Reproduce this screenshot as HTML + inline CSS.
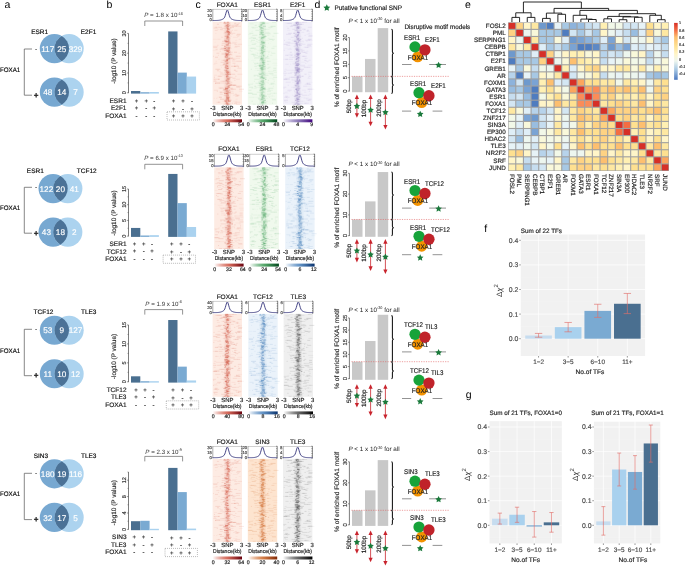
<!DOCTYPE html><html><head><meta charset="utf-8"><style>html,body{margin:0;padding:0;background:#fff;}body{width:685px;height:566px;overflow:hidden;font-family:"Liberation Sans",sans-serif;}svg{display:block;will-change:transform;}</style></head><body><svg width="685" height="566" viewBox="0 0 685 566" font-family="Liberation Sans, sans-serif" font-size="6.5" text-rendering="geometricPrecision"><defs><g id="nz0" fill="currentColor"><rect x="11.2" width="7" height="83.0" opacity="0.05"/><rect x="12.7" width="4" height="83.0" opacity="0.07"/><rect x="11.21" y="0" width="1.5" height="1" opacity="0.33"/><rect x="14.41" y="0" width="2" height="1" opacity="0.24"/><rect x="14.07" y="0" width="1" height="1" opacity="0.11"/><rect x="6.95" y="0" width="2" height="1" opacity="0.07"/><rect x="15.75" y="1" width="1.5" height="1" opacity="0.15"/><rect x="10.82" y="1" width="2" height="1" opacity="0.22"/><rect x="25.43" y="1" width="2" height="1" opacity="0.07"/><rect x="12.17" y="1" width="3" height="1" opacity="0.13"/><rect x="21.6" y="1" width="2" height="1" opacity="0.12"/><rect x="14.61" y="2" width="1.5" height="1" opacity="0.35"/><rect x="4.29" y="2" width="2" height="1" opacity="0.12"/><rect x="24.12" y="2" width="2" height="1" opacity="0.14"/><rect x="21.1" y="2" width="4" height="1" opacity="0.04"/><rect x="14.62" y="2" width="1" height="1" opacity="0.1"/><rect x="14.62" y="3" width="3" height="1" opacity="0.21"/><rect x="13.1" y="3" width="2" height="1" opacity="0.42"/><rect x="20.1" y="3" width="1" height="1" opacity="0.13"/><rect x="17.2" y="3" width="3" height="1" opacity="0.06"/><rect x="21.75" y="3" width="4" height="1" opacity="0.11"/><rect x="11.89" y="4" width="3" height="1" opacity="0.18"/><rect x="15.12" y="4" width="2" height="1" opacity="0.15"/><rect x="14.25" y="4" width="2" height="1" opacity="0.33"/><rect x="18.95" y="4" width="5" height="1" opacity="0.13"/><rect x="23.39" y="4" width="5" height="1" opacity="0.1"/><rect x="14.11" y="5" width="1" height="1" opacity="0.25"/><rect x="13.36" y="5" width="3" height="1" opacity="0.14"/><rect x="5.52" y="5" width="4" height="1" opacity="0.11"/><rect x="2.75" y="5" width="2" height="1" opacity="0.1"/><rect x="17.42" y="5" width="4" height="1" opacity="0.13"/><rect x="1.03" y="5" width="4" height="1" opacity="0.05"/><rect x="14.2" y="6" width="1.5" height="1" opacity="0.4"/><rect x="13.69" y="6" width="1.5" height="1" opacity="0.13"/><rect x="15.25" y="6" width="1" height="1" opacity="0.18"/><rect x="0.97" y="6" width="4" height="1" opacity="0.08"/><rect x="9.07" y="6" width="4" height="1" opacity="0.09"/><rect x="16.01" y="6" width="3" height="1" opacity="0.08"/><rect x="14.72" y="7" width="2.5" height="1" opacity="0.12"/><rect x="14.36" y="7" width="2.5" height="1" opacity="0.37"/><rect x="5.03" y="7" width="1" height="1" opacity="0.07"/><rect x="7.17" y="7" width="3" height="1" opacity="0.12"/><rect x="14.2" y="8" width="1" height="1" opacity="0.42"/><rect x="7.78" y="8" width="4" height="1" opacity="0.03"/><rect x="2.11" y="8" width="3" height="1" opacity="0.1"/><rect x="19.15" y="8" width="1" height="1" opacity="0.12"/><rect x="21.68" y="8" width="3" height="1" opacity="0.07"/><rect x="16.13" y="9" width="1" height="1" opacity="0.11"/><rect x="13.61" y="9" width="3" height="1" opacity="0.37"/><rect x="14.78" y="9" width="1.5" height="1" opacity="0.39"/><rect x="18.01" y="9" width="1" height="1" opacity="0.11"/><rect x="13.39" y="9" width="2" height="1" opacity="0.07"/><rect x="12.75" y="10" width="1.5" height="1" opacity="0.17"/><rect x="14.37" y="10" width="3" height="1" opacity="0.4"/><rect x="16.07" y="10" width="1" height="1" opacity="0.3"/><rect x="11.55" y="10" width="5" height="1" opacity="0.09"/><rect x="17.2" y="10" width="2" height="1" opacity="0.12"/><rect x="15.43" y="11" width="2.5" height="1" opacity="0.33"/><rect x="14.81" y="11" width="1" height="1" opacity="0.12"/><rect x="10.99" y="11" width="5" height="1" opacity="0.05"/><rect x="2.8" y="11" width="1" height="1" opacity="0.06"/><rect x="17.76" y="11" width="5" height="1" opacity="0.09"/><rect x="14.43" y="12" width="3" height="1" opacity="0.15"/><rect x="15.2" y="12" width="2" height="1" opacity="0.34"/><rect x="18.89" y="12" width="1" height="1" opacity="0.1"/><rect x="12.79" y="12" width="3" height="1" opacity="0.04"/><rect x="24.17" y="12" width="4" height="1" opacity="0.13"/><rect x="13.99" y="13" width="2" height="1" opacity="0.17"/><rect x="16.15" y="13" width="1" height="1" opacity="0.17"/><rect x="14.47" y="13" width="2" height="1" opacity="0.08"/><rect x="23.38" y="13" width="4" height="1" opacity="0.07"/><rect x="13.3" y="14" width="3" height="1" opacity="0.29"/><rect x="14.54" y="14" width="1" height="1" opacity="0.29"/><rect x="12.11" y="14" width="1" height="1" opacity="0.32"/><rect x="24.62" y="14" width="2" height="1" opacity="0.08"/><rect x="18.34" y="14" width="1" height="1" opacity="0.05"/><rect x="13.88" y="15" width="1" height="1" opacity="0.3"/><rect x="14.23" y="15" width="2.5" height="1" opacity="0.4"/><rect x="8.59" y="15" width="2" height="1" opacity="0.07"/><rect x="20.23" y="15" width="5" height="1" opacity="0.05"/><rect x="14.05" y="16" width="2.5" height="1" opacity="0.13"/><rect x="13.39" y="16" width="2" height="1" opacity="0.15"/><rect x="11.71" y="16" width="1" height="1" opacity="0.05"/><rect x="13.71" y="16" width="4" height="1" opacity="0.11"/><rect x="13.91" y="17" width="3" height="1" opacity="0.24"/><rect x="0.19" y="17" width="4" height="1" opacity="0.04"/><rect x="26.09" y="17" width="2" height="1" opacity="0.05"/><rect x="4.76" y="17" width="3" height="1" opacity="0.06"/><rect x="11.41" y="18" width="2.5" height="1" opacity="0.18"/><rect x="15.68" y="18" width="1" height="1" opacity="0.33"/><rect x="22.61" y="18" width="2" height="1" opacity="0.04"/><rect x="10.98" y="18" width="3" height="1" opacity="0.04"/><rect x="11.84" y="19" width="3" height="1" opacity="0.18"/><rect x="15.64" y="19" width="1" height="1" opacity="0.25"/><rect x="12.73" y="19" width="3" height="1" opacity="0.42"/><rect x="9.39" y="19" width="3" height="1" opacity="0.12"/><rect x="12.09" y="19" width="5" height="1" opacity="0.11"/><rect x="13.97" y="20" width="3" height="1" opacity="0.23"/><rect x="12.79" y="20" width="1.5" height="1" opacity="0.21"/><rect x="16.31" y="20" width="2" height="1" opacity="0.11"/><rect x="19.66" y="20" width="5" height="1" opacity="0.05"/><rect x="2.03" y="20" width="1" height="1" opacity="0.03"/><rect x="15.75" y="21" width="2.5" height="1" opacity="0.17"/><rect x="15.18" y="21" width="1" height="1" opacity="0.29"/><rect x="9.09" y="21" width="3" height="1" opacity="0.13"/><rect x="18.37" y="21" width="5" height="1" opacity="0.06"/><rect x="16.15" y="21" width="2" height="1" opacity="0.07"/><rect x="13.12" y="22" width="2.5" height="1" opacity="0.24"/><rect x="15.11" y="22" width="1" height="1" opacity="0.27"/><rect x="21.75" y="22" width="3" height="1" opacity="0.1"/><rect x="25.49" y="22" width="4" height="1" opacity="0.09"/><rect x="13.48" y="23" width="2.5" height="1" opacity="0.32"/><rect x="4.81" y="23" width="1" height="1" opacity="0.11"/><rect x="16.2" y="23" width="2" height="1" opacity="0.09"/><rect x="8.95" y="23" width="2" height="1" opacity="0.14"/><rect x="11.55" y="24" width="1.5" height="1" opacity="0.36"/><rect x="22.16" y="24" width="5" height="1" opacity="0.1"/><rect x="11.88" y="24" width="1" height="1" opacity="0.06"/><rect x="0.25" y="24" width="5" height="1" opacity="0.06"/><rect x="15.3" y="25" width="2.5" height="1" opacity="0.26"/><rect x="13.46" y="25" width="1.5" height="1" opacity="0.25"/><rect x="21.71" y="25" width="3" height="1" opacity="0.07"/><rect x="0.66" y="25" width="4" height="1" opacity="0.13"/><rect x="11.78" y="26" width="1.5" height="1" opacity="0.4"/><rect x="15.03" y="26" width="2.5" height="1" opacity="0.37"/><rect x="8.17" y="26" width="5" height="1" opacity="0.12"/><rect x="10.15" y="26" width="5" height="1" opacity="0.11"/><rect x="17.88" y="26" width="1" height="1" opacity="0.09"/><rect x="13.1" y="27" width="1" height="1" opacity="0.26"/><rect x="14.73" y="27" width="2.5" height="1" opacity="0.22"/><rect x="2.99" y="27" width="2" height="1" opacity="0.1"/><rect x="7.05" y="27" width="5" height="1" opacity="0.11"/><rect x="13.69" y="28" width="3" height="1" opacity="0.34"/><rect x="11.76" y="28" width="2" height="1" opacity="0.23"/><rect x="16.35" y="28" width="1" height="1" opacity="0.24"/><rect x="0.01" y="28" width="5" height="1" opacity="0.03"/><rect x="9.84" y="28" width="4" height="1" opacity="0.08"/><rect x="11.57" y="28" width="4" height="1" opacity="0.1"/><rect x="14.08" y="29" width="1" height="1" opacity="0.27"/><rect x="13.89" y="29" width="2.5" height="1" opacity="0.38"/><rect x="7.13" y="29" width="1" height="1" opacity="0.11"/><rect x="13.93" y="29" width="4" height="1" opacity="0.12"/><rect x="15.53" y="30" width="2" height="1" opacity="0.29"/><rect x="21.46" y="30" width="3" height="1" opacity="0.11"/><rect x="15.16" y="30" width="5" height="1" opacity="0.1"/><rect x="12.6" y="31" width="2" height="1" opacity="0.31"/><rect x="14.78" y="31" width="1.5" height="1" opacity="0.31"/><rect x="25.82" y="31" width="2" height="1" opacity="0.06"/><rect x="8.91" y="31" width="4" height="1" opacity="0.08"/><rect x="3.74" y="31" width="3" height="1" opacity="0.1"/><rect x="12.84" y="32" width="3" height="1" opacity="0.38"/><rect x="13.25" y="32" width="2.5" height="1" opacity="0.2"/><rect x="16.78" y="32" width="3" height="1" opacity="0.09"/><rect x="8.94" y="32" width="4" height="1" opacity="0.1"/><rect x="14.8" y="32" width="4" height="1" opacity="0.12"/><rect x="13.61" y="32" width="1" height="1" opacity="0.11"/><rect x="13.03" y="33" width="1.5" height="1" opacity="0.42"/><rect x="13.26" y="33" width="2" height="1" opacity="0.24"/><rect x="14.02" y="33" width="3" height="1" opacity="0.16"/><rect x="18.71" y="33" width="1" height="1" opacity="0.08"/><rect x="5.29" y="33" width="1" height="1" opacity="0.09"/><rect x="12.13" y="34" width="2" height="1" opacity="0.12"/><rect x="14.66" y="34" width="1" height="1" opacity="0.21"/><rect x="12.41" y="34" width="3" height="1" opacity="0.19"/><rect x="23.13" y="34" width="5" height="1" opacity="0.12"/><rect x="23.99" y="34" width="1" height="1" opacity="0.03"/><rect x="11.98" y="34" width="1" height="1" opacity="0.11"/><rect x="0.43" y="34" width="1" height="1" opacity="0.1"/><rect x="12.2" y="35" width="3" height="1" opacity="0.35"/><rect x="2.42" y="35" width="3" height="1" opacity="0.12"/><rect x="19.11" y="35" width="1" height="1" opacity="0.06"/><rect x="15.85" y="36" width="1.5" height="1" opacity="0.33"/><rect x="13.72" y="36" width="2.5" height="1" opacity="0.12"/><rect x="16.67" y="36" width="3" height="1" opacity="0.11"/><rect x="19.62" y="36" width="4" height="1" opacity="0.04"/><rect x="23.45" y="36" width="4" height="1" opacity="0.08"/><rect x="17.62" y="36" width="3" height="1" opacity="0.11"/><rect x="14.32" y="37" width="3" height="1" opacity="0.1"/><rect x="13.98" y="37" width="2" height="1" opacity="0.16"/><rect x="13.43" y="37" width="2.5" height="1" opacity="0.15"/><rect x="5.59" y="37" width="2" height="1" opacity="0.04"/><rect x="16.63" y="37" width="1" height="1" opacity="0.09"/><rect x="20.73" y="37" width="1" height="1" opacity="0.12"/><rect x="18.74" y="37" width="5" height="1" opacity="0.06"/><rect x="14.22" y="38" width="1" height="1" opacity="0.38"/><rect x="13.3" y="38" width="2" height="1" opacity="0.35"/><rect x="10.59" y="38" width="5" height="1" opacity="0.1"/><rect x="19.3" y="38" width="3" height="1" opacity="0.05"/><rect x="8.98" y="38" width="3" height="1" opacity="0.09"/><rect x="12.11" y="39" width="3" height="1" opacity="0.31"/><rect x="3.06" y="39" width="1" height="1" opacity="0.07"/><rect x="19.25" y="39" width="5" height="1" opacity="0.06"/><rect x="24.08" y="39" width="5" height="1" opacity="0.11"/><rect x="14.41" y="40" width="1.5" height="1" opacity="0.13"/><rect x="13.01" y="40" width="1" height="1" opacity="0.22"/><rect x="7.93" y="40" width="4" height="1" opacity="0.11"/><rect x="16.64" y="40" width="1" height="1" opacity="0.07"/><rect x="13.66" y="41" width="1" height="1" opacity="0.26"/><rect x="14.13" y="41" width="1.5" height="1" opacity="0.35"/><rect x="11.72" y="41" width="4" height="1" opacity="0.08"/><rect x="19.9" y="41" width="3" height="1" opacity="0.1"/><rect x="1.74" y="41" width="3" height="1" opacity="0.07"/><rect x="10.58" y="42" width="1.5" height="1" opacity="0.12"/><rect x="0.8" y="42" width="2" height="1" opacity="0.04"/><rect x="10.54" y="42" width="4" height="1" opacity="0.1"/><rect x="21.63" y="42" width="1" height="1" opacity="0.06"/><rect x="9.31" y="42" width="3" height="1" opacity="0.04"/><rect x="12.83" y="43" width="2" height="1" opacity="0.31"/><rect x="24.01" y="43" width="1" height="1" opacity="0.09"/><rect x="7.34" y="43" width="4" height="1" opacity="0.03"/><rect x="9.98" y="43" width="5" height="1" opacity="0.04"/><rect x="14.56" y="44" width="1" height="1" opacity="0.34"/><rect x="12.65" y="44" width="3" height="1" opacity="0.33"/><rect x="21.46" y="44" width="5" height="1" opacity="0.13"/><rect x="21.36" y="44" width="1" height="1" opacity="0.09"/><rect x="18.46" y="44" width="5" height="1" opacity="0.13"/><rect x="12.08" y="45" width="2" height="1" opacity="0.34"/><rect x="25.39" y="45" width="1" height="1" opacity="0.06"/><rect x="8.31" y="45" width="1" height="1" opacity="0.05"/><rect x="14.37" y="46" width="2" height="1" opacity="0.36"/><rect x="12.64" y="46" width="2.5" height="1" opacity="0.31"/><rect x="13.45" y="46" width="2" height="1" opacity="0.11"/><rect x="24.73" y="46" width="4" height="1" opacity="0.08"/><rect x="13.81" y="47" width="1" height="1" opacity="0.16"/><rect x="14.32" y="47" width="1" height="1" opacity="0.03"/><rect x="2.74" y="47" width="5" height="1" opacity="0.13"/><rect x="11.31" y="48" width="3" height="1" opacity="0.19"/><rect x="13.26" y="48" width="2.5" height="1" opacity="0.14"/><rect x="13.17" y="48" width="1" height="1" opacity="0.17"/><rect x="21.88" y="48" width="1" height="1" opacity="0.07"/><rect x="21.22" y="48" width="2" height="1" opacity="0.11"/><rect x="4.3" y="48" width="2" height="1" opacity="0.12"/><rect x="14.65" y="49" width="2" height="1" opacity="0.15"/><rect x="12.93" y="49" width="2.5" height="1" opacity="0.23"/><rect x="4.38" y="49" width="4" height="1" opacity="0.04"/><rect x="22.84" y="49" width="2" height="1" opacity="0.11"/><rect x="12.81" y="49" width="2" height="1" opacity="0.09"/><rect x="13.48" y="50" width="3" height="1" opacity="0.3"/><rect x="13.92" y="50" width="3" height="1" opacity="0.26"/><rect x="17.52" y="50" width="1" height="1" opacity="0.04"/><rect x="11.74" y="50" width="3" height="1" opacity="0.08"/><rect x="15.66" y="50" width="3" height="1" opacity="0.05"/><rect x="7.09" y="50" width="3" height="1" opacity="0.06"/><rect x="13.98" y="51" width="1.5" height="1" opacity="0.33"/><rect x="15.75" y="51" width="2" height="1" opacity="0.04"/><rect x="14.66" y="51" width="2" height="1" opacity="0.12"/><rect x="7.71" y="51" width="3" height="1" opacity="0.06"/><rect x="15.21" y="52" width="3" height="1" opacity="0.32"/><rect x="12.74" y="52" width="3" height="1" opacity="0.34"/><rect x="17.6" y="52" width="5" height="1" opacity="0.11"/><rect x="13.88" y="52" width="3" height="1" opacity="0.04"/><rect x="7.21" y="52" width="5" height="1" opacity="0.07"/><rect x="24.93" y="52" width="5" height="1" opacity="0.08"/><rect x="14" y="53" width="1.5" height="1" opacity="0.31"/><rect x="9.46" y="53" width="3" height="1" opacity="0.04"/><rect x="1.41" y="53" width="3" height="1" opacity="0.05"/><rect x="13.55" y="54" width="2.5" height="1" opacity="0.29"/><rect x="14.15" y="54" width="1.5" height="1" opacity="0.12"/><rect x="13.24" y="54" width="1.5" height="1" opacity="0.32"/><rect x="4.49" y="54" width="4" height="1" opacity="0.05"/><rect x="22.75" y="54" width="1" height="1" opacity="0.12"/><rect x="5.64" y="54" width="4" height="1" opacity="0.12"/><rect x="13.55" y="55" width="1.5" height="1" opacity="0.29"/><rect x="1.36" y="55" width="1" height="1" opacity="0.13"/><rect x="15.95" y="55" width="4" height="1" opacity="0.12"/><rect x="14.85" y="56" width="2.5" height="1" opacity="0.12"/><rect x="14.1" y="56" width="2" height="1" opacity="0.15"/><rect x="13.86" y="56" width="4" height="1" opacity="0.14"/><rect x="20.01" y="56" width="3" height="1" opacity="0.11"/><rect x="13.84" y="57" width="3" height="1" opacity="0.3"/><rect x="14.89" y="57" width="2.5" height="1" opacity="0.13"/><rect x="23.28" y="57" width="4" height="1" opacity="0.07"/><rect x="1.34" y="57" width="5" height="1" opacity="0.11"/><rect x="5.4" y="57" width="2" height="1" opacity="0.13"/><rect x="0.99" y="57" width="1" height="1" opacity="0.08"/><rect x="13.07" y="58" width="1.5" height="1" opacity="0.4"/><rect x="14.48" y="58" width="2" height="1" opacity="0.19"/><rect x="1.39" y="58" width="2" height="1" opacity="0.04"/><rect x="21.78" y="58" width="1" height="1" opacity="0.1"/><rect x="15.15" y="59" width="2.5" height="1" opacity="0.11"/><rect x="13.91" y="59" width="1" height="1" opacity="0.23"/><rect x="14.28" y="59" width="2.5" height="1" opacity="0.14"/><rect x="7.76" y="59" width="3" height="1" opacity="0.09"/><rect x="0.85" y="59" width="3" height="1" opacity="0.1"/><rect x="10.06" y="59" width="5" height="1" opacity="0.12"/><rect x="14.16" y="60" width="2" height="1" opacity="0.15"/><rect x="3.04" y="60" width="4" height="1" opacity="0.06"/><rect x="6.64" y="60" width="5" height="1" opacity="0.04"/><rect x="14.93" y="60" width="5" height="1" opacity="0.05"/><rect x="18.49" y="60" width="1" height="1" opacity="0.08"/><rect x="14.43" y="61" width="2.5" height="1" opacity="0.18"/><rect x="15.05" y="61" width="1" height="1" opacity="0.13"/><rect x="12.66" y="61" width="5" height="1" opacity="0.13"/><rect x="2.39" y="61" width="5" height="1" opacity="0.14"/><rect x="6.98" y="61" width="5" height="1" opacity="0.06"/><rect x="2.47" y="61" width="1" height="1" opacity="0.12"/><rect x="13.95" y="62" width="1" height="1" opacity="0.4"/><rect x="17.59" y="62" width="2" height="1" opacity="0.07"/><rect x="17.96" y="62" width="2" height="1" opacity="0.1"/><rect x="15.93" y="63" width="3" height="1" opacity="0.37"/><rect x="18.41" y="63" width="5" height="1" opacity="0.14"/><rect x="19.75" y="63" width="3" height="1" opacity="0.12"/><rect x="20.25" y="63" width="4" height="1" opacity="0.08"/><rect x="14.77" y="64" width="2" height="1" opacity="0.36"/><rect x="13.24" y="64" width="1.5" height="1" opacity="0.13"/><rect x="23.52" y="64" width="3" height="1" opacity="0.13"/><rect x="26.21" y="64" width="3" height="1" opacity="0.1"/><rect x="15.77" y="65" width="1.5" height="1" opacity="0.28"/><rect x="12.07" y="65" width="1" height="1" opacity="0.12"/><rect x="14.77" y="65" width="2" height="1" opacity="0.22"/><rect x="5.85" y="65" width="5" height="1" opacity="0.04"/><rect x="23.76" y="65" width="4" height="1" opacity="0.1"/><rect x="12.43" y="66" width="3" height="1" opacity="0.33"/><rect x="12.8" y="66" width="3" height="1" opacity="0.4"/><rect x="19.2" y="66" width="1" height="1" opacity="0.06"/><rect x="7.05" y="66" width="4" height="1" opacity="0.12"/><rect x="5.94" y="66" width="3" height="1" opacity="0.06"/><rect x="17.77" y="66" width="2" height="1" opacity="0.13"/><rect x="10.91" y="67" width="2.5" height="1" opacity="0.3"/><rect x="12.6" y="67" width="2.5" height="1" opacity="0.35"/><rect x="26.38" y="67" width="5" height="1" opacity="0.11"/><rect x="18.28" y="67" width="5" height="1" opacity="0.11"/><rect x="18" y="67" width="3" height="1" opacity="0.08"/><rect x="13.86" y="68" width="1.5" height="1" opacity="0.2"/><rect x="15.99" y="68" width="1.5" height="1" opacity="0.21"/><rect x="1.2" y="68" width="4" height="1" opacity="0.07"/><rect x="10.02" y="68" width="5" height="1" opacity="0.14"/><rect x="11.6" y="69" width="3" height="1" opacity="0.11"/><rect x="13.13" y="69" width="3" height="1" opacity="0.33"/><rect x="26.23" y="69" width="4" height="1" opacity="0.05"/><rect x="4.18" y="69" width="1" height="1" opacity="0.12"/><rect x="17.88" y="69" width="3" height="1" opacity="0.06"/><rect x="16.06" y="70" width="2" height="1" opacity="0.29"/><rect x="14.89" y="70" width="1" height="1" opacity="0.39"/><rect x="7.68" y="70" width="4" height="1" opacity="0.11"/><rect x="7.03" y="70" width="2" height="1" opacity="0.12"/><rect x="13.82" y="71" width="2" height="1" opacity="0.38"/><rect x="13.9" y="71" width="1" height="1" opacity="0.15"/><rect x="11.44" y="71" width="3" height="1" opacity="0.4"/><rect x="20.14" y="71" width="1" height="1" opacity="0.04"/><rect x="11.53" y="71" width="3" height="1" opacity="0.05"/><rect x="14.45" y="71" width="5" height="1" opacity="0.09"/><rect x="19.78" y="71" width="1" height="1" opacity="0.13"/><rect x="13.53" y="72" width="1.5" height="1" opacity="0.12"/><rect x="14" y="72" width="2" height="1" opacity="0.24"/><rect x="22.14" y="72" width="2" height="1" opacity="0.1"/><rect x="7.21" y="72" width="3" height="1" opacity="0.1"/><rect x="13.81" y="73" width="2.5" height="1" opacity="0.32"/><rect x="23.84" y="73" width="3" height="1" opacity="0.13"/><rect x="20.35" y="73" width="5" height="1" opacity="0.06"/><rect x="11.15" y="73" width="3" height="1" opacity="0.13"/><rect x="13.34" y="74" width="3" height="1" opacity="0.13"/><rect x="22.79" y="74" width="3" height="1" opacity="0.11"/><rect x="13.16" y="74" width="2" height="1" opacity="0.13"/><rect x="13.41" y="75" width="2.5" height="1" opacity="0.4"/><rect x="15.13" y="75" width="2" height="1" opacity="0.3"/><rect x="4.71" y="75" width="4" height="1" opacity="0.03"/><rect x="6.4" y="75" width="3" height="1" opacity="0.14"/><rect x="14.05" y="76" width="2.5" height="1" opacity="0.24"/><rect x="13.6" y="76" width="2.5" height="1" opacity="0.36"/><rect x="15.86" y="76" width="1" height="1" opacity="0.1"/><rect x="1.07" y="76" width="1" height="1" opacity="0.06"/><rect x="7.94" y="76" width="1" height="1" opacity="0.04"/><rect x="3.71" y="76" width="1" height="1" opacity="0.08"/><rect x="14.8" y="77" width="2" height="1" opacity="0.17"/><rect x="13.2" y="77" width="3" height="1" opacity="0.32"/><rect x="22.96" y="77" width="2" height="1" opacity="0.05"/><rect x="7.33" y="77" width="4" height="1" opacity="0.14"/><rect x="11.72" y="78" width="3" height="1" opacity="0.21"/><rect x="15.55" y="78" width="1" height="1" opacity="0.41"/><rect x="13.31" y="78" width="3" height="1" opacity="0.21"/><rect x="16.21" y="78" width="3" height="1" opacity="0.11"/><rect x="17.28" y="78" width="1" height="1" opacity="0.05"/><rect x="14.99" y="79" width="3" height="1" opacity="0.42"/><rect x="12.03" y="79" width="2.5" height="1" opacity="0.4"/><rect x="12.06" y="79" width="1" height="1" opacity="0.11"/><rect x="20.69" y="79" width="4" height="1" opacity="0.05"/><rect x="9.8" y="79" width="3" height="1" opacity="0.06"/><rect x="15.23" y="79" width="1" height="1" opacity="0.09"/><rect x="13.08" y="80" width="2.5" height="1" opacity="0.16"/><rect x="13.28" y="80" width="1" height="1" opacity="0.27"/><rect x="5.13" y="80" width="2" height="1" opacity="0.14"/><rect x="22.65" y="80" width="5" height="1" opacity="0.09"/><rect x="3.37" y="80" width="5" height="1" opacity="0.04"/><rect x="13.09" y="81" width="2.5" height="1" opacity="0.34"/><rect x="14.6" y="81" width="1" height="1" opacity="0.1"/><rect x="21.38" y="81" width="3" height="1" opacity="0.11"/><rect x="19.18" y="81" width="1" height="1" opacity="0.12"/><rect x="13.62" y="81" width="1" height="1" opacity="0.12"/><rect x="13.59" y="82" width="2.5" height="1" opacity="0.32"/><rect x="14.68" y="82" width="3" height="1" opacity="0.21"/><rect x="23.38" y="82" width="4" height="1" opacity="0.1"/><rect x="10.51" y="82" width="4" height="1" opacity="0.07"/></g><g id="nz1" fill="currentColor"><rect x="11.2" width="7" height="83.0" opacity="0.05"/><rect x="12.7" width="4" height="83.0" opacity="0.07"/><rect x="14.9" y="0" width="2" height="1" opacity="0.25"/><rect x="12.42" y="0" width="3" height="1" opacity="0.17"/><rect x="24.22" y="0" width="4" height="1" opacity="0.11"/><rect x="5.61" y="0" width="4" height="1" opacity="0.04"/><rect x="13.86" y="1" width="3" height="1" opacity="0.22"/><rect x="14.51" y="1" width="2.5" height="1" opacity="0.35"/><rect x="16.83" y="1" width="4" height="1" opacity="0.08"/><rect x="1.66" y="1" width="4" height="1" opacity="0.06"/><rect x="12.77" y="2" width="2" height="1" opacity="0.31"/><rect x="10.42" y="2" width="4" height="1" opacity="0.06"/><rect x="2.03" y="2" width="4" height="1" opacity="0.03"/><rect x="12.25" y="2" width="5" height="1" opacity="0.04"/><rect x="12.38" y="3" width="2" height="1" opacity="0.33"/><rect x="6.92" y="3" width="2" height="1" opacity="0.14"/><rect x="11.4" y="3" width="3" height="1" opacity="0.04"/><rect x="10.79" y="4" width="2" height="1" opacity="0.39"/><rect x="15.19" y="4" width="3" height="1" opacity="0.25"/><rect x="22.28" y="4" width="5" height="1" opacity="0.06"/><rect x="22.97" y="4" width="5" height="1" opacity="0.11"/><rect x="0.16" y="4" width="1" height="1" opacity="0.04"/><rect x="11.7" y="5" width="2.5" height="1" opacity="0.37"/><rect x="13.82" y="5" width="1" height="1" opacity="0.32"/><rect x="20.45" y="5" width="4" height="1" opacity="0.12"/><rect x="3.7" y="5" width="2" height="1" opacity="0.13"/><rect x="5.3" y="5" width="5" height="1" opacity="0.08"/><rect x="23.48" y="5" width="2" height="1" opacity="0.04"/><rect x="14.98" y="6" width="1" height="1" opacity="0.12"/><rect x="12.51" y="6" width="3" height="1" opacity="0.32"/><rect x="12.22" y="6" width="2" height="1" opacity="0.06"/><rect x="21.77" y="6" width="1" height="1" opacity="0.06"/><rect x="4.07" y="6" width="4" height="1" opacity="0.05"/><rect x="11.66" y="7" width="2" height="1" opacity="0.18"/><rect x="17.25" y="7" width="2" height="1" opacity="0.03"/><rect x="16.71" y="7" width="5" height="1" opacity="0.08"/><rect x="15.03" y="7" width="3" height="1" opacity="0.06"/><rect x="13.13" y="8" width="2.5" height="1" opacity="0.31"/><rect x="12.35" y="8" width="2" height="1" opacity="0.11"/><rect x="7.61" y="8" width="3" height="1" opacity="0.13"/><rect x="10.58" y="8" width="1" height="1" opacity="0.11"/><rect x="13.49" y="9" width="1.5" height="1" opacity="0.15"/><rect x="3.85" y="9" width="1" height="1" opacity="0.07"/><rect x="11.81" y="9" width="2" height="1" opacity="0.1"/><rect x="12.34" y="10" width="1.5" height="1" opacity="0.14"/><rect x="13.07" y="10" width="3" height="1" opacity="0.28"/><rect x="17.84" y="10" width="3" height="1" opacity="0.06"/><rect x="11.49" y="10" width="4" height="1" opacity="0.14"/><rect x="19.84" y="10" width="2" height="1" opacity="0.04"/><rect x="14.12" y="11" width="1" height="1" opacity="0.19"/><rect x="12.72" y="11" width="1.5" height="1" opacity="0.4"/><rect x="25.73" y="11" width="5" height="1" opacity="0.13"/><rect x="1.54" y="11" width="4" height="1" opacity="0.13"/><rect x="17.62" y="11" width="5" height="1" opacity="0.13"/><rect x="14.16" y="12" width="1" height="1" opacity="0.11"/><rect x="11.43" y="12" width="2" height="1" opacity="0.29"/><rect x="13.55" y="12" width="3" height="1" opacity="0.36"/><rect x="13.74" y="12" width="1" height="1" opacity="0.05"/><rect x="18.84" y="12" width="4" height="1" opacity="0.04"/><rect x="0.17" y="12" width="3" height="1" opacity="0.05"/><rect x="14.29" y="13" width="1.5" height="1" opacity="0.33"/><rect x="4.54" y="13" width="5" height="1" opacity="0.12"/><rect x="19.52" y="13" width="2" height="1" opacity="0.08"/><rect x="15.64" y="14" width="3" height="1" opacity="0.38"/><rect x="15.65" y="14" width="1" height="1" opacity="0.07"/><rect x="24.58" y="14" width="2" height="1" opacity="0.09"/><rect x="13.73" y="15" width="1.5" height="1" opacity="0.14"/><rect x="14.45" y="15" width="3" height="1" opacity="0.33"/><rect x="13.11" y="15" width="3" height="1" opacity="0.29"/><rect x="10.64" y="15" width="2" height="1" opacity="0.11"/><rect x="3.07" y="15" width="5" height="1" opacity="0.04"/><rect x="2.54" y="15" width="3" height="1" opacity="0.06"/><rect x="13.07" y="16" width="2" height="1" opacity="0.32"/><rect x="13.02" y="16" width="1.5" height="1" opacity="0.2"/><rect x="14.99" y="16" width="1.5" height="1" opacity="0.23"/><rect x="4.34" y="16" width="4" height="1" opacity="0.08"/><rect x="5.11" y="16" width="3" height="1" opacity="0.11"/><rect x="19.96" y="16" width="2" height="1" opacity="0.07"/><rect x="1.02" y="16" width="3" height="1" opacity="0.09"/><rect x="12.67" y="17" width="2.5" height="1" opacity="0.14"/><rect x="21.71" y="17" width="5" height="1" opacity="0.07"/><rect x="20.92" y="17" width="4" height="1" opacity="0.1"/><rect x="25.86" y="17" width="1" height="1" opacity="0.08"/><rect x="7.97" y="17" width="2" height="1" opacity="0.1"/><rect x="10.42" y="18" width="2.5" height="1" opacity="0.11"/><rect x="14.54" y="18" width="1" height="1" opacity="0.17"/><rect x="3.31" y="18" width="4" height="1" opacity="0.12"/><rect x="24.2" y="18" width="2" height="1" opacity="0.08"/><rect x="17.45" y="18" width="4" height="1" opacity="0.06"/><rect x="13.07" y="19" width="2.5" height="1" opacity="0.14"/><rect x="13.09" y="19" width="1.5" height="1" opacity="0.27"/><rect x="7.85" y="19" width="2" height="1" opacity="0.08"/><rect x="22.68" y="19" width="1" height="1" opacity="0.04"/><rect x="2.83" y="19" width="1" height="1" opacity="0.11"/><rect x="12.84" y="20" width="3" height="1" opacity="0.19"/><rect x="15.27" y="20" width="2" height="1" opacity="0.4"/><rect x="13.48" y="20" width="2.5" height="1" opacity="0.34"/><rect x="2.67" y="20" width="4" height="1" opacity="0.04"/><rect x="14.29" y="20" width="4" height="1" opacity="0.06"/><rect x="9.13" y="20" width="4" height="1" opacity="0.05"/><rect x="13.82" y="21" width="3" height="1" opacity="0.35"/><rect x="13.46" y="21" width="4" height="1" opacity="0.11"/><rect x="20.14" y="21" width="1" height="1" opacity="0.07"/><rect x="22.04" y="21" width="1" height="1" opacity="0.03"/><rect x="6.74" y="21" width="2" height="1" opacity="0.09"/><rect x="12.46" y="22" width="1.5" height="1" opacity="0.28"/><rect x="13.92" y="22" width="1" height="1" opacity="0.16"/><rect x="14.77" y="22" width="4" height="1" opacity="0.04"/><rect x="3.89" y="22" width="4" height="1" opacity="0.14"/><rect x="13.88" y="23" width="2.5" height="1" opacity="0.25"/><rect x="14.72" y="23" width="1" height="1" opacity="0.15"/><rect x="15.03" y="23" width="2" height="1" opacity="0.1"/><rect x="0.19" y="23" width="3" height="1" opacity="0.03"/><rect x="14.25" y="24" width="1.5" height="1" opacity="0.42"/><rect x="15.83" y="24" width="2.5" height="1" opacity="0.18"/><rect x="8.46" y="24" width="5" height="1" opacity="0.07"/><rect x="24.81" y="24" width="4" height="1" opacity="0.07"/><rect x="13.19" y="25" width="2.5" height="1" opacity="0.41"/><rect x="14.86" y="25" width="1.5" height="1" opacity="0.31"/><rect x="18.85" y="25" width="1" height="1" opacity="0.07"/><rect x="13.93" y="25" width="2" height="1" opacity="0.06"/><rect x="12.44" y="26" width="1.5" height="1" opacity="0.13"/><rect x="13.51" y="26" width="2.5" height="1" opacity="0.39"/><rect x="14.58" y="26" width="1" height="1" opacity="0.2"/><rect x="3.39" y="26" width="5" height="1" opacity="0.11"/><rect x="1.61" y="26" width="5" height="1" opacity="0.07"/><rect x="2.16" y="26" width="2" height="1" opacity="0.05"/><rect x="23.63" y="26" width="3" height="1" opacity="0.12"/><rect x="13.11" y="27" width="1" height="1" opacity="0.22"/><rect x="14.56" y="27" width="3" height="1" opacity="0.25"/><rect x="6.11" y="27" width="3" height="1" opacity="0.05"/><rect x="13.09" y="27" width="2" height="1" opacity="0.06"/><rect x="13.69" y="28" width="2" height="1" opacity="0.12"/><rect x="13.67" y="28" width="1" height="1" opacity="0.32"/><rect x="12.76" y="28" width="2" height="1" opacity="0.26"/><rect x="9.66" y="28" width="5" height="1" opacity="0.07"/><rect x="1.83" y="28" width="1" height="1" opacity="0.12"/><rect x="13.36" y="29" width="1.5" height="1" opacity="0.16"/><rect x="13.77" y="29" width="3" height="1" opacity="0.16"/><rect x="15.05" y="29" width="2" height="1" opacity="0.19"/><rect x="2.71" y="29" width="2" height="1" opacity="0.07"/><rect x="16.27" y="29" width="2" height="1" opacity="0.1"/><rect x="17.67" y="29" width="5" height="1" opacity="0.06"/><rect x="15.03" y="29" width="2" height="1" opacity="0.08"/><rect x="13.12" y="30" width="2.5" height="1" opacity="0.42"/><rect x="15.05" y="30" width="1.5" height="1" opacity="0.18"/><rect x="20.65" y="30" width="1" height="1" opacity="0.14"/><rect x="23.13" y="30" width="1" height="1" opacity="0.06"/><rect x="7.22" y="30" width="3" height="1" opacity="0.03"/><rect x="14.11" y="31" width="1.5" height="1" opacity="0.32"/><rect x="12.27" y="31" width="3" height="1" opacity="0.23"/><rect x="9.04" y="31" width="1" height="1" opacity="0.07"/><rect x="23.64" y="31" width="4" height="1" opacity="0.11"/><rect x="8.86" y="31" width="4" height="1" opacity="0.04"/><rect x="13.53" y="32" width="2" height="1" opacity="0.2"/><rect x="20.39" y="32" width="1" height="1" opacity="0.08"/><rect x="4.07" y="32" width="2" height="1" opacity="0.08"/><rect x="2.91" y="32" width="5" height="1" opacity="0.12"/><rect x="13.87" y="33" width="2.5" height="1" opacity="0.12"/><rect x="14.99" y="33" width="1.5" height="1" opacity="0.38"/><rect x="22.95" y="33" width="2" height="1" opacity="0.04"/><rect x="5.27" y="33" width="5" height="1" opacity="0.11"/><rect x="22.59" y="33" width="1" height="1" opacity="0.12"/><rect x="13.28" y="34" width="1" height="1" opacity="0.23"/><rect x="15.22" y="34" width="1.5" height="1" opacity="0.23"/><rect x="19.07" y="34" width="1" height="1" opacity="0.13"/><rect x="5.4" y="34" width="2" height="1" opacity="0.08"/><rect x="19.26" y="34" width="2" height="1" opacity="0.08"/><rect x="10.04" y="34" width="5" height="1" opacity="0.1"/><rect x="13.58" y="35" width="2.5" height="1" opacity="0.15"/><rect x="17.55" y="35" width="2" height="1" opacity="0.1"/><rect x="6.72" y="35" width="5" height="1" opacity="0.09"/><rect x="18.71" y="35" width="2" height="1" opacity="0.04"/><rect x="12.58" y="36" width="1.5" height="1" opacity="0.4"/><rect x="13.09" y="36" width="3" height="1" opacity="0.33"/><rect x="13.58" y="36" width="1.5" height="1" opacity="0.2"/><rect x="6.27" y="36" width="1" height="1" opacity="0.04"/><rect x="16.63" y="36" width="5" height="1" opacity="0.11"/><rect x="6.56" y="36" width="5" height="1" opacity="0.08"/><rect x="13.79" y="37" width="2" height="1" opacity="0.16"/><rect x="12.35" y="37" width="3" height="1" opacity="0.35"/><rect x="24.73" y="37" width="5" height="1" opacity="0.04"/><rect x="0.28" y="37" width="1" height="1" opacity="0.04"/><rect x="13.77" y="38" width="3" height="1" opacity="0.35"/><rect x="16.75" y="38" width="1" height="1" opacity="0.13"/><rect x="3.4" y="38" width="5" height="1" opacity="0.04"/><rect x="11.53" y="38" width="3" height="1" opacity="0.11"/><rect x="13.73" y="39" width="2.5" height="1" opacity="0.21"/><rect x="18.95" y="39" width="4" height="1" opacity="0.09"/><rect x="19.11" y="39" width="2" height="1" opacity="0.07"/><rect x="14.21" y="40" width="2" height="1" opacity="0.31"/><rect x="14.34" y="40" width="3" height="1" opacity="0.3"/><rect x="5.17" y="40" width="1" height="1" opacity="0.05"/><rect x="12.66" y="40" width="5" height="1" opacity="0.13"/><rect x="14.67" y="41" width="2" height="1" opacity="0.21"/><rect x="14.53" y="41" width="2" height="1" opacity="0.23"/><rect x="9.02" y="41" width="5" height="1" opacity="0.11"/><rect x="24.58" y="41" width="5" height="1" opacity="0.05"/><rect x="6.12" y="41" width="4" height="1" opacity="0.11"/><rect x="14.43" y="42" width="2" height="1" opacity="0.18"/><rect x="14.69" y="42" width="3" height="1" opacity="0.11"/><rect x="15.64" y="42" width="1.5" height="1" opacity="0.24"/><rect x="6.61" y="42" width="2" height="1" opacity="0.08"/><rect x="19.32" y="42" width="2" height="1" opacity="0.1"/><rect x="12.62" y="43" width="3" height="1" opacity="0.32"/><rect x="14.72" y="43" width="1" height="1" opacity="0.28"/><rect x="11" y="43" width="2" height="1" opacity="0.33"/><rect x="14.57" y="43" width="1" height="1" opacity="0.05"/><rect x="13.1" y="43" width="2" height="1" opacity="0.14"/><rect x="9.56" y="43" width="3" height="1" opacity="0.12"/><rect x="25.75" y="43" width="4" height="1" opacity="0.04"/><rect x="14" y="44" width="2.5" height="1" opacity="0.15"/><rect x="11.1" y="44" width="2" height="1" opacity="0.27"/><rect x="14.83" y="44" width="3" height="1" opacity="0.3"/><rect x="10.84" y="44" width="4" height="1" opacity="0.1"/><rect x="6.46" y="44" width="3" height="1" opacity="0.13"/><rect x="14.04" y="45" width="1" height="1" opacity="0.11"/><rect x="12.78" y="45" width="2" height="1" opacity="0.32"/><rect x="13.61" y="45" width="3" height="1" opacity="0.29"/><rect x="20.64" y="45" width="2" height="1" opacity="0.11"/><rect x="17.69" y="45" width="1" height="1" opacity="0.06"/><rect x="13.67" y="46" width="2" height="1" opacity="0.2"/><rect x="11.89" y="46" width="3" height="1" opacity="0.37"/><rect x="12.7" y="46" width="1.5" height="1" opacity="0.22"/><rect x="19.34" y="46" width="2" height="1" opacity="0.11"/><rect x="25.45" y="46" width="3" height="1" opacity="0.13"/><rect x="7.07" y="46" width="4" height="1" opacity="0.07"/><rect x="14.35" y="46" width="4" height="1" opacity="0.12"/><rect x="12.85" y="47" width="3" height="1" opacity="0.28"/><rect x="13.43" y="47" width="2" height="1" opacity="0.22"/><rect x="13.54" y="47" width="4" height="1" opacity="0.08"/><rect x="12.78" y="47" width="5" height="1" opacity="0.11"/><rect x="14.02" y="47" width="1" height="1" opacity="0.13"/><rect x="3.08" y="47" width="1" height="1" opacity="0.13"/><rect x="12.84" y="48" width="2.5" height="1" opacity="0.17"/><rect x="14.03" y="48" width="1.5" height="1" opacity="0.12"/><rect x="25.5" y="48" width="3" height="1" opacity="0.13"/><rect x="6.7" y="48" width="4" height="1" opacity="0.04"/><rect x="9.5" y="48" width="2" height="1" opacity="0.09"/><rect x="13.06" y="49" width="2.5" height="1" opacity="0.15"/><rect x="22.12" y="49" width="4" height="1" opacity="0.07"/><rect x="20.11" y="49" width="2" height="1" opacity="0.1"/><rect x="13.93" y="50" width="1.5" height="1" opacity="0.14"/><rect x="14.24" y="50" width="3" height="1" opacity="0.09"/><rect x="26.1" y="50" width="3" height="1" opacity="0.08"/><rect x="10.23" y="51" width="1.5" height="1" opacity="0.12"/><rect x="13.44" y="51" width="3" height="1" opacity="0.3"/><rect x="12.06" y="51" width="3" height="1" opacity="0.07"/><rect x="20.59" y="51" width="5" height="1" opacity="0.12"/><rect x="17.01" y="51" width="3" height="1" opacity="0.07"/><rect x="14.53" y="52" width="3" height="1" opacity="0.18"/><rect x="10.92" y="52" width="3" height="1" opacity="0.25"/><rect x="11.75" y="52" width="2.5" height="1" opacity="0.12"/><rect x="11.79" y="52" width="1" height="1" opacity="0.13"/><rect x="21.68" y="52" width="4" height="1" opacity="0.07"/><rect x="14.22" y="53" width="1.5" height="1" opacity="0.11"/><rect x="13.67" y="53" width="2" height="1" opacity="0.16"/><rect x="15.72" y="53" width="5" height="1" opacity="0.14"/><rect x="5.87" y="53" width="5" height="1" opacity="0.12"/><rect x="23.8" y="53" width="5" height="1" opacity="0.07"/><rect x="13.58" y="54" width="1.5" height="1" opacity="0.12"/><rect x="13.63" y="54" width="1" height="1" opacity="0.26"/><rect x="9.55" y="54" width="1" height="1" opacity="0.04"/><rect x="9.55" y="54" width="5" height="1" opacity="0.13"/><rect x="5.8" y="54" width="2" height="1" opacity="0.08"/><rect x="12.82" y="55" width="2.5" height="1" opacity="0.41"/><rect x="25.37" y="55" width="4" height="1" opacity="0.12"/><rect x="14" y="55" width="5" height="1" opacity="0.1"/><rect x="11.9" y="55" width="4" height="1" opacity="0.13"/><rect x="12.68" y="56" width="1" height="1" opacity="0.13"/><rect x="14.53" y="56" width="2" height="1" opacity="0.4"/><rect x="15.52" y="56" width="1.5" height="1" opacity="0.3"/><rect x="11.78" y="56" width="3" height="1" opacity="0.12"/><rect x="21.14" y="56" width="5" height="1" opacity="0.04"/><rect x="17.18" y="57" width="1.5" height="1" opacity="0.37"/><rect x="24.57" y="57" width="1" height="1" opacity="0.06"/><rect x="25.74" y="57" width="1" height="1" opacity="0.07"/><rect x="6.49" y="57" width="5" height="1" opacity="0.11"/><rect x="14.32" y="58" width="2" height="1" opacity="0.28"/><rect x="19.49" y="58" width="2" height="1" opacity="0.04"/><rect x="20.24" y="58" width="1" height="1" opacity="0.12"/><rect x="13.44" y="58" width="1" height="1" opacity="0.09"/><rect x="13.25" y="59" width="3" height="1" opacity="0.3"/><rect x="12.29" y="59" width="1.5" height="1" opacity="0.19"/><rect x="25.87" y="59" width="1" height="1" opacity="0.12"/><rect x="6.08" y="59" width="1" height="1" opacity="0.1"/><rect x="10.25" y="59" width="3" height="1" opacity="0.06"/><rect x="13.77" y="60" width="2.5" height="1" opacity="0.1"/><rect x="13.83" y="60" width="2.5" height="1" opacity="0.31"/><rect x="17.91" y="60" width="3" height="1" opacity="0.05"/><rect x="10.27" y="60" width="1" height="1" opacity="0.08"/><rect x="11.01" y="61" width="2.5" height="1" opacity="0.32"/><rect x="13.98" y="61" width="3" height="1" opacity="0.19"/><rect x="19.81" y="61" width="1" height="1" opacity="0.08"/><rect x="22.72" y="61" width="4" height="1" opacity="0.12"/><rect x="3.79" y="61" width="2" height="1" opacity="0.03"/><rect x="7.76" y="61" width="5" height="1" opacity="0.1"/><rect x="13.49" y="62" width="3" height="1" opacity="0.35"/><rect x="13.01" y="62" width="2" height="1" opacity="0.2"/><rect x="0.16" y="62" width="5" height="1" opacity="0.08"/><rect x="21.58" y="62" width="3" height="1" opacity="0.07"/><rect x="23.11" y="62" width="3" height="1" opacity="0.08"/><rect x="26.34" y="62" width="2" height="1" opacity="0.04"/><rect x="12.27" y="63" width="3" height="1" opacity="0.2"/><rect x="13.2" y="63" width="2.5" height="1" opacity="0.1"/><rect x="10.89" y="63" width="3" height="1" opacity="0.12"/><rect x="9.6" y="63" width="2" height="1" opacity="0.07"/><rect x="0.47" y="63" width="2" height="1" opacity="0.09"/><rect x="13.73" y="64" width="2.5" height="1" opacity="0.29"/><rect x="24.97" y="64" width="1" height="1" opacity="0.11"/><rect x="6.76" y="64" width="2" height="1" opacity="0.04"/><rect x="6.3" y="64" width="2" height="1" opacity="0.12"/><rect x="12.81" y="65" width="2.5" height="1" opacity="0.39"/><rect x="13.61" y="65" width="1" height="1" opacity="0.36"/><rect x="7.45" y="65" width="5" height="1" opacity="0.07"/><rect x="1.31" y="65" width="4" height="1" opacity="0.12"/><rect x="12.33" y="66" width="3" height="1" opacity="0.19"/><rect x="14.6" y="66" width="3" height="1" opacity="0.41"/><rect x="15.44" y="66" width="1" height="1" opacity="0.4"/><rect x="3.83" y="66" width="1" height="1" opacity="0.12"/><rect x="5.78" y="66" width="3" height="1" opacity="0.08"/><rect x="20.59" y="66" width="5" height="1" opacity="0.13"/><rect x="12.6" y="67" width="3" height="1" opacity="0.21"/><rect x="15.37" y="67" width="2.5" height="1" opacity="0.35"/><rect x="13.89" y="67" width="1.5" height="1" opacity="0.28"/><rect x="18.28" y="67" width="4" height="1" opacity="0.08"/><rect x="12.97" y="67" width="2" height="1" opacity="0.13"/><rect x="11.77" y="68" width="2" height="1" opacity="0.4"/><rect x="13.83" y="68" width="1" height="1" opacity="0.4"/><rect x="0.68" y="68" width="3" height="1" opacity="0.11"/><rect x="20.34" y="68" width="5" height="1" opacity="0.07"/><rect x="14.11" y="69" width="2" height="1" opacity="0.15"/><rect x="12.46" y="69" width="1" height="1" opacity="0.05"/><rect x="19.16" y="69" width="4" height="1" opacity="0.11"/><rect x="13.42" y="70" width="2" height="1" opacity="0.11"/><rect x="13.31" y="70" width="4" height="1" opacity="0.11"/><rect x="8.86" y="70" width="4" height="1" opacity="0.09"/><rect x="12.9" y="70" width="3" height="1" opacity="0.11"/><rect x="14.01" y="71" width="1" height="1" opacity="0.29"/><rect x="12.81" y="71" width="1.5" height="1" opacity="0.16"/><rect x="0.15" y="71" width="4" height="1" opacity="0.1"/><rect x="25.91" y="71" width="3" height="1" opacity="0.1"/><rect x="21.94" y="71" width="5" height="1" opacity="0.08"/><rect x="0.4" y="71" width="5" height="1" opacity="0.11"/><rect x="12.98" y="72" width="2" height="1" opacity="0.41"/><rect x="4.19" y="72" width="5" height="1" opacity="0.14"/><rect x="19.12" y="72" width="4" height="1" opacity="0.09"/><rect x="14.63" y="73" width="2" height="1" opacity="0.4"/><rect x="13.49" y="73" width="1" height="1" opacity="0.32"/><rect x="11.35" y="73" width="5" height="1" opacity="0.11"/><rect x="23.7" y="73" width="2" height="1" opacity="0.05"/><rect x="11.95" y="74" width="3" height="1" opacity="0.13"/><rect x="16.37" y="74" width="2.5" height="1" opacity="0.22"/><rect x="14.15" y="74" width="2.5" height="1" opacity="0.38"/><rect x="26.32" y="74" width="1" height="1" opacity="0.04"/><rect x="24.74" y="74" width="1" height="1" opacity="0.07"/><rect x="20.03" y="74" width="5" height="1" opacity="0.05"/><rect x="13.98" y="75" width="2.5" height="1" opacity="0.11"/><rect x="13.56" y="75" width="2" height="1" opacity="0.25"/><rect x="14.02" y="75" width="1.5" height="1" opacity="0.26"/><rect x="1.01" y="75" width="5" height="1" opacity="0.06"/><rect x="5" y="75" width="4" height="1" opacity="0.04"/><rect x="21.22" y="75" width="1" height="1" opacity="0.09"/><rect x="8.75" y="75" width="3" height="1" opacity="0.04"/><rect x="15.02" y="76" width="2" height="1" opacity="0.39"/><rect x="13.65" y="76" width="1.5" height="1" opacity="0.32"/><rect x="16.39" y="76" width="4" height="1" opacity="0.06"/><rect x="9.93" y="76" width="2" height="1" opacity="0.14"/><rect x="22.48" y="76" width="2" height="1" opacity="0.04"/><rect x="13.19" y="77" width="2.5" height="1" opacity="0.21"/><rect x="13.01" y="77" width="2.5" height="1" opacity="0.24"/><rect x="10.33" y="77" width="3" height="1" opacity="0.13"/><rect x="12.81" y="77" width="2" height="1" opacity="0.13"/><rect x="24.08" y="77" width="4" height="1" opacity="0.12"/><rect x="15.65" y="78" width="2.5" height="1" opacity="0.41"/><rect x="12.01" y="78" width="3" height="1" opacity="0.14"/><rect x="24.25" y="78" width="4" height="1" opacity="0.06"/><rect x="14.65" y="79" width="2" height="1" opacity="0.14"/><rect x="14.31" y="79" width="2" height="1" opacity="0.23"/><rect x="18.07" y="79" width="2" height="1" opacity="0.06"/><rect x="3.83" y="79" width="1" height="1" opacity="0.14"/><rect x="13.35" y="80" width="2.5" height="1" opacity="0.27"/><rect x="14.41" y="80" width="2" height="1" opacity="0.17"/><rect x="13.47" y="80" width="3" height="1" opacity="0.4"/><rect x="16.78" y="80" width="2" height="1" opacity="0.11"/><rect x="15.22" y="80" width="3" height="1" opacity="0.09"/><rect x="13.26" y="81" width="1" height="1" opacity="0.23"/><rect x="14.31" y="81" width="1.5" height="1" opacity="0.3"/><rect x="24.23" y="81" width="1" height="1" opacity="0.13"/><rect x="13.78" y="81" width="5" height="1" opacity="0.09"/><rect x="14.47" y="82" width="1" height="1" opacity="0.13"/><rect x="14.67" y="82" width="1" height="1" opacity="0.18"/><rect x="4.97" y="82" width="3" height="1" opacity="0.12"/><rect x="9.11" y="82" width="5" height="1" opacity="0.11"/><rect x="15.76" y="82" width="4" height="1" opacity="0.04"/></g><g id="nz2" fill="currentColor"><rect x="11.2" width="7" height="83.0" opacity="0.05"/><rect x="12.7" width="4" height="83.0" opacity="0.07"/><rect x="12.72" y="0" width="3" height="1" opacity="0.33"/><rect x="12.23" y="0" width="3" height="1" opacity="0.16"/><rect x="16.3" y="0" width="5" height="1" opacity="0.09"/><rect x="19.12" y="0" width="5" height="1" opacity="0.1"/><rect x="13.72" y="0" width="2" height="1" opacity="0.11"/><rect x="12.92" y="1" width="1" height="1" opacity="0.36"/><rect x="14.44" y="1" width="1.5" height="1" opacity="0.29"/><rect x="12.68" y="1" width="1.5" height="1" opacity="0.33"/><rect x="3.84" y="1" width="5" height="1" opacity="0.08"/><rect x="12.64" y="1" width="1" height="1" opacity="0.06"/><rect x="2.43" y="1" width="3" height="1" opacity="0.07"/><rect x="5.13" y="1" width="4" height="1" opacity="0.11"/><rect x="13.94" y="2" width="2.5" height="1" opacity="0.14"/><rect x="14.57" y="2" width="1" height="1" opacity="0.29"/><rect x="12.67" y="2" width="2" height="1" opacity="0.24"/><rect x="16.24" y="2" width="3" height="1" opacity="0.12"/><rect x="16.88" y="2" width="4" height="1" opacity="0.1"/><rect x="14.16" y="2" width="5" height="1" opacity="0.11"/><rect x="10.32" y="2" width="2" height="1" opacity="0.1"/><rect x="10.16" y="3" width="3" height="1" opacity="0.12"/><rect x="13.55" y="3" width="1" height="1" opacity="0.4"/><rect x="8.11" y="3" width="5" height="1" opacity="0.13"/><rect x="10.15" y="3" width="3" height="1" opacity="0.08"/><rect x="14.24" y="4" width="1.5" height="1" opacity="0.17"/><rect x="14.67" y="4" width="2.5" height="1" opacity="0.14"/><rect x="12.66" y="4" width="2" height="1" opacity="0.03"/><rect x="6.38" y="4" width="3" height="1" opacity="0.05"/><rect x="3.14" y="4" width="2" height="1" opacity="0.03"/><rect x="7.22" y="4" width="3" height="1" opacity="0.11"/><rect x="13.64" y="5" width="2" height="1" opacity="0.37"/><rect x="12.73" y="5" width="1.5" height="1" opacity="0.11"/><rect x="14.22" y="5" width="2.5" height="1" opacity="0.28"/><rect x="16.96" y="5" width="2" height="1" opacity="0.06"/><rect x="24.85" y="5" width="4" height="1" opacity="0.1"/><rect x="15.8" y="6" width="1.5" height="1" opacity="0.1"/><rect x="13.32" y="6" width="2.5" height="1" opacity="0.32"/><rect x="14.75" y="6" width="1.5" height="1" opacity="0.33"/><rect x="16.85" y="6" width="4" height="1" opacity="0.04"/><rect x="4.15" y="6" width="2" height="1" opacity="0.11"/><rect x="13.37" y="7" width="1.5" height="1" opacity="0.14"/><rect x="10.64" y="7" width="1" height="1" opacity="0.14"/><rect x="9.01" y="7" width="2" height="1" opacity="0.08"/><rect x="20.81" y="7" width="2" height="1" opacity="0.12"/><rect x="18.86" y="7" width="3" height="1" opacity="0.09"/><rect x="11.59" y="8" width="3" height="1" opacity="0.15"/><rect x="17.31" y="8" width="1.5" height="1" opacity="0.12"/><rect x="19.92" y="8" width="4" height="1" opacity="0.03"/><rect x="13.38" y="8" width="5" height="1" opacity="0.09"/><rect x="4.28" y="8" width="3" height="1" opacity="0.06"/><rect x="23.83" y="8" width="2" height="1" opacity="0.14"/><rect x="14.19" y="9" width="1" height="1" opacity="0.14"/><rect x="24.27" y="9" width="1" height="1" opacity="0.11"/><rect x="22.9" y="9" width="4" height="1" opacity="0.06"/><rect x="14.14" y="10" width="2.5" height="1" opacity="0.19"/><rect x="14.48" y="10" width="2" height="1" opacity="0.41"/><rect x="14.03" y="10" width="1.5" height="1" opacity="0.23"/><rect x="18.23" y="10" width="3" height="1" opacity="0.07"/><rect x="14.17" y="10" width="1" height="1" opacity="0.1"/><rect x="15.27" y="11" width="1.5" height="1" opacity="0.11"/><rect x="10.15" y="11" width="2" height="1" opacity="0.27"/><rect x="15.3" y="11" width="1" height="1" opacity="0.12"/><rect x="25.5" y="11" width="4" height="1" opacity="0.04"/><rect x="5.2" y="11" width="4" height="1" opacity="0.14"/><rect x="25.08" y="11" width="2" height="1" opacity="0.06"/><rect x="14.58" y="12" width="1.5" height="1" opacity="0.37"/><rect x="12.16" y="12" width="1.5" height="1" opacity="0.19"/><rect x="3.01" y="12" width="5" height="1" opacity="0.12"/><rect x="23.54" y="12" width="3" height="1" opacity="0.06"/><rect x="14.02" y="13" width="1.5" height="1" opacity="0.27"/><rect x="14.19" y="13" width="1.5" height="1" opacity="0.32"/><rect x="21.62" y="13" width="1" height="1" opacity="0.14"/><rect x="25.67" y="13" width="4" height="1" opacity="0.1"/><rect x="10.61" y="13" width="5" height="1" opacity="0.06"/><rect x="13.01" y="14" width="3" height="1" opacity="0.1"/><rect x="11.88" y="14" width="3" height="1" opacity="0.11"/><rect x="13.3" y="14" width="5" height="1" opacity="0.06"/><rect x="11.08" y="14" width="4" height="1" opacity="0.13"/><rect x="25.37" y="14" width="4" height="1" opacity="0.12"/><rect x="13.36" y="15" width="1" height="1" opacity="0.39"/><rect x="7.77" y="15" width="3" height="1" opacity="0.12"/><rect x="13.03" y="15" width="1" height="1" opacity="0.11"/><rect x="13.95" y="16" width="1.5" height="1" opacity="0.22"/><rect x="14.94" y="16" width="1.5" height="1" opacity="0.26"/><rect x="13.26" y="16" width="3" height="1" opacity="0.12"/><rect x="18.71" y="16" width="1" height="1" opacity="0.13"/><rect x="13.41" y="17" width="2" height="1" opacity="0.24"/><rect x="17.13" y="17" width="1" height="1" opacity="0.34"/><rect x="14.32" y="17" width="2" height="1" opacity="0.34"/><rect x="24.45" y="17" width="3" height="1" opacity="0.06"/><rect x="17.13" y="17" width="2" height="1" opacity="0.06"/><rect x="4.98" y="17" width="3" height="1" opacity="0.05"/><rect x="24.79" y="17" width="4" height="1" opacity="0.1"/><rect x="14.46" y="18" width="2.5" height="1" opacity="0.33"/><rect x="16.14" y="18" width="1.5" height="1" opacity="0.19"/><rect x="25.65" y="18" width="4" height="1" opacity="0.08"/><rect x="22.32" y="18" width="5" height="1" opacity="0.12"/><rect x="8.6" y="18" width="5" height="1" opacity="0.07"/><rect x="0.94" y="18" width="1" height="1" opacity="0.13"/><rect x="15.07" y="19" width="1" height="1" opacity="0.23"/><rect x="11" y="19" width="2.5" height="1" opacity="0.37"/><rect x="23.43" y="19" width="1" height="1" opacity="0.1"/><rect x="15.88" y="19" width="5" height="1" opacity="0.08"/><rect x="9.8" y="19" width="1" height="1" opacity="0.13"/><rect x="15.71" y="19" width="2" height="1" opacity="0.05"/><rect x="14.45" y="20" width="1.5" height="1" opacity="0.33"/><rect x="12.87" y="20" width="1.5" height="1" opacity="0.25"/><rect x="2.35" y="20" width="5" height="1" opacity="0.07"/><rect x="3.45" y="20" width="5" height="1" opacity="0.04"/><rect x="19.72" y="20" width="1" height="1" opacity="0.04"/><rect x="13.07" y="21" width="2" height="1" opacity="0.13"/><rect x="12.36" y="21" width="2" height="1" opacity="0.36"/><rect x="4.64" y="21" width="3" height="1" opacity="0.1"/><rect x="7.91" y="21" width="4" height="1" opacity="0.08"/><rect x="17.41" y="21" width="2" height="1" opacity="0.1"/><rect x="16.31" y="21" width="1" height="1" opacity="0.07"/><rect x="12.8" y="22" width="2" height="1" opacity="0.38"/><rect x="14.58" y="22" width="3" height="1" opacity="0.19"/><rect x="24.47" y="22" width="5" height="1" opacity="0.11"/><rect x="18.37" y="22" width="4" height="1" opacity="0.11"/><rect x="0.7" y="22" width="4" height="1" opacity="0.14"/><rect x="12.36" y="23" width="1" height="1" opacity="0.14"/><rect x="13.36" y="23" width="1.5" height="1" opacity="0.4"/><rect x="15.92" y="23" width="3" height="1" opacity="0.16"/><rect x="15.6" y="23" width="2" height="1" opacity="0.07"/><rect x="3.26" y="23" width="4" height="1" opacity="0.13"/><rect x="23.88" y="23" width="4" height="1" opacity="0.12"/><rect x="13.83" y="24" width="1" height="1" opacity="0.37"/><rect x="11.01" y="24" width="2" height="1" opacity="0.04"/><rect x="24.57" y="24" width="4" height="1" opacity="0.08"/><rect x="10.14" y="24" width="3" height="1" opacity="0.08"/><rect x="13.55" y="25" width="2.5" height="1" opacity="0.15"/><rect x="24.12" y="25" width="1" height="1" opacity="0.12"/><rect x="22.34" y="25" width="4" height="1" opacity="0.1"/><rect x="20.73" y="25" width="3" height="1" opacity="0.09"/><rect x="12.46" y="26" width="3" height="1" opacity="0.28"/><rect x="6.24" y="26" width="2" height="1" opacity="0.05"/><rect x="0.89" y="26" width="4" height="1" opacity="0.04"/><rect x="13.48" y="27" width="3" height="1" opacity="0.16"/><rect x="12.41" y="27" width="3" height="1" opacity="0.33"/><rect x="4.65" y="27" width="4" height="1" opacity="0.07"/><rect x="16.59" y="27" width="3" height="1" opacity="0.1"/><rect x="12.88" y="27" width="3" height="1" opacity="0.12"/><rect x="13.27" y="28" width="3" height="1" opacity="0.38"/><rect x="13.12" y="28" width="1.5" height="1" opacity="0.27"/><rect x="0.74" y="28" width="1" height="1" opacity="0.13"/><rect x="17.34" y="28" width="2" height="1" opacity="0.04"/><rect x="17.73" y="28" width="2" height="1" opacity="0.07"/><rect x="19.55" y="28" width="2" height="1" opacity="0.1"/><rect x="14.58" y="29" width="2" height="1" opacity="0.31"/><rect x="23.44" y="29" width="2" height="1" opacity="0.07"/><rect x="17.77" y="29" width="2" height="1" opacity="0.12"/><rect x="14.19" y="30" width="1" height="1" opacity="0.18"/><rect x="6.81" y="30" width="2" height="1" opacity="0.13"/><rect x="18.45" y="30" width="4" height="1" opacity="0.12"/><rect x="21.42" y="30" width="3" height="1" opacity="0.07"/><rect x="20.44" y="30" width="2" height="1" opacity="0.07"/><rect x="15.32" y="31" width="2.5" height="1" opacity="0.21"/><rect x="13.37" y="31" width="2.5" height="1" opacity="0.35"/><rect x="13.79" y="31" width="4" height="1" opacity="0.09"/><rect x="22.45" y="31" width="2" height="1" opacity="0.12"/><rect x="13.25" y="32" width="2.5" height="1" opacity="0.33"/><rect x="13.72" y="32" width="3" height="1" opacity="0.32"/><rect x="5.32" y="32" width="5" height="1" opacity="0.06"/><rect x="11.98" y="32" width="5" height="1" opacity="0.08"/><rect x="13.99" y="33" width="2" height="1" opacity="0.36"/><rect x="15.41" y="33" width="1" height="1" opacity="0.21"/><rect x="10.91" y="33" width="2" height="1" opacity="0.11"/><rect x="4.28" y="33" width="5" height="1" opacity="0.06"/><rect x="2.22" y="33" width="3" height="1" opacity="0.14"/><rect x="7.6" y="33" width="2" height="1" opacity="0.13"/><rect x="12.96" y="34" width="2" height="1" opacity="0.28"/><rect x="11.86" y="34" width="2.5" height="1" opacity="0.11"/><rect x="18.69" y="34" width="5" height="1" opacity="0.13"/><rect x="19.61" y="34" width="2" height="1" opacity="0.1"/><rect x="14.11" y="35" width="2" height="1" opacity="0.15"/><rect x="15.02" y="35" width="1" height="1" opacity="0.26"/><rect x="14.26" y="35" width="2.5" height="1" opacity="0.22"/><rect x="9.35" y="35" width="4" height="1" opacity="0.09"/><rect x="6.21" y="35" width="4" height="1" opacity="0.08"/><rect x="14.17" y="36" width="3" height="1" opacity="0.16"/><rect x="13.04" y="36" width="2.5" height="1" opacity="0.34"/><rect x="21.45" y="36" width="2" height="1" opacity="0.07"/><rect x="21.66" y="36" width="3" height="1" opacity="0.07"/><rect x="12.92" y="37" width="3" height="1" opacity="0.24"/><rect x="12.53" y="37" width="1.5" height="1" opacity="0.36"/><rect x="5.87" y="37" width="4" height="1" opacity="0.12"/><rect x="0.3" y="37" width="5" height="1" opacity="0.06"/><rect x="2.27" y="37" width="3" height="1" opacity="0.12"/><rect x="19.49" y="37" width="1" height="1" opacity="0.07"/><rect x="15.31" y="38" width="1" height="1" opacity="0.34"/><rect x="20.82" y="38" width="3" height="1" opacity="0.05"/><rect x="25.6" y="38" width="2" height="1" opacity="0.09"/><rect x="21.29" y="38" width="2" height="1" opacity="0.13"/><rect x="13.51" y="39" width="2.5" height="1" opacity="0.29"/><rect x="12.78" y="39" width="2.5" height="1" opacity="0.14"/><rect x="22.64" y="39" width="3" height="1" opacity="0.11"/><rect x="6.49" y="39" width="5" height="1" opacity="0.03"/><rect x="12.05" y="40" width="1.5" height="1" opacity="0.34"/><rect x="18.24" y="40" width="4" height="1" opacity="0.05"/><rect x="23.98" y="40" width="1" height="1" opacity="0.04"/><rect x="14.5" y="41" width="1.5" height="1" opacity="0.32"/><rect x="11.96" y="41" width="3" height="1" opacity="0.23"/><rect x="9.47" y="41" width="5" height="1" opacity="0.08"/><rect x="22.25" y="41" width="1" height="1" opacity="0.12"/><rect x="12.78" y="42" width="3" height="1" opacity="0.34"/><rect x="15.37" y="42" width="1.5" height="1" opacity="0.34"/><rect x="4.13" y="42" width="2" height="1" opacity="0.05"/><rect x="7.18" y="42" width="1" height="1" opacity="0.07"/><rect x="9.73" y="42" width="2" height="1" opacity="0.06"/><rect x="2.51" y="42" width="2" height="1" opacity="0.09"/><rect x="12.25" y="43" width="3" height="1" opacity="0.38"/><rect x="14.61" y="43" width="1" height="1" opacity="0.27"/><rect x="12.92" y="43" width="3" height="1" opacity="0.32"/><rect x="24.68" y="43" width="5" height="1" opacity="0.06"/><rect x="17.14" y="43" width="5" height="1" opacity="0.1"/><rect x="13.93" y="44" width="1" height="1" opacity="0.12"/><rect x="18.2" y="44" width="4" height="1" opacity="0.08"/><rect x="6.19" y="44" width="1" height="1" opacity="0.04"/><rect x="13.86" y="45" width="1.5" height="1" opacity="0.34"/><rect x="11.74" y="45" width="2.5" height="1" opacity="0.38"/><rect x="24.56" y="45" width="3" height="1" opacity="0.13"/><rect x="20.87" y="45" width="4" height="1" opacity="0.13"/><rect x="11.65" y="46" width="3" height="1" opacity="0.13"/><rect x="14.3" y="46" width="2.5" height="1" opacity="0.39"/><rect x="12.15" y="46" width="1" height="1" opacity="0.16"/><rect x="11.8" y="46" width="5" height="1" opacity="0.09"/><rect x="13.08" y="46" width="1" height="1" opacity="0.08"/><rect x="11.93" y="47" width="3" height="1" opacity="0.24"/><rect x="14.79" y="47" width="2.5" height="1" opacity="0.4"/><rect x="13.4" y="47" width="3" height="1" opacity="0.35"/><rect x="17" y="47" width="4" height="1" opacity="0.13"/><rect x="1.59" y="47" width="2" height="1" opacity="0.07"/><rect x="12.34" y="48" width="3" height="1" opacity="0.35"/><rect x="13.52" y="48" width="1.5" height="1" opacity="0.4"/><rect x="14.06" y="48" width="2.5" height="1" opacity="0.3"/><rect x="3.29" y="48" width="5" height="1" opacity="0.06"/><rect x="17.84" y="48" width="2" height="1" opacity="0.12"/><rect x="8.32" y="48" width="4" height="1" opacity="0.09"/><rect x="14.86" y="48" width="2" height="1" opacity="0.07"/><rect x="13.77" y="49" width="2.5" height="1" opacity="0.2"/><rect x="13.64" y="49" width="2.5" height="1" opacity="0.27"/><rect x="14.51" y="49" width="5" height="1" opacity="0.13"/><rect x="0.9" y="49" width="2" height="1" opacity="0.09"/><rect x="12.74" y="49" width="4" height="1" opacity="0.12"/><rect x="11.65" y="50" width="2.5" height="1" opacity="0.2"/><rect x="13.16" y="50" width="1.5" height="1" opacity="0.37"/><rect x="15.31" y="50" width="1.5" height="1" opacity="0.35"/><rect x="25.44" y="50" width="3" height="1" opacity="0.06"/><rect x="24.93" y="50" width="4" height="1" opacity="0.04"/><rect x="7.25" y="50" width="5" height="1" opacity="0.06"/><rect x="13.65" y="50" width="3" height="1" opacity="0.12"/><rect x="11.45" y="51" width="2.5" height="1" opacity="0.24"/><rect x="13.56" y="51" width="2.5" height="1" opacity="0.14"/><rect x="4.88" y="51" width="4" height="1" opacity="0.1"/><rect x="0.52" y="51" width="3" height="1" opacity="0.1"/><rect x="2.33" y="51" width="3" height="1" opacity="0.03"/><rect x="12.38" y="52" width="1" height="1" opacity="0.33"/><rect x="25.34" y="52" width="1" height="1" opacity="0.08"/><rect x="21.5" y="52" width="2" height="1" opacity="0.13"/><rect x="11.46" y="53" width="2" height="1" opacity="0.25"/><rect x="15.64" y="53" width="1" height="1" opacity="0.13"/><rect x="15.7" y="53" width="2" height="1" opacity="0.11"/><rect x="1.02" y="53" width="2" height="1" opacity="0.08"/><rect x="13.82" y="54" width="2" height="1" opacity="0.22"/><rect x="14.15" y="54" width="1.5" height="1" opacity="0.15"/><rect x="19.07" y="54" width="1" height="1" opacity="0.12"/><rect x="25.67" y="54" width="2" height="1" opacity="0.14"/><rect x="15.89" y="54" width="5" height="1" opacity="0.12"/><rect x="13.58" y="55" width="1.5" height="1" opacity="0.13"/><rect x="13.5" y="55" width="2.5" height="1" opacity="0.37"/><rect x="15.6" y="55" width="2.5" height="1" opacity="0.22"/><rect x="7.83" y="55" width="5" height="1" opacity="0.11"/><rect x="25" y="55" width="1" height="1" opacity="0.05"/><rect x="6.22" y="55" width="5" height="1" opacity="0.1"/><rect x="13.76" y="56" width="1" height="1" opacity="0.33"/><rect x="14.48" y="56" width="1" height="1" opacity="0.42"/><rect x="1.85" y="56" width="5" height="1" opacity="0.08"/><rect x="24.56" y="56" width="3" height="1" opacity="0.09"/><rect x="13.58" y="57" width="1.5" height="1" opacity="0.39"/><rect x="15.86" y="57" width="1" height="1" opacity="0.36"/><rect x="8.47" y="57" width="2" height="1" opacity="0.07"/><rect x="0.28" y="57" width="4" height="1" opacity="0.13"/><rect x="1.07" y="57" width="3" height="1" opacity="0.14"/><rect x="3.84" y="57" width="3" height="1" opacity="0.12"/><rect x="13.51" y="58" width="1.5" height="1" opacity="0.36"/><rect x="15.97" y="58" width="1.5" height="1" opacity="0.29"/><rect x="15.65" y="58" width="1" height="1" opacity="0.29"/><rect x="14.54" y="58" width="2" height="1" opacity="0.1"/><rect x="8.69" y="58" width="4" height="1" opacity="0.07"/><rect x="14.88" y="59" width="2.5" height="1" opacity="0.38"/><rect x="11.96" y="59" width="2.5" height="1" opacity="0.24"/><rect x="14.25" y="59" width="2" height="1" opacity="0.1"/><rect x="13.32" y="59" width="2" height="1" opacity="0.06"/><rect x="11.41" y="59" width="4" height="1" opacity="0.08"/><rect x="13.85" y="60" width="2" height="1" opacity="0.41"/><rect x="9.51" y="60" width="1" height="1" opacity="0.08"/><rect x="2.67" y="60" width="5" height="1" opacity="0.09"/><rect x="13.29" y="60" width="5" height="1" opacity="0.11"/><rect x="25.6" y="60" width="4" height="1" opacity="0.04"/><rect x="14.01" y="61" width="1" height="1" opacity="0.13"/><rect x="12.87" y="61" width="2.5" height="1" opacity="0.39"/><rect x="14.17" y="61" width="2" height="1" opacity="0.36"/><rect x="13.46" y="61" width="5" height="1" opacity="0.06"/><rect x="23.71" y="61" width="1" height="1" opacity="0.14"/><rect x="23.69" y="61" width="3" height="1" opacity="0.1"/><rect x="14.47" y="62" width="1" height="1" opacity="0.31"/><rect x="13.45" y="62" width="2.5" height="1" opacity="0.13"/><rect x="13.41" y="62" width="1" height="1" opacity="0.13"/><rect x="25.53" y="62" width="2" height="1" opacity="0.08"/><rect x="23.84" y="62" width="4" height="1" opacity="0.12"/><rect x="21.69" y="62" width="3" height="1" opacity="0.09"/><rect x="14.36" y="63" width="1" height="1" opacity="0.38"/><rect x="11.79" y="63" width="2" height="1" opacity="0.37"/><rect x="10.56" y="63" width="3" height="1" opacity="0.05"/><rect x="4.72" y="63" width="1" height="1" opacity="0.13"/><rect x="12.2" y="64" width="3" height="1" opacity="0.19"/><rect x="15.35" y="64" width="1" height="1" opacity="0.4"/><rect x="24.12" y="64" width="4" height="1" opacity="0.04"/><rect x="20.18" y="64" width="4" height="1" opacity="0.1"/><rect x="13.65" y="65" width="2.5" height="1" opacity="0.17"/><rect x="9.56" y="65" width="3" height="1" opacity="0.12"/><rect x="0.3" y="65" width="3" height="1" opacity="0.1"/><rect x="8.26" y="65" width="1" height="1" opacity="0.08"/><rect x="15.55" y="66" width="2" height="1" opacity="0.21"/><rect x="13.42" y="66" width="2" height="1" opacity="0.26"/><rect x="0.61" y="66" width="1" height="1" opacity="0.11"/><rect x="10.08" y="66" width="1" height="1" opacity="0.04"/><rect x="14.81" y="66" width="2" height="1" opacity="0.13"/><rect x="25.4" y="66" width="4" height="1" opacity="0.03"/><rect x="12.67" y="67" width="1.5" height="1" opacity="0.26"/><rect x="12.31" y="67" width="2" height="1" opacity="0.41"/><rect x="15.28" y="67" width="1" height="1" opacity="0.23"/><rect x="11.95" y="67" width="5" height="1" opacity="0.12"/><rect x="25.47" y="67" width="4" height="1" opacity="0.12"/><rect x="26.37" y="67" width="5" height="1" opacity="0.05"/><rect x="24.43" y="67" width="2" height="1" opacity="0.13"/><rect x="13.15" y="68" width="3" height="1" opacity="0.4"/><rect x="18.84" y="68" width="4" height="1" opacity="0.06"/><rect x="4.6" y="68" width="4" height="1" opacity="0.12"/><rect x="10.27" y="68" width="1" height="1" opacity="0.05"/><rect x="13.53" y="69" width="1.5" height="1" opacity="0.34"/><rect x="10.94" y="69" width="1" height="1" opacity="0.09"/><rect x="3.33" y="69" width="3" height="1" opacity="0.04"/><rect x="25.84" y="69" width="1" height="1" opacity="0.12"/><rect x="6.24" y="69" width="1" height="1" opacity="0.11"/><rect x="13.73" y="70" width="1" height="1" opacity="0.26"/><rect x="13.78" y="70" width="1" height="1" opacity="0.36"/><rect x="21.23" y="70" width="2" height="1" opacity="0.09"/><rect x="12.49" y="70" width="5" height="1" opacity="0.1"/><rect x="1.48" y="70" width="3" height="1" opacity="0.05"/><rect x="14.79" y="71" width="1.5" height="1" opacity="0.14"/><rect x="13.46" y="71" width="2" height="1" opacity="0.4"/><rect x="0.67" y="71" width="5" height="1" opacity="0.03"/><rect x="0.48" y="71" width="1" height="1" opacity="0.11"/><rect x="15.65" y="72" width="2" height="1" opacity="0.21"/><rect x="14.45" y="72" width="2.5" height="1" opacity="0.34"/><rect x="15.43" y="72" width="4" height="1" opacity="0.14"/><rect x="26.19" y="72" width="2" height="1" opacity="0.07"/><rect x="13.01" y="73" width="2" height="1" opacity="0.18"/><rect x="12.13" y="73" width="3" height="1" opacity="0.35"/><rect x="24.47" y="73" width="2" height="1" opacity="0.08"/><rect x="9.19" y="73" width="1" height="1" opacity="0.06"/><rect x="19.1" y="73" width="5" height="1" opacity="0.11"/><rect x="15.63" y="74" width="2" height="1" opacity="0.33"/><rect x="10.79" y="74" width="2.5" height="1" opacity="0.32"/><rect x="12.22" y="74" width="3" height="1" opacity="0.11"/><rect x="2.07" y="74" width="3" height="1" opacity="0.11"/><rect x="15.33" y="75" width="1.5" height="1" opacity="0.31"/><rect x="13.72" y="75" width="1.5" height="1" opacity="0.22"/><rect x="17.68" y="75" width="5" height="1" opacity="0.04"/><rect x="2.62" y="75" width="4" height="1" opacity="0.12"/><rect x="1.06" y="75" width="3" height="1" opacity="0.11"/><rect x="14.69" y="76" width="1" height="1" opacity="0.19"/><rect x="13.14" y="76" width="1.5" height="1" opacity="0.34"/><rect x="20.56" y="76" width="4" height="1" opacity="0.06"/><rect x="4.18" y="76" width="1" height="1" opacity="0.05"/><rect x="11.56" y="76" width="3" height="1" opacity="0.1"/><rect x="23.01" y="76" width="3" height="1" opacity="0.06"/><rect x="13.58" y="77" width="2" height="1" opacity="0.4"/><rect x="14.53" y="77" width="1.5" height="1" opacity="0.28"/><rect x="13.74" y="77" width="3" height="1" opacity="0.31"/><rect x="16.18" y="77" width="1" height="1" opacity="0.08"/><rect x="25.73" y="77" width="3" height="1" opacity="0.12"/><rect x="22.8" y="77" width="2" height="1" opacity="0.04"/><rect x="13.42" y="78" width="1.5" height="1" opacity="0.34"/><rect x="11.95" y="78" width="1.5" height="1" opacity="0.39"/><rect x="25.35" y="78" width="1" height="1" opacity="0.13"/><rect x="24.97" y="78" width="3" height="1" opacity="0.09"/><rect x="23.75" y="78" width="1" height="1" opacity="0.13"/><rect x="0.98" y="78" width="4" height="1" opacity="0.14"/><rect x="14.41" y="79" width="1.5" height="1" opacity="0.19"/><rect x="13.7" y="79" width="3" height="1" opacity="0.27"/><rect x="1.52" y="79" width="1" height="1" opacity="0.1"/><rect x="17.29" y="79" width="3" height="1" opacity="0.09"/><rect x="19.43" y="79" width="3" height="1" opacity="0.03"/><rect x="13.22" y="80" width="1.5" height="1" opacity="0.28"/><rect x="8.53" y="80" width="4" height="1" opacity="0.11"/><rect x="1.88" y="80" width="3" height="1" opacity="0.06"/><rect x="12.57" y="81" width="3" height="1" opacity="0.28"/><rect x="24.14" y="81" width="2" height="1" opacity="0.07"/><rect x="21.26" y="81" width="2" height="1" opacity="0.04"/><rect x="17.51" y="81" width="3" height="1" opacity="0.08"/><rect x="21.37" y="81" width="3" height="1" opacity="0.14"/><rect x="14.68" y="82" width="2" height="1" opacity="0.4"/><rect x="11.59" y="82" width="1.5" height="1" opacity="0.29"/><rect x="13.9" y="82" width="1.5" height="1" opacity="0.2"/><rect x="8.94" y="82" width="5" height="1" opacity="0.06"/><rect x="10.15" y="82" width="3" height="1" opacity="0.14"/><rect x="15.54" y="82" width="2" height="1" opacity="0.12"/></g><linearGradient id="cg00"><stop offset="0" stop-color="#fff"/><stop offset=".5" stop-color="#c83a26" stop-opacity="0.75"/><stop offset="1" stop-color="#67000d"/></linearGradient><linearGradient id="cg01"><stop offset="0" stop-color="#fff"/><stop offset=".5" stop-color="#1e8b3a" stop-opacity="0.75"/><stop offset="1" stop-color="#00441b"/></linearGradient><linearGradient id="cg02"><stop offset="0" stop-color="#fff"/><stop offset=".5" stop-color="#6a51a3" stop-opacity="0.75"/><stop offset="1" stop-color="#3f007d"/></linearGradient><linearGradient id="cg10"><stop offset="0" stop-color="#fff"/><stop offset=".5" stop-color="#c83a26" stop-opacity="0.75"/><stop offset="1" stop-color="#67000d"/></linearGradient><linearGradient id="cg11"><stop offset="0" stop-color="#fff"/><stop offset=".5" stop-color="#1e8b3a" stop-opacity="0.75"/><stop offset="1" stop-color="#00441b"/></linearGradient><linearGradient id="cg12"><stop offset="0" stop-color="#fff"/><stop offset=".5" stop-color="#2b6cb0" stop-opacity="0.75"/><stop offset="1" stop-color="#08306b"/></linearGradient><linearGradient id="cg20"><stop offset="0" stop-color="#fff"/><stop offset=".5" stop-color="#c83a26" stop-opacity="0.75"/><stop offset="1" stop-color="#67000d"/></linearGradient><linearGradient id="cg21"><stop offset="0" stop-color="#fff"/><stop offset=".5" stop-color="#2b6cb0" stop-opacity="0.75"/><stop offset="1" stop-color="#08306b"/></linearGradient><linearGradient id="cg22"><stop offset="0" stop-color="#fff"/><stop offset=".5" stop-color="#333333" stop-opacity="0.75"/><stop offset="1" stop-color="#000000"/></linearGradient><linearGradient id="cg30"><stop offset="0" stop-color="#fff"/><stop offset=".5" stop-color="#c83a26" stop-opacity="0.75"/><stop offset="1" stop-color="#67000d"/></linearGradient><linearGradient id="cg31"><stop offset="0" stop-color="#fff"/><stop offset=".5" stop-color="#c8560e" stop-opacity="0.75"/><stop offset="1" stop-color="#7f2704"/></linearGradient><linearGradient id="cg32"><stop offset="0" stop-color="#fff"/><stop offset=".5" stop-color="#333333" stop-opacity="0.75"/><stop offset="1" stop-color="#000000"/></linearGradient><linearGradient id="eleg" x1="0" y1="1" x2="0" y2="0"><stop offset="0" stop-color="#4a77c0"/><stop offset=".18" stop-color="#a7c8e4"/><stop offset=".33" stop-color="#edf6ef"/><stop offset=".45" stop-color="#fff5c8"/><stop offset=".6" stop-color="#fee090"/><stop offset=".75" stop-color="#fdbf6f"/><stop offset=".87" stop-color="#f46d43"/><stop offset="1" stop-color="#d62f27"/></linearGradient></defs><text x="4.5" y="8" font-size="10.5">a</text>
<text x="106.6" y="8" font-size="10.5">b</text>
<text x="195.5" y="8" font-size="10.5">c</text>
<text x="314.5" y="8" font-size="10.5">d</text>
<text x="465" y="8" font-size="10.5">e</text>
<text x="484.2" y="231.5" font-size="10.5">f</text>
<text x="465.8" y="398" font-size="10.5">g</text>
<text x="39.7" y="34.3" text-anchor="middle" stroke="#222" stroke-width="0.17">ESR1</text>
<text x="88.5" y="34.3" text-anchor="middle" stroke="#222" stroke-width="0.17">E2F1</text>
<circle cx="54.4" cy="48.6" r="14.6" fill="#77a8d1"/>
<circle cx="69.1" cy="48.6" r="14.6" fill="#acd3ef"/>
<path d="M61.75 35.99A14.6 14.6 0 0 1 61.75 61.21A14.6 14.6 0 0 1 61.75 35.99Z" fill="#4b7297"/>
<text x="47.7" y="51.7" font-size="8.2" text-anchor="middle" fill="#fff" stroke="#fff" stroke-width="0.17">117</text>
<text x="61.7" y="51.7" font-size="8.2" text-anchor="middle" fill="#fff" stroke="#fff" stroke-width="0.17">25</text>
<text x="75.6" y="51.7" font-size="8.2" text-anchor="middle" fill="#fff" stroke="#fff" stroke-width="0.17">329</text>
<circle cx="54.4" cy="92.1" r="14.6" fill="#77a8d1"/>
<circle cx="69.1" cy="92.1" r="14.6" fill="#acd3ef"/>
<path d="M61.75 79.49A14.6 14.6 0 0 1 61.75 104.71A14.6 14.6 0 0 1 61.75 79.49Z" fill="#4b7297"/>
<text x="47.7" y="95.2" font-size="8.2" text-anchor="middle" fill="#fff" stroke="#fff" stroke-width="0.17">48</text>
<text x="61.7" y="95.2" font-size="8.2" text-anchor="middle" fill="#fff" stroke="#fff" stroke-width="0.17">14</text>
<text x="75.6" y="95.2" font-size="8.2" text-anchor="middle" fill="#fff" stroke="#fff" stroke-width="0.17">7</text>
<path d="M32 49H24.3V95.2H32" fill="none" stroke="#555" stroke-width="0.7"/>
<text x="36" y="50.6" text-anchor="middle" stroke="#222" stroke-width="0.17">-</text>
<text x="36.2" y="97.9" font-size="8.2" text-anchor="middle" stroke="#222" stroke-width="0.4">+</text>
<text x="0" y="72.3" font-size="6.6" stroke="#222" stroke-width="0.17" textLength="20.2" lengthAdjust="spacingAndGlyphs">FOXA1</text>
<text x="35.3" y="172.9" text-anchor="middle" stroke="#222" stroke-width="0.17">ESR1</text>
<text x="86.7" y="172.9" text-anchor="middle" stroke="#222" stroke-width="0.17">TCF12</text>
<circle cx="53.1" cy="188.6" r="14.6" fill="#77a8d1"/>
<circle cx="67.8" cy="188.6" r="14.6" fill="#acd3ef"/>
<path d="M60.45 175.99A14.6 14.6 0 0 1 60.45 201.21A14.6 14.6 0 0 1 60.45 175.99Z" fill="#4b7297"/>
<text x="46.4" y="191.7" font-size="8.2" text-anchor="middle" fill="#fff" stroke="#fff" stroke-width="0.17">122</text>
<text x="60.4" y="191.7" font-size="8.2" text-anchor="middle" fill="#fff" stroke="#fff" stroke-width="0.17">20</text>
<text x="74.3" y="191.7" font-size="8.2" text-anchor="middle" fill="#fff" stroke="#fff" stroke-width="0.17">41</text>
<circle cx="53.1" cy="232.1" r="14.6" fill="#77a8d1"/>
<circle cx="67.8" cy="232.1" r="14.6" fill="#acd3ef"/>
<path d="M60.45 219.49A14.6 14.6 0 0 1 60.45 244.71A14.6 14.6 0 0 1 60.45 219.49Z" fill="#4b7297"/>
<text x="46.4" y="235.2" font-size="8.2" text-anchor="middle" fill="#fff" stroke="#fff" stroke-width="0.17">43</text>
<text x="60.4" y="235.2" font-size="8.2" text-anchor="middle" fill="#fff" stroke="#fff" stroke-width="0.17">18</text>
<text x="74.3" y="235.2" font-size="8.2" text-anchor="middle" fill="#fff" stroke="#fff" stroke-width="0.17">2</text>
<path d="M32 187.3H24.3V233.2H32" fill="none" stroke="#555" stroke-width="0.7"/>
<text x="36" y="188.9" text-anchor="middle" stroke="#222" stroke-width="0.17">-</text>
<text x="36.2" y="235.9" font-size="8.2" text-anchor="middle" stroke="#222" stroke-width="0.4">+</text>
<text x="0" y="210.1" font-size="6.6" stroke="#222" stroke-width="0.17" textLength="20.2" lengthAdjust="spacingAndGlyphs">FOXA1</text>
<text x="43.5" y="314.4" text-anchor="middle" stroke="#222" stroke-width="0.17">TCF12</text>
<text x="88.7" y="314.4" text-anchor="middle" stroke="#222" stroke-width="0.17">TLE3</text>
<circle cx="54.4" cy="330.25" r="14.6" fill="#77a8d1"/>
<circle cx="69.1" cy="330.25" r="14.6" fill="#acd3ef"/>
<path d="M61.75 317.64A14.6 14.6 0 0 1 61.75 342.86A14.6 14.6 0 0 1 61.75 317.64Z" fill="#4b7297"/>
<text x="47.7" y="333.35" font-size="8.2" text-anchor="middle" fill="#fff" stroke="#fff" stroke-width="0.17">53</text>
<text x="61.7" y="333.35" font-size="8.2" text-anchor="middle" fill="#fff" stroke="#fff" stroke-width="0.17">9</text>
<text x="75.6" y="333.35" font-size="8.2" text-anchor="middle" fill="#fff" stroke="#fff" stroke-width="0.17">127</text>
<circle cx="54.4" cy="373.75" r="14.6" fill="#77a8d1"/>
<circle cx="69.1" cy="373.75" r="14.6" fill="#acd3ef"/>
<path d="M61.75 361.14A14.6 14.6 0 0 1 61.75 386.36A14.6 14.6 0 0 1 61.75 361.14Z" fill="#4b7297"/>
<text x="47.7" y="376.85" font-size="8.2" text-anchor="middle" fill="#fff" stroke="#fff" stroke-width="0.17">11</text>
<text x="61.7" y="376.85" font-size="8.2" text-anchor="middle" fill="#fff" stroke="#fff" stroke-width="0.17">10</text>
<text x="75.6" y="376.85" font-size="8.2" text-anchor="middle" fill="#fff" stroke="#fff" stroke-width="0.17">12</text>
<path d="M32 329.3H24.3V375.7H32" fill="none" stroke="#555" stroke-width="0.7"/>
<text x="36" y="330.9" text-anchor="middle" stroke="#222" stroke-width="0.17">-</text>
<text x="36.2" y="378.4" font-size="8.2" text-anchor="middle" stroke="#222" stroke-width="0.4">+</text>
<text x="0" y="352.7" font-size="6.6" stroke="#222" stroke-width="0.17" textLength="20.2" lengthAdjust="spacingAndGlyphs">FOXA1</text>
<text x="40.9" y="457.9" text-anchor="middle" stroke="#222" stroke-width="0.17">SIN3</text>
<text x="88.7" y="457.9" text-anchor="middle" stroke="#222" stroke-width="0.17">TLE3</text>
<circle cx="54.4" cy="473.8" r="14.6" fill="#77a8d1"/>
<circle cx="69.1" cy="473.8" r="14.6" fill="#acd3ef"/>
<path d="M61.75 461.19A14.6 14.6 0 0 1 61.75 486.41A14.6 14.6 0 0 1 61.75 461.19Z" fill="#4b7297"/>
<text x="47.7" y="476.9" font-size="8.2" text-anchor="middle" fill="#fff" stroke="#fff" stroke-width="0.17">180</text>
<text x="61.7" y="476.9" font-size="8.2" text-anchor="middle" fill="#fff" stroke="#fff" stroke-width="0.17">19</text>
<text x="75.6" y="476.9" font-size="8.2" text-anchor="middle" fill="#fff" stroke="#fff" stroke-width="0.17">116</text>
<circle cx="54.4" cy="517.4" r="14.6" fill="#77a8d1"/>
<circle cx="69.1" cy="517.4" r="14.6" fill="#acd3ef"/>
<path d="M61.75 504.79A14.6 14.6 0 0 1 61.75 530.01A14.6 14.6 0 0 1 61.75 504.79Z" fill="#4b7297"/>
<text x="47.7" y="520.5" font-size="8.2" text-anchor="middle" fill="#fff" stroke="#fff" stroke-width="0.17">32</text>
<text x="61.7" y="520.5" font-size="8.2" text-anchor="middle" fill="#fff" stroke="#fff" stroke-width="0.17">17</text>
<text x="75.6" y="520.5" font-size="8.2" text-anchor="middle" fill="#fff" stroke="#fff" stroke-width="0.17">5</text>
<path d="M32 473.3H24.3V519.6H32" fill="none" stroke="#555" stroke-width="0.7"/>
<text x="36" y="474.9" text-anchor="middle" stroke="#222" stroke-width="0.17">-</text>
<text x="36.2" y="522.3" font-size="8.2" text-anchor="middle" stroke="#222" stroke-width="0.4">+</text>
<text x="0" y="496.2" font-size="6.6" stroke="#222" stroke-width="0.17" textLength="20.2" lengthAdjust="spacingAndGlyphs">FOXA1</text>
<line x1="128.5" y1="93.1" x2="128.5" y2="33.4" stroke="#444" stroke-width="0.7"/>
<line x1="127.1" y1="92.8" x2="128.5" y2="92.8" stroke="#444" stroke-width="0.6"/>
<text x="126.4" y="92.8" font-size="5.6" text-anchor="middle" fill="#333" stroke="#333" stroke-width="0.17" transform="rotate(-90 126.4 92.8)">0</text>
<line x1="127.1" y1="73" x2="128.5" y2="73" stroke="#444" stroke-width="0.6"/>
<text x="126.4" y="73" font-size="5.6" text-anchor="middle" fill="#333" stroke="#333" stroke-width="0.17" transform="rotate(-90 126.4 73)">10</text>
<line x1="127.1" y1="53.2" x2="128.5" y2="53.2" stroke="#444" stroke-width="0.6"/>
<text x="126.4" y="53.2" font-size="5.6" text-anchor="middle" fill="#333" stroke="#333" stroke-width="0.17" transform="rotate(-90 126.4 53.2)">20</text>
<line x1="127.1" y1="33.4" x2="128.5" y2="33.4" stroke="#444" stroke-width="0.6"/>
<text x="126.4" y="33.4" font-size="5.6" text-anchor="middle" fill="#333" stroke="#333" stroke-width="0.17" transform="rotate(-90 126.4 33.4)">30</text>
<line x1="127.5" y1="82.9" x2="128.5" y2="82.9" stroke="#444" stroke-width="0.5"/>
<line x1="127.5" y1="63.1" x2="128.5" y2="63.1" stroke="#444" stroke-width="0.5"/>
<line x1="127.5" y1="43.3" x2="128.5" y2="43.3" stroke="#444" stroke-width="0.5"/>
<text x="116" y="61" font-size="6.45" text-anchor="middle" fill="#333" stroke="#333" stroke-width="0.17" transform="rotate(-90 116 61)">-log10 (P value)</text>
<rect x="131" y="91.02" width="9.3" height="2.58" fill="#4a6f90"/>
<rect x="140.3" y="92.2" width="9.3" height="1.4" fill="#7aaad2"/>
<rect x="149.6" y="92.01" width="9.3" height="1.59" fill="#aad2ef"/>
<rect x="168.2" y="31.42" width="9.3" height="62.18" fill="#4a6f90"/>
<rect x="177.5" y="72.6" width="9.3" height="21" fill="#7aaad2"/>
<rect x="186.8" y="76.56" width="9.3" height="17.04" fill="#aad2ef"/>
<path d="M144.8 26V21H182.6V26" fill="none" stroke="#666" stroke-width="0.7"/>
<text x="163.6" y="17.1" font-size="6.2" text-anchor="middle" fill="#333"><tspan font-style="italic">P</tspan> = 1.8 x 10<tspan font-size="3.8" dy="-2.6">-16</tspan></text>
<text x="126.5" y="102.8" text-anchor="end" fill="#222" stroke="#222" stroke-width="0.17">ESR1</text>
<text x="136.4" y="102.6" font-size="6" text-anchor="middle" fill="#333" stroke="#333" stroke-width="0.17">+</text>
<text x="173.6" y="103.1" font-size="6" text-anchor="middle" fill="#333" stroke="#333" stroke-width="0.17">+</text>
<text x="146.2" y="102.6" font-size="6" text-anchor="middle" fill="#333" stroke="#333" stroke-width="0.17">+</text>
<text x="183.1" y="103.1" font-size="6" text-anchor="middle" fill="#333" stroke="#333" stroke-width="0.17">+</text>
<text x="154.2" y="102.6" font-size="6" text-anchor="middle" fill="#333" stroke="#333" stroke-width="0.17">-</text>
<text x="191.9" y="103.1" font-size="6" text-anchor="middle" fill="#333" stroke="#333" stroke-width="0.17">-</text>
<text x="126.5" y="110.2" text-anchor="end" fill="#222" stroke="#222" stroke-width="0.17">E2F1</text>
<text x="136.4" y="110" font-size="6" text-anchor="middle" fill="#333" stroke="#333" stroke-width="0.17">+</text>
<text x="173.6" y="110.5" font-size="6" text-anchor="middle" fill="#333" stroke="#333" stroke-width="0.17">+</text>
<text x="146.2" y="110" font-size="6" text-anchor="middle" fill="#333" stroke="#333" stroke-width="0.17">-</text>
<text x="183.1" y="110.5" font-size="6" text-anchor="middle" fill="#333" stroke="#333" stroke-width="0.17">-</text>
<text x="154.2" y="110" font-size="6" text-anchor="middle" fill="#333" stroke="#333" stroke-width="0.17">+</text>
<text x="191.9" y="110.5" font-size="6" text-anchor="middle" fill="#333" stroke="#333" stroke-width="0.17">+</text>
<text x="126.5" y="117.7" text-anchor="end" fill="#222" stroke="#222" stroke-width="0.17">FOXA1</text>
<text x="136.4" y="117.5" font-size="6" text-anchor="middle" fill="#333" stroke="#333" stroke-width="0.17">-</text>
<text x="173.6" y="118" font-size="6" text-anchor="middle" fill="#333" stroke="#333" stroke-width="0.17">+</text>
<text x="146.2" y="117.5" font-size="6" text-anchor="middle" fill="#333" stroke="#333" stroke-width="0.17">-</text>
<text x="183.1" y="118" font-size="6" text-anchor="middle" fill="#333" stroke="#333" stroke-width="0.17">+</text>
<text x="154.2" y="117.5" font-size="6" text-anchor="middle" fill="#333" stroke="#333" stroke-width="0.17">-</text>
<text x="191.9" y="118" font-size="6" text-anchor="middle" fill="#333" stroke="#333" stroke-width="0.17">+</text>
<rect x="167" y="111.8" width="32.4" height="8.2" fill="none" stroke="#777" stroke-width="0.5" stroke-dasharray="1,1"/>
<line x1="128.5" y1="236.4" x2="128.5" y2="189" stroke="#444" stroke-width="0.7"/>
<line x1="127.1" y1="236.1" x2="128.5" y2="236.1" stroke="#444" stroke-width="0.6"/>
<text x="126.4" y="236.1" font-size="5.6" text-anchor="middle" fill="#333" stroke="#333" stroke-width="0.17" transform="rotate(-90 126.4 236.1)">0</text>
<line x1="127.1" y1="220.4" x2="128.5" y2="220.4" stroke="#444" stroke-width="0.6"/>
<text x="126.4" y="220.4" font-size="5.6" text-anchor="middle" fill="#333" stroke="#333" stroke-width="0.17" transform="rotate(-90 126.4 220.4)">5</text>
<line x1="127.1" y1="204.7" x2="128.5" y2="204.7" stroke="#444" stroke-width="0.6"/>
<text x="126.4" y="204.7" font-size="5.6" text-anchor="middle" fill="#333" stroke="#333" stroke-width="0.17" transform="rotate(-90 126.4 204.7)">10</text>
<line x1="127.1" y1="189" x2="128.5" y2="189" stroke="#444" stroke-width="0.6"/>
<text x="126.4" y="189" font-size="5.6" text-anchor="middle" fill="#333" stroke="#333" stroke-width="0.17" transform="rotate(-90 126.4 189)">15</text>
<line x1="127.5" y1="228.25" x2="128.5" y2="228.25" stroke="#444" stroke-width="0.5"/>
<line x1="127.5" y1="212.55" x2="128.5" y2="212.55" stroke="#444" stroke-width="0.5"/>
<line x1="127.5" y1="196.85" x2="128.5" y2="196.85" stroke="#444" stroke-width="0.5"/>
<text x="116" y="213" font-size="6.45" text-anchor="middle" fill="#333" stroke="#333" stroke-width="0.17" transform="rotate(-90 116 213)">-log10 (P value)</text>
<rect x="131" y="227.94" width="9.3" height="8.96" fill="#4a6f90"/>
<rect x="140.3" y="235.5" width="9.3" height="1.4" fill="#7aaad2"/>
<rect x="149.6" y="235.16" width="9.3" height="1.74" fill="#aad2ef"/>
<rect x="168.2" y="173.93" width="9.3" height="62.97" fill="#4a6f90"/>
<rect x="177.5" y="203.13" width="9.3" height="33.77" fill="#7aaad2"/>
<rect x="186.8" y="226.99" width="9.3" height="9.91" fill="#aad2ef"/>
<path d="M144.8 169.3V164.3H182.6V169.3" fill="none" stroke="#666" stroke-width="0.7"/>
<text x="163.6" y="159.8" font-size="6.2" text-anchor="middle" fill="#333"><tspan font-style="italic">P</tspan> = 6.9 x 10<tspan font-size="3.8" dy="-2.6">-13</tspan></text>
<text x="126.5" y="246.1" text-anchor="end" fill="#222" stroke="#222" stroke-width="0.17">SER1</text>
<text x="134.6" y="245.9" font-size="6" text-anchor="middle" fill="#333" stroke="#333" stroke-width="0.17">+</text>
<text x="171.7" y="246.4" font-size="6" text-anchor="middle" fill="#333" stroke="#333" stroke-width="0.17">+</text>
<text x="143.7" y="245.9" font-size="6" text-anchor="middle" fill="#333" stroke="#333" stroke-width="0.17">+</text>
<text x="180.9" y="246.4" font-size="6" text-anchor="middle" fill="#333" stroke="#333" stroke-width="0.17">+</text>
<text x="152" y="245.9" font-size="6" text-anchor="middle" fill="#333" stroke="#333" stroke-width="0.17">-</text>
<text x="189.2" y="246.4" font-size="6" text-anchor="middle" fill="#333" stroke="#333" stroke-width="0.17">-</text>
<text x="126.5" y="253.5" text-anchor="end" fill="#222" stroke="#222" stroke-width="0.17">TCF12</text>
<text x="134.6" y="253.3" font-size="6" text-anchor="middle" fill="#333" stroke="#333" stroke-width="0.17">+</text>
<text x="171.7" y="253.8" font-size="6" text-anchor="middle" fill="#333" stroke="#333" stroke-width="0.17">+</text>
<text x="143.7" y="253.3" font-size="6" text-anchor="middle" fill="#333" stroke="#333" stroke-width="0.17">-</text>
<text x="180.9" y="253.8" font-size="6" text-anchor="middle" fill="#333" stroke="#333" stroke-width="0.17">-</text>
<text x="152" y="253.3" font-size="6" text-anchor="middle" fill="#333" stroke="#333" stroke-width="0.17">+</text>
<text x="189.2" y="253.8" font-size="6" text-anchor="middle" fill="#333" stroke="#333" stroke-width="0.17">+</text>
<text x="126.5" y="261" text-anchor="end" fill="#222" stroke="#222" stroke-width="0.17">FOXA1</text>
<text x="134.6" y="260.8" font-size="6" text-anchor="middle" fill="#333" stroke="#333" stroke-width="0.17">-</text>
<text x="171.7" y="261.3" font-size="6" text-anchor="middle" fill="#333" stroke="#333" stroke-width="0.17">+</text>
<text x="143.7" y="260.8" font-size="6" text-anchor="middle" fill="#333" stroke="#333" stroke-width="0.17">-</text>
<text x="180.9" y="261.3" font-size="6" text-anchor="middle" fill="#333" stroke="#333" stroke-width="0.17">+</text>
<text x="152" y="260.8" font-size="6" text-anchor="middle" fill="#333" stroke="#333" stroke-width="0.17">-</text>
<text x="189.2" y="261.3" font-size="6" text-anchor="middle" fill="#333" stroke="#333" stroke-width="0.17">+</text>
<rect x="163.1" y="255.1" width="32.4" height="8.2" fill="none" stroke="#777" stroke-width="0.5" stroke-dasharray="1,1"/>
<line x1="128.5" y1="382.1" x2="128.5" y2="324.95" stroke="#444" stroke-width="0.7"/>
<line x1="127.1" y1="381.8" x2="128.5" y2="381.8" stroke="#444" stroke-width="0.6"/>
<text x="126.4" y="381.8" font-size="5.6" text-anchor="middle" fill="#333" stroke="#333" stroke-width="0.17" transform="rotate(-90 126.4 381.8)">0</text>
<line x1="127.1" y1="362.85" x2="128.5" y2="362.85" stroke="#444" stroke-width="0.6"/>
<text x="126.4" y="362.85" font-size="5.6" text-anchor="middle" fill="#333" stroke="#333" stroke-width="0.17" transform="rotate(-90 126.4 362.85)">5</text>
<line x1="127.1" y1="343.9" x2="128.5" y2="343.9" stroke="#444" stroke-width="0.6"/>
<text x="126.4" y="343.9" font-size="5.6" text-anchor="middle" fill="#333" stroke="#333" stroke-width="0.17" transform="rotate(-90 126.4 343.9)">10</text>
<line x1="127.1" y1="324.95" x2="128.5" y2="324.95" stroke="#444" stroke-width="0.6"/>
<text x="126.4" y="324.95" font-size="5.6" text-anchor="middle" fill="#333" stroke="#333" stroke-width="0.17" transform="rotate(-90 126.4 324.95)">15</text>
<line x1="127.5" y1="372.32" x2="128.5" y2="372.32" stroke="#444" stroke-width="0.5"/>
<line x1="127.5" y1="353.38" x2="128.5" y2="353.38" stroke="#444" stroke-width="0.5"/>
<line x1="127.5" y1="334.43" x2="128.5" y2="334.43" stroke="#444" stroke-width="0.5"/>
<text x="116" y="356.5" font-size="6.45" text-anchor="middle" fill="#333" stroke="#333" stroke-width="0.17" transform="rotate(-90 116 356.5)">-log10 (P value)</text>
<rect x="131" y="376.3" width="9.3" height="6.3" fill="#4a6f90"/>
<rect x="140.3" y="381.2" width="9.3" height="1.4" fill="#7aaad2"/>
<rect x="149.6" y="381.2" width="9.3" height="1.4" fill="#aad2ef"/>
<rect x="168.2" y="320.02" width="9.3" height="62.58" fill="#4a6f90"/>
<rect x="177.5" y="366.64" width="9.3" height="15.96" fill="#7aaad2"/>
<rect x="186.8" y="380.47" width="9.3" height="2.13" fill="#aad2ef"/>
<path d="M144.8 314.6V309.6H182.6V314.6" fill="none" stroke="#666" stroke-width="0.7"/>
<text x="163.6" y="305.5" font-size="6.2" text-anchor="middle" fill="#333"><tspan font-style="italic">P</tspan> = 1.9 x 10<tspan font-size="3.8" dy="-2.6">-6</tspan></text>
<text x="126.5" y="391.8" text-anchor="end" fill="#222" stroke="#222" stroke-width="0.17">TCF12</text>
<text x="136.1" y="391.6" font-size="6" text-anchor="middle" fill="#333" stroke="#333" stroke-width="0.17">+</text>
<text x="172.9" y="392.1" font-size="6" text-anchor="middle" fill="#333" stroke="#333" stroke-width="0.17">+</text>
<text x="145.1" y="391.6" font-size="6" text-anchor="middle" fill="#333" stroke="#333" stroke-width="0.17">+</text>
<text x="182.4" y="392.1" font-size="6" text-anchor="middle" fill="#333" stroke="#333" stroke-width="0.17">+</text>
<text x="153.5" y="391.6" font-size="6" text-anchor="middle" fill="#333" stroke="#333" stroke-width="0.17">-</text>
<text x="191.1" y="392.1" font-size="6" text-anchor="middle" fill="#333" stroke="#333" stroke-width="0.17">-</text>
<text x="126.5" y="399.2" text-anchor="end" fill="#222" stroke="#222" stroke-width="0.17">TLE3</text>
<text x="136.1" y="399" font-size="6" text-anchor="middle" fill="#333" stroke="#333" stroke-width="0.17">+</text>
<text x="172.9" y="399.5" font-size="6" text-anchor="middle" fill="#333" stroke="#333" stroke-width="0.17">+</text>
<text x="145.1" y="399" font-size="6" text-anchor="middle" fill="#333" stroke="#333" stroke-width="0.17">-</text>
<text x="182.4" y="399.5" font-size="6" text-anchor="middle" fill="#333" stroke="#333" stroke-width="0.17">-</text>
<text x="153.5" y="399" font-size="6" text-anchor="middle" fill="#333" stroke="#333" stroke-width="0.17">+</text>
<text x="191.1" y="399.5" font-size="6" text-anchor="middle" fill="#333" stroke="#333" stroke-width="0.17">+</text>
<text x="126.5" y="406.7" text-anchor="end" fill="#222" stroke="#222" stroke-width="0.17">FOXA1</text>
<text x="136.1" y="406.5" font-size="6" text-anchor="middle" fill="#333" stroke="#333" stroke-width="0.17">-</text>
<text x="172.9" y="407" font-size="6" text-anchor="middle" fill="#333" stroke="#333" stroke-width="0.17">+</text>
<text x="145.1" y="406.5" font-size="6" text-anchor="middle" fill="#333" stroke="#333" stroke-width="0.17">-</text>
<text x="182.4" y="407" font-size="6" text-anchor="middle" fill="#333" stroke="#333" stroke-width="0.17">+</text>
<text x="153.5" y="406.5" font-size="6" text-anchor="middle" fill="#333" stroke="#333" stroke-width="0.17">-</text>
<text x="191.1" y="407" font-size="6" text-anchor="middle" fill="#333" stroke="#333" stroke-width="0.17">+</text>
<rect x="166.3" y="400.8" width="32.4" height="8.2" fill="none" stroke="#777" stroke-width="0.5" stroke-dasharray="1,1"/>
<line x1="128.5" y1="529.7" x2="128.5" y2="472" stroke="#444" stroke-width="0.7"/>
<line x1="127.1" y1="529.4" x2="128.5" y2="529.4" stroke="#444" stroke-width="0.6"/>
<text x="126.4" y="529.4" font-size="5.6" text-anchor="middle" fill="#333" stroke="#333" stroke-width="0.17" transform="rotate(-90 126.4 529.4)">0</text>
<line x1="127.1" y1="513" x2="128.5" y2="513" stroke="#444" stroke-width="0.6"/>
<text x="126.4" y="513" font-size="5.6" text-anchor="middle" fill="#333" stroke="#333" stroke-width="0.17" transform="rotate(-90 126.4 513)">4</text>
<line x1="127.1" y1="496.6" x2="128.5" y2="496.6" stroke="#444" stroke-width="0.6"/>
<text x="126.4" y="496.6" font-size="5.6" text-anchor="middle" fill="#333" stroke="#333" stroke-width="0.17" transform="rotate(-90 126.4 496.6)">8</text>
<line x1="127.1" y1="480.2" x2="128.5" y2="480.2" stroke="#444" stroke-width="0.6"/>
<text x="126.4" y="480.2" font-size="5.6" text-anchor="middle" fill="#333" stroke="#333" stroke-width="0.17" transform="rotate(-90 126.4 480.2)">12</text>
<line x1="127.5" y1="521.2" x2="128.5" y2="521.2" stroke="#444" stroke-width="0.5"/>
<line x1="127.5" y1="504.8" x2="128.5" y2="504.8" stroke="#444" stroke-width="0.5"/>
<line x1="127.5" y1="488.4" x2="128.5" y2="488.4" stroke="#444" stroke-width="0.5"/>
<line x1="127.5" y1="472" x2="128.5" y2="472" stroke="#444" stroke-width="0.5"/>
<text x="116" y="502.8" font-size="6.45" text-anchor="middle" fill="#333" stroke="#333" stroke-width="0.17" transform="rotate(-90 116 502.8)">-log10 (P value)</text>
<rect x="131" y="521.2" width="9.3" height="9" fill="#4a6f90"/>
<rect x="140.3" y="520.79" width="9.3" height="9.41" fill="#7aaad2"/>
<rect x="149.6" y="528.8" width="9.3" height="1.4" fill="#aad2ef"/>
<rect x="168.2" y="467.9" width="9.3" height="62.3" fill="#4a6f90"/>
<rect x="177.5" y="492.09" width="9.3" height="38.11" fill="#7aaad2"/>
<rect x="186.8" y="528.58" width="9.3" height="1.62" fill="#aad2ef"/>
<path d="M144.8 461.4V456.4H182.6V461.4" fill="none" stroke="#666" stroke-width="0.7"/>
<text x="163.6" y="453.7" font-size="6.2" text-anchor="middle" fill="#333"><tspan font-style="italic">P</tspan> = 2.3 x 10<tspan font-size="3.8" dy="-2.6">-9</tspan></text>
<text x="126.5" y="539.4" text-anchor="end" fill="#222" stroke="#222" stroke-width="0.17">SIN3</text>
<text x="134.2" y="539.2" font-size="6" text-anchor="middle" fill="#333" stroke="#333" stroke-width="0.17">+</text>
<text x="171.8" y="539.7" font-size="6" text-anchor="middle" fill="#333" stroke="#333" stroke-width="0.17">+</text>
<text x="143.4" y="539.2" font-size="6" text-anchor="middle" fill="#333" stroke="#333" stroke-width="0.17">+</text>
<text x="181.1" y="539.7" font-size="6" text-anchor="middle" fill="#333" stroke="#333" stroke-width="0.17">+</text>
<text x="151.9" y="539.2" font-size="6" text-anchor="middle" fill="#333" stroke="#333" stroke-width="0.17">-</text>
<text x="189.4" y="539.7" font-size="6" text-anchor="middle" fill="#333" stroke="#333" stroke-width="0.17">-</text>
<text x="126.5" y="546.8" text-anchor="end" fill="#222" stroke="#222" stroke-width="0.17">TLE3</text>
<text x="134.2" y="546.6" font-size="6" text-anchor="middle" fill="#333" stroke="#333" stroke-width="0.17">+</text>
<text x="171.8" y="547.1" font-size="6" text-anchor="middle" fill="#333" stroke="#333" stroke-width="0.17">+</text>
<text x="143.4" y="546.6" font-size="6" text-anchor="middle" fill="#333" stroke="#333" stroke-width="0.17">-</text>
<text x="181.1" y="547.1" font-size="6" text-anchor="middle" fill="#333" stroke="#333" stroke-width="0.17">-</text>
<text x="151.9" y="546.6" font-size="6" text-anchor="middle" fill="#333" stroke="#333" stroke-width="0.17">+</text>
<text x="189.4" y="547.1" font-size="6" text-anchor="middle" fill="#333" stroke="#333" stroke-width="0.17">+</text>
<text x="126.5" y="554.3" text-anchor="end" fill="#222" stroke="#222" stroke-width="0.17">FOXA1</text>
<text x="134.2" y="554.1" font-size="6" text-anchor="middle" fill="#333" stroke="#333" stroke-width="0.17">-</text>
<text x="171.8" y="554.6" font-size="6" text-anchor="middle" fill="#333" stroke="#333" stroke-width="0.17">+</text>
<text x="143.4" y="554.1" font-size="6" text-anchor="middle" fill="#333" stroke="#333" stroke-width="0.17">-</text>
<text x="181.1" y="554.6" font-size="6" text-anchor="middle" fill="#333" stroke="#333" stroke-width="0.17">+</text>
<text x="151.9" y="554.1" font-size="6" text-anchor="middle" fill="#333" stroke="#333" stroke-width="0.17">-</text>
<text x="189.4" y="554.6" font-size="6" text-anchor="middle" fill="#333" stroke="#333" stroke-width="0.17">+</text>
<rect x="165" y="548.4" width="32.4" height="8.2" fill="none" stroke="#777" stroke-width="0.5" stroke-dasharray="1,1"/>
<text x="227.3" y="6.6" text-anchor="middle" fill="#222" stroke="#222" stroke-width="0.17">FOXA1</text>
<line x1="212.6" y1="9.4" x2="242" y2="9.4" stroke="#c4c4c4" stroke-width="0.8"/>
<line x1="242" y1="9.1" x2="242" y2="21.2" stroke="#333" stroke-width="0.6"/>
<line x1="212.8" y1="9.1" x2="212.8" y2="21.2" stroke="#555" stroke-width="0.5"/>
<line x1="241" y1="9.1" x2="242" y2="9.1" stroke="#333" stroke-width="0.5"/>
<line x1="241" y1="11.52" x2="242" y2="11.52" stroke="#333" stroke-width="0.5"/>
<line x1="241" y1="13.94" x2="242" y2="13.94" stroke="#333" stroke-width="0.5"/>
<line x1="241" y1="16.36" x2="242" y2="16.36" stroke="#333" stroke-width="0.5"/>
<line x1="241" y1="18.78" x2="242" y2="18.78" stroke="#333" stroke-width="0.5"/>
<line x1="241" y1="21.2" x2="242" y2="21.2" stroke="#333" stroke-width="0.5"/>
<polyline points="212.6,20.5 213.11,20.5 213.61,20.5 214.12,20.5 214.63,20.49 215.13,20.49 215.64,20.48 216.15,20.48 216.66,20.46 217.16,20.44 217.67,20.42 218.18,20.38 218.68,20.33 219.19,20.27 219.7,20.18 220.2,20.08 220.71,19.95 221.22,19.79 221.72,19.61 222.23,19.4 222.74,19.16 223.24,18.86 223.75,18.45 224.26,17.84 224.77,16.91 225.27,15.54 225.78,13.8 226.29,11.97 226.79,10.54 227.3,10 227.81,10.54 228.31,11.97 228.82,13.8 229.33,15.54 229.83,16.91 230.34,17.84 230.85,18.45 231.36,18.86 231.86,19.16 232.37,19.4 232.88,19.61 233.38,19.79 233.89,19.95 234.4,20.08 234.9,20.18 235.41,20.27 235.92,20.33 236.42,20.38 236.93,20.42 237.44,20.44 237.94,20.46 238.45,20.48 238.96,20.48 239.47,20.49 239.97,20.49 240.48,20.5 240.99,20.5 241.49,20.5 242,20.5" fill="none" stroke="#33337a" stroke-width="0.9"/>
<text x="211.9" y="11.7" font-size="4.2" text-anchor="end" fill="#444" stroke="#444" stroke-width="0.17">20</text>
<text x="211.9" y="16.55" font-size="4.2" text-anchor="end" fill="#444" stroke="#444" stroke-width="0.17">10</text>
<text x="211.9" y="21.4" font-size="4.2" text-anchor="end" fill="#444" stroke="#444" stroke-width="0.17">0</text>
<rect x="212.6" y="21.8" width="29.4" height="82.9" fill="#fdebe3"/>
<use href="#nz0" transform="translate(212.6 21.8) scale(1 0.999)" style="color:#c83a26" opacity="1"/>
<text x="212.9" y="110.1" font-size="5.9" text-anchor="middle" fill="#222" stroke="#222" stroke-width="0.17">-3</text>
<text x="227.3" y="110.1" font-size="5.9" text-anchor="middle" fill="#222" stroke="#222" stroke-width="0.17">SNP</text>
<text x="241.7" y="110.1" font-size="5.9" text-anchor="middle" fill="#222" stroke="#222" stroke-width="0.17">3</text>
<line x1="227.3" y1="104.7" x2="227.3" y2="105.9" stroke="#444" stroke-width="0.4"/>
<text x="227.3" y="115.9" font-size="5.6" text-anchor="middle" fill="#222" stroke="#222" stroke-width="0.17" textLength="28.5" lengthAdjust="spacingAndGlyphs">Distance(kb)</text>
<rect x="212.6" y="119.3" width="29.4" height="3" fill="url(#cg00)"/>
<text x="213.1" y="126.3" font-size="5.2" text-anchor="middle" fill="#222" stroke="#222" stroke-width="0.17">0</text>
<text x="227.3" y="126.3" font-size="5.2" text-anchor="middle" fill="#222" stroke="#222" stroke-width="0.17">24</text>
<text x="241.2" y="126.3" font-size="5.2" text-anchor="middle" fill="#222" stroke="#222" stroke-width="0.17">54</text>
<text x="262.5" y="6.6" text-anchor="middle" fill="#222" stroke="#222" stroke-width="0.17">ESR1</text>
<line x1="247.8" y1="9.4" x2="277.2" y2="9.4" stroke="#c4c4c4" stroke-width="0.8"/>
<line x1="277.2" y1="9.1" x2="277.2" y2="21.2" stroke="#333" stroke-width="0.6"/>
<line x1="248" y1="9.1" x2="248" y2="21.2" stroke="#555" stroke-width="0.5"/>
<line x1="276.2" y1="9.1" x2="277.2" y2="9.1" stroke="#333" stroke-width="0.5"/>
<line x1="276.2" y1="11.52" x2="277.2" y2="11.52" stroke="#333" stroke-width="0.5"/>
<line x1="276.2" y1="13.94" x2="277.2" y2="13.94" stroke="#333" stroke-width="0.5"/>
<line x1="276.2" y1="16.36" x2="277.2" y2="16.36" stroke="#333" stroke-width="0.5"/>
<line x1="276.2" y1="18.78" x2="277.2" y2="18.78" stroke="#333" stroke-width="0.5"/>
<line x1="276.2" y1="21.2" x2="277.2" y2="21.2" stroke="#333" stroke-width="0.5"/>
<polyline points="247.8,20.5 248.31,20.5 248.81,20.5 249.32,20.5 249.83,20.49 250.33,20.49 250.84,20.48 251.35,20.48 251.86,20.46 252.36,20.44 252.87,20.42 253.38,20.38 253.88,20.33 254.39,20.27 254.9,20.18 255.4,20.08 255.91,19.95 256.42,19.79 256.92,19.61 257.43,19.4 257.94,19.16 258.44,18.86 258.95,18.45 259.46,17.84 259.97,16.91 260.47,15.54 260.98,13.8 261.49,11.97 261.99,10.54 262.5,10 263.01,10.54 263.51,11.97 264.02,13.8 264.53,15.54 265.03,16.91 265.54,17.84 266.05,18.45 266.56,18.86 267.06,19.16 267.57,19.4 268.08,19.61 268.58,19.79 269.09,19.95 269.6,20.08 270.1,20.18 270.61,20.27 271.12,20.33 271.62,20.38 272.13,20.42 272.64,20.44 273.14,20.46 273.65,20.48 274.16,20.48 274.67,20.49 275.17,20.49 275.68,20.5 276.19,20.5 276.69,20.5 277.2,20.5" fill="none" stroke="#33337a" stroke-width="0.9"/>
<text x="247.1" y="11.7" font-size="4.2" text-anchor="end" fill="#444" stroke="#444" stroke-width="0.17">20</text>
<text x="247.1" y="16.55" font-size="4.2" text-anchor="end" fill="#444" stroke="#444" stroke-width="0.17">10</text>
<text x="247.1" y="21.4" font-size="4.2" text-anchor="end" fill="#444" stroke="#444" stroke-width="0.17">0</text>
<rect x="247.8" y="21.8" width="29.4" height="82.9" fill="#f0f9ed"/>
<use href="#nz1" transform="translate(247.8 21.8) scale(1 0.999)" style="color:#1e8b3a" opacity="0.7"/>
<text x="248.1" y="110.1" font-size="5.9" text-anchor="middle" fill="#222" stroke="#222" stroke-width="0.17">-3</text>
<text x="262.5" y="110.1" font-size="5.9" text-anchor="middle" fill="#222" stroke="#222" stroke-width="0.17">SNP</text>
<text x="276.9" y="110.1" font-size="5.9" text-anchor="middle" fill="#222" stroke="#222" stroke-width="0.17">3</text>
<line x1="262.5" y1="104.7" x2="262.5" y2="105.9" stroke="#444" stroke-width="0.4"/>
<text x="262.5" y="115.9" font-size="5.6" text-anchor="middle" fill="#222" stroke="#222" stroke-width="0.17" textLength="28.5" lengthAdjust="spacingAndGlyphs">Distance(kb)</text>
<rect x="247.8" y="119.3" width="29.4" height="3" fill="url(#cg01)"/>
<text x="248.3" y="126.3" font-size="5.2" text-anchor="middle" fill="#222" stroke="#222" stroke-width="0.17">0</text>
<text x="262.5" y="126.3" font-size="5.2" text-anchor="middle" fill="#222" stroke="#222" stroke-width="0.17">24</text>
<text x="276.4" y="126.3" font-size="5.2" text-anchor="middle" fill="#222" stroke="#222" stroke-width="0.17">48</text>
<text x="297.7" y="6.6" text-anchor="middle" fill="#222" stroke="#222" stroke-width="0.17">E2F1</text>
<line x1="283" y1="9.4" x2="312.4" y2="9.4" stroke="#c4c4c4" stroke-width="0.8"/>
<line x1="312.4" y1="9.1" x2="312.4" y2="21.2" stroke="#333" stroke-width="0.6"/>
<line x1="283.2" y1="9.1" x2="283.2" y2="21.2" stroke="#555" stroke-width="0.5"/>
<line x1="311.4" y1="9.1" x2="312.4" y2="9.1" stroke="#333" stroke-width="0.5"/>
<line x1="311.4" y1="11.52" x2="312.4" y2="11.52" stroke="#333" stroke-width="0.5"/>
<line x1="311.4" y1="13.94" x2="312.4" y2="13.94" stroke="#333" stroke-width="0.5"/>
<line x1="311.4" y1="16.36" x2="312.4" y2="16.36" stroke="#333" stroke-width="0.5"/>
<line x1="311.4" y1="18.78" x2="312.4" y2="18.78" stroke="#333" stroke-width="0.5"/>
<line x1="311.4" y1="21.2" x2="312.4" y2="21.2" stroke="#333" stroke-width="0.5"/>
<polyline points="283,20.5 283.51,20.5 284.01,20.5 284.52,20.5 285.03,20.49 285.53,20.49 286.04,20.48 286.55,20.48 287.06,20.46 287.56,20.44 288.07,20.42 288.58,20.38 289.08,20.33 289.59,20.27 290.1,20.18 290.6,20.08 291.11,19.95 291.62,19.79 292.12,19.61 292.63,19.4 293.14,19.16 293.64,18.86 294.15,18.45 294.66,17.84 295.17,16.91 295.67,15.54 296.18,13.8 296.69,11.97 297.19,10.54 297.7,10 298.21,10.54 298.71,11.97 299.22,13.8 299.73,15.54 300.23,16.91 300.74,17.84 301.25,18.45 301.76,18.86 302.26,19.16 302.77,19.4 303.28,19.61 303.78,19.79 304.29,19.95 304.8,20.08 305.3,20.18 305.81,20.27 306.32,20.33 306.82,20.38 307.33,20.42 307.84,20.44 308.34,20.46 308.85,20.48 309.36,20.48 309.87,20.49 310.37,20.49 310.88,20.5 311.39,20.5 311.89,20.5 312.4,20.5" fill="none" stroke="#33337a" stroke-width="0.9"/>
<text x="282.3" y="11.7" font-size="4.2" text-anchor="end" fill="#444" stroke="#444" stroke-width="0.17">8</text>
<text x="282.3" y="16.55" font-size="4.2" text-anchor="end" fill="#444" stroke="#444" stroke-width="0.17">4</text>
<text x="282.3" y="21.4" font-size="4.2" text-anchor="end" fill="#444" stroke="#444" stroke-width="0.17">0</text>
<rect x="283" y="21.8" width="29.4" height="82.9" fill="#f2f0f9"/>
<use href="#nz2" transform="translate(283 21.8) scale(1 0.999)" style="color:#6a51a3" opacity="0.8"/>
<text x="283.3" y="110.1" font-size="5.9" text-anchor="middle" fill="#222" stroke="#222" stroke-width="0.17">-3</text>
<text x="297.7" y="110.1" font-size="5.9" text-anchor="middle" fill="#222" stroke="#222" stroke-width="0.17">SNP</text>
<text x="312.1" y="110.1" font-size="5.9" text-anchor="middle" fill="#222" stroke="#222" stroke-width="0.17">3</text>
<line x1="297.7" y1="104.7" x2="297.7" y2="105.9" stroke="#444" stroke-width="0.4"/>
<text x="297.7" y="115.9" font-size="5.6" text-anchor="middle" fill="#222" stroke="#222" stroke-width="0.17" textLength="28.5" lengthAdjust="spacingAndGlyphs">Distance(kb)</text>
<rect x="283" y="119.3" width="29.4" height="3" fill="url(#cg02)"/>
<text x="283.5" y="126.3" font-size="5.2" text-anchor="middle" fill="#222" stroke="#222" stroke-width="0.17">0</text>
<text x="297.7" y="126.3" font-size="5.2" text-anchor="middle" fill="#222" stroke="#222" stroke-width="0.17">4</text>
<text x="311.6" y="126.3" font-size="5.2" text-anchor="middle" fill="#222" stroke="#222" stroke-width="0.17">9</text>
<text x="228.9" y="151" text-anchor="middle" fill="#222" stroke="#222" stroke-width="0.17">FOXA1</text>
<line x1="214.2" y1="154.3" x2="243.6" y2="154.3" stroke="#c4c4c4" stroke-width="0.8"/>
<line x1="243.6" y1="154" x2="243.6" y2="166.8" stroke="#333" stroke-width="0.6"/>
<line x1="214.4" y1="154" x2="214.4" y2="166.8" stroke="#555" stroke-width="0.5"/>
<line x1="242.6" y1="154" x2="243.6" y2="154" stroke="#333" stroke-width="0.5"/>
<line x1="242.6" y1="156.56" x2="243.6" y2="156.56" stroke="#333" stroke-width="0.5"/>
<line x1="242.6" y1="159.12" x2="243.6" y2="159.12" stroke="#333" stroke-width="0.5"/>
<line x1="242.6" y1="161.68" x2="243.6" y2="161.68" stroke="#333" stroke-width="0.5"/>
<line x1="242.6" y1="164.24" x2="243.6" y2="164.24" stroke="#333" stroke-width="0.5"/>
<line x1="242.6" y1="166.8" x2="243.6" y2="166.8" stroke="#333" stroke-width="0.5"/>
<polyline points="214.2,166.1 214.71,166.1 215.21,166.1 215.72,166.1 216.23,166.09 216.73,166.09 217.24,166.08 217.75,166.07 218.26,166.06 218.76,166.04 219.27,166.01 219.78,165.97 220.28,165.92 220.79,165.85 221.3,165.76 221.8,165.65 222.31,165.51 222.82,165.35 223.32,165.15 223.83,164.93 224.34,164.67 224.84,164.35 225.35,163.92 225.86,163.27 226.37,162.27 226.87,160.81 227.38,158.96 227.89,157 228.39,155.48 228.9,154.9 229.41,155.48 229.91,157 230.42,158.96 230.93,160.81 231.43,162.27 231.94,163.27 232.45,163.92 232.96,164.35 233.46,164.67 233.97,164.93 234.48,165.15 234.98,165.35 235.49,165.51 236,165.65 236.5,165.76 237.01,165.85 237.52,165.92 238.02,165.97 238.53,166.01 239.04,166.04 239.54,166.06 240.05,166.07 240.56,166.08 241.07,166.09 241.57,166.09 242.08,166.1 242.59,166.1 243.09,166.1 243.6,166.1" fill="none" stroke="#33337a" stroke-width="0.9"/>
<text x="213.5" y="156.6" font-size="4.2" text-anchor="end" fill="#444" stroke="#444" stroke-width="0.17">30</text>
<text x="213.5" y="161.8" font-size="4.2" text-anchor="end" fill="#444" stroke="#444" stroke-width="0.17">15</text>
<text x="213.5" y="167" font-size="4.2" text-anchor="end" fill="#444" stroke="#444" stroke-width="0.17">0</text>
<rect x="214.2" y="167.4" width="29.4" height="81.6" fill="#fdebe3"/>
<use href="#nz1" transform="translate(214.2 167.4) scale(1 0.983)" style="color:#c83a26" opacity="1"/>
<text x="214.5" y="254.4" font-size="5.9" text-anchor="middle" fill="#222" stroke="#222" stroke-width="0.17">-3</text>
<text x="228.9" y="254.4" font-size="5.9" text-anchor="middle" fill="#222" stroke="#222" stroke-width="0.17">SNP</text>
<text x="243.3" y="254.4" font-size="5.9" text-anchor="middle" fill="#222" stroke="#222" stroke-width="0.17">3</text>
<line x1="228.9" y1="249" x2="228.9" y2="250.2" stroke="#444" stroke-width="0.4"/>
<text x="228.9" y="260.2" font-size="5.6" text-anchor="middle" fill="#222" stroke="#222" stroke-width="0.17" textLength="28.5" lengthAdjust="spacingAndGlyphs">Distance(kb)</text>
<rect x="214.2" y="263.6" width="29.4" height="3" fill="url(#cg10)"/>
<text x="214.7" y="270.6" font-size="5.2" text-anchor="middle" fill="#222" stroke="#222" stroke-width="0.17">0</text>
<text x="228.9" y="270.6" font-size="5.2" text-anchor="middle" fill="#222" stroke="#222" stroke-width="0.17">32</text>
<text x="242.8" y="270.6" font-size="5.2" text-anchor="middle" fill="#222" stroke="#222" stroke-width="0.17">64</text>
<text x="264.2" y="151" text-anchor="middle" fill="#222" stroke="#222" stroke-width="0.17">ESR1</text>
<line x1="249.5" y1="154.3" x2="278.9" y2="154.3" stroke="#c4c4c4" stroke-width="0.8"/>
<line x1="278.9" y1="154" x2="278.9" y2="166.8" stroke="#333" stroke-width="0.6"/>
<line x1="249.7" y1="154" x2="249.7" y2="166.8" stroke="#555" stroke-width="0.5"/>
<line x1="277.9" y1="154" x2="278.9" y2="154" stroke="#333" stroke-width="0.5"/>
<line x1="277.9" y1="156.56" x2="278.9" y2="156.56" stroke="#333" stroke-width="0.5"/>
<line x1="277.9" y1="159.12" x2="278.9" y2="159.12" stroke="#333" stroke-width="0.5"/>
<line x1="277.9" y1="161.68" x2="278.9" y2="161.68" stroke="#333" stroke-width="0.5"/>
<line x1="277.9" y1="164.24" x2="278.9" y2="164.24" stroke="#333" stroke-width="0.5"/>
<line x1="277.9" y1="166.8" x2="278.9" y2="166.8" stroke="#333" stroke-width="0.5"/>
<polyline points="249.5,166.1 250.01,166.1 250.51,166.1 251.02,166.1 251.53,166.09 252.03,166.09 252.54,166.08 253.05,166.07 253.56,166.06 254.06,166.04 254.57,166.01 255.08,165.97 255.58,165.92 256.09,165.85 256.6,165.76 257.1,165.65 257.61,165.51 258.12,165.35 258.62,165.15 259.13,164.93 259.64,164.67 260.14,164.35 260.65,163.92 261.16,163.27 261.67,162.27 262.17,160.81 262.68,158.96 263.19,157 263.69,155.48 264.2,154.9 264.71,155.48 265.21,157 265.72,158.96 266.23,160.81 266.73,162.27 267.24,163.27 267.75,163.92 268.26,164.35 268.76,164.67 269.27,164.93 269.78,165.15 270.28,165.35 270.79,165.51 271.3,165.65 271.8,165.76 272.31,165.85 272.82,165.92 273.32,165.97 273.83,166.01 274.34,166.04 274.84,166.06 275.35,166.07 275.86,166.08 276.37,166.09 276.87,166.09 277.38,166.1 277.89,166.1 278.39,166.1 278.9,166.1" fill="none" stroke="#33337a" stroke-width="0.9"/>
<text x="248.8" y="156.6" font-size="4.2" text-anchor="end" fill="#444" stroke="#444" stroke-width="0.17">30</text>
<text x="248.8" y="161.8" font-size="4.2" text-anchor="end" fill="#444" stroke="#444" stroke-width="0.17">15</text>
<text x="248.8" y="167" font-size="4.2" text-anchor="end" fill="#444" stroke="#444" stroke-width="0.17">0</text>
<rect x="249.5" y="167.4" width="29.4" height="81.6" fill="#f0f9ed"/>
<use href="#nz2" transform="translate(249.5 167.4) scale(1 0.983)" style="color:#1e8b3a" opacity="0.85"/>
<text x="249.8" y="254.4" font-size="5.9" text-anchor="middle" fill="#222" stroke="#222" stroke-width="0.17">-3</text>
<text x="264.2" y="254.4" font-size="5.9" text-anchor="middle" fill="#222" stroke="#222" stroke-width="0.17">SNP</text>
<text x="278.6" y="254.4" font-size="5.9" text-anchor="middle" fill="#222" stroke="#222" stroke-width="0.17">3</text>
<line x1="264.2" y1="249" x2="264.2" y2="250.2" stroke="#444" stroke-width="0.4"/>
<text x="264.2" y="260.2" font-size="5.6" text-anchor="middle" fill="#222" stroke="#222" stroke-width="0.17" textLength="28.5" lengthAdjust="spacingAndGlyphs">Distance(kb)</text>
<rect x="249.5" y="263.6" width="29.4" height="3" fill="url(#cg11)"/>
<text x="250" y="270.6" font-size="5.2" text-anchor="middle" fill="#222" stroke="#222" stroke-width="0.17">0</text>
<text x="264.2" y="270.6" font-size="5.2" text-anchor="middle" fill="#222" stroke="#222" stroke-width="0.17">24</text>
<text x="278.1" y="270.6" font-size="5.2" text-anchor="middle" fill="#222" stroke="#222" stroke-width="0.17">54</text>
<text x="299.9" y="151" text-anchor="middle" fill="#222" stroke="#222" stroke-width="0.17">TCF12</text>
<line x1="285.2" y1="154.3" x2="314.6" y2="154.3" stroke="#c4c4c4" stroke-width="0.8"/>
<line x1="314.6" y1="154" x2="314.6" y2="166.8" stroke="#333" stroke-width="0.6"/>
<line x1="285.4" y1="154" x2="285.4" y2="166.8" stroke="#555" stroke-width="0.5"/>
<line x1="313.6" y1="154" x2="314.6" y2="154" stroke="#333" stroke-width="0.5"/>
<line x1="313.6" y1="156.56" x2="314.6" y2="156.56" stroke="#333" stroke-width="0.5"/>
<line x1="313.6" y1="159.12" x2="314.6" y2="159.12" stroke="#333" stroke-width="0.5"/>
<line x1="313.6" y1="161.68" x2="314.6" y2="161.68" stroke="#333" stroke-width="0.5"/>
<line x1="313.6" y1="164.24" x2="314.6" y2="164.24" stroke="#333" stroke-width="0.5"/>
<line x1="313.6" y1="166.8" x2="314.6" y2="166.8" stroke="#333" stroke-width="0.5"/>
<polyline points="285.2,166.1 285.71,166.1 286.21,166.1 286.72,166.1 287.23,166.09 287.73,166.09 288.24,166.08 288.75,166.07 289.26,166.06 289.76,166.04 290.27,166.01 290.78,165.97 291.28,165.92 291.79,165.85 292.3,165.76 292.8,165.65 293.31,165.51 293.82,165.35 294.32,165.15 294.83,164.93 295.34,164.67 295.84,164.35 296.35,163.92 296.86,163.27 297.37,162.27 297.87,160.81 298.38,158.96 298.89,157 299.39,155.48 299.9,154.9 300.41,155.48 300.91,157 301.42,158.96 301.93,160.81 302.43,162.27 302.94,163.27 303.45,163.92 303.96,164.35 304.46,164.67 304.97,164.93 305.48,165.15 305.98,165.35 306.49,165.51 307,165.65 307.5,165.76 308.01,165.85 308.52,165.92 309.02,165.97 309.53,166.01 310.04,166.04 310.54,166.06 311.05,166.07 311.56,166.08 312.07,166.09 312.57,166.09 313.08,166.1 313.59,166.1 314.09,166.1 314.6,166.1" fill="none" stroke="#33337a" stroke-width="0.9"/>
<text x="284.5" y="156.6" font-size="4.2" text-anchor="end" fill="#444" stroke="#444" stroke-width="0.17">5</text>
<text x="284.5" y="167" font-size="4.2" text-anchor="end" fill="#444" stroke="#444" stroke-width="0.17">0</text>
<rect x="285.2" y="167.4" width="29.4" height="81.6" fill="#eaf2fa"/>
<use href="#nz0" transform="translate(285.2 167.4) scale(1 0.983)" style="color:#2b6cb0" opacity="1"/>
<text x="285.5" y="254.4" font-size="5.9" text-anchor="middle" fill="#222" stroke="#222" stroke-width="0.17">-3</text>
<text x="299.9" y="254.4" font-size="5.9" text-anchor="middle" fill="#222" stroke="#222" stroke-width="0.17">SNP</text>
<text x="314.3" y="254.4" font-size="5.9" text-anchor="middle" fill="#222" stroke="#222" stroke-width="0.17">3</text>
<line x1="299.9" y1="249" x2="299.9" y2="250.2" stroke="#444" stroke-width="0.4"/>
<text x="299.9" y="260.2" font-size="5.6" text-anchor="middle" fill="#222" stroke="#222" stroke-width="0.17" textLength="28.5" lengthAdjust="spacingAndGlyphs">Distance(kb)</text>
<rect x="285.2" y="263.6" width="29.4" height="3" fill="url(#cg12)"/>
<text x="285.7" y="270.6" font-size="5.2" text-anchor="middle" fill="#222" stroke="#222" stroke-width="0.17">0</text>
<text x="299.9" y="270.6" font-size="5.2" text-anchor="middle" fill="#222" stroke="#222" stroke-width="0.17">6</text>
<text x="313.8" y="270.6" font-size="5.2" text-anchor="middle" fill="#222" stroke="#222" stroke-width="0.17">12</text>
<text x="227.3" y="298.7" text-anchor="middle" fill="#222" stroke="#222" stroke-width="0.17">FOXA1</text>
<line x1="212.6" y1="301.4" x2="242" y2="301.4" stroke="#c4c4c4" stroke-width="0.8"/>
<line x1="242" y1="301.1" x2="242" y2="313.3" stroke="#333" stroke-width="0.6"/>
<line x1="212.8" y1="301.1" x2="212.8" y2="313.3" stroke="#555" stroke-width="0.5"/>
<line x1="241" y1="301.1" x2="242" y2="301.1" stroke="#333" stroke-width="0.5"/>
<line x1="241" y1="303.54" x2="242" y2="303.54" stroke="#333" stroke-width="0.5"/>
<line x1="241" y1="305.98" x2="242" y2="305.98" stroke="#333" stroke-width="0.5"/>
<line x1="241" y1="308.42" x2="242" y2="308.42" stroke="#333" stroke-width="0.5"/>
<line x1="241" y1="310.86" x2="242" y2="310.86" stroke="#333" stroke-width="0.5"/>
<line x1="241" y1="313.3" x2="242" y2="313.3" stroke="#333" stroke-width="0.5"/>
<polyline points="212.6,312.6 213.11,312.6 213.61,312.6 214.12,312.6 214.63,312.59 215.13,312.59 215.64,312.58 216.15,312.58 216.66,312.56 217.16,312.54 217.67,312.52 218.18,312.48 218.68,312.43 219.19,312.37 219.7,312.28 220.2,312.17 220.71,312.04 221.22,311.89 221.72,311.7 222.23,311.49 222.74,311.25 223.24,310.94 223.75,310.53 224.26,309.92 224.77,308.97 225.27,307.6 225.78,305.84 226.29,303.99 226.79,302.55 227.3,302 227.81,302.55 228.31,303.99 228.82,305.84 229.33,307.6 229.83,308.97 230.34,309.92 230.85,310.53 231.36,310.94 231.86,311.25 232.37,311.49 232.88,311.7 233.38,311.89 233.89,312.04 234.4,312.17 234.9,312.28 235.41,312.37 235.92,312.43 236.42,312.48 236.93,312.52 237.44,312.54 237.94,312.56 238.45,312.58 238.96,312.58 239.47,312.59 239.97,312.59 240.48,312.6 240.99,312.6 241.49,312.6 242,312.6" fill="none" stroke="#33337a" stroke-width="0.9"/>
<text x="211.9" y="303.7" font-size="4.2" text-anchor="end" fill="#444" stroke="#444" stroke-width="0.17">40</text>
<text x="211.9" y="308.6" font-size="4.2" text-anchor="end" fill="#444" stroke="#444" stroke-width="0.17">20</text>
<text x="211.9" y="313.5" font-size="4.2" text-anchor="end" fill="#444" stroke="#444" stroke-width="0.17">0</text>
<rect x="212.6" y="313.9" width="29.4" height="82.9" fill="#fdebe3"/>
<use href="#nz2" transform="translate(212.6 313.9) scale(1 0.999)" style="color:#c83a26" opacity="1"/>
<text x="212.9" y="402.2" font-size="5.9" text-anchor="middle" fill="#222" stroke="#222" stroke-width="0.17">-3</text>
<text x="227.3" y="402.2" font-size="5.9" text-anchor="middle" fill="#222" stroke="#222" stroke-width="0.17">SNP</text>
<text x="241.7" y="402.2" font-size="5.9" text-anchor="middle" fill="#222" stroke="#222" stroke-width="0.17">3</text>
<line x1="227.3" y1="396.8" x2="227.3" y2="398" stroke="#444" stroke-width="0.4"/>
<text x="227.3" y="408" font-size="5.6" text-anchor="middle" fill="#222" stroke="#222" stroke-width="0.17" textLength="28.5" lengthAdjust="spacingAndGlyphs">Distance(kb)</text>
<rect x="212.6" y="411.4" width="29.4" height="3" fill="url(#cg20)"/>
<text x="213.1" y="418.4" font-size="5.2" text-anchor="middle" fill="#222" stroke="#222" stroke-width="0.17">0</text>
<text x="227.3" y="418.4" font-size="5.2" text-anchor="middle" fill="#222" stroke="#222" stroke-width="0.17">40</text>
<text x="241.2" y="418.4" font-size="5.2" text-anchor="middle" fill="#222" stroke="#222" stroke-width="0.17">80</text>
<text x="263" y="298.7" text-anchor="middle" fill="#222" stroke="#222" stroke-width="0.17">TCF12</text>
<line x1="248.3" y1="301.4" x2="277.7" y2="301.4" stroke="#c4c4c4" stroke-width="0.8"/>
<line x1="277.7" y1="301.1" x2="277.7" y2="313.3" stroke="#333" stroke-width="0.6"/>
<line x1="248.5" y1="301.1" x2="248.5" y2="313.3" stroke="#555" stroke-width="0.5"/>
<line x1="276.7" y1="301.1" x2="277.7" y2="301.1" stroke="#333" stroke-width="0.5"/>
<line x1="276.7" y1="303.54" x2="277.7" y2="303.54" stroke="#333" stroke-width="0.5"/>
<line x1="276.7" y1="305.98" x2="277.7" y2="305.98" stroke="#333" stroke-width="0.5"/>
<line x1="276.7" y1="308.42" x2="277.7" y2="308.42" stroke="#333" stroke-width="0.5"/>
<line x1="276.7" y1="310.86" x2="277.7" y2="310.86" stroke="#333" stroke-width="0.5"/>
<line x1="276.7" y1="313.3" x2="277.7" y2="313.3" stroke="#333" stroke-width="0.5"/>
<polyline points="248.3,312.6 248.81,312.6 249.31,312.6 249.82,312.6 250.33,312.59 250.83,312.59 251.34,312.58 251.85,312.58 252.36,312.56 252.86,312.54 253.37,312.52 253.88,312.48 254.38,312.43 254.89,312.37 255.4,312.28 255.9,312.17 256.41,312.04 256.92,311.89 257.42,311.7 257.93,311.49 258.44,311.25 258.94,310.94 259.45,310.53 259.96,309.92 260.47,308.97 260.97,307.6 261.48,305.84 261.99,303.99 262.49,302.55 263,302 263.51,302.55 264.01,303.99 264.52,305.84 265.03,307.6 265.53,308.97 266.04,309.92 266.55,310.53 267.06,310.94 267.56,311.25 268.07,311.49 268.58,311.7 269.08,311.89 269.59,312.04 270.1,312.17 270.6,312.28 271.11,312.37 271.62,312.43 272.12,312.48 272.63,312.52 273.14,312.54 273.64,312.56 274.15,312.58 274.66,312.58 275.17,312.59 275.67,312.59 276.18,312.6 276.69,312.6 277.19,312.6 277.7,312.6" fill="none" stroke="#33337a" stroke-width="0.9"/>
<text x="247.6" y="303.7" font-size="4.2" text-anchor="end" fill="#444" stroke="#444" stroke-width="0.17">6</text>
<text x="247.6" y="313.5" font-size="4.2" text-anchor="end" fill="#444" stroke="#444" stroke-width="0.17">0</text>
<rect x="248.3" y="313.9" width="29.4" height="82.9" fill="#eaf2fa"/>
<use href="#nz0" transform="translate(248.3 313.9) scale(1 0.999)" style="color:#2b6cb0" opacity="1"/>
<text x="248.6" y="402.2" font-size="5.9" text-anchor="middle" fill="#222" stroke="#222" stroke-width="0.17">-3</text>
<text x="263" y="402.2" font-size="5.9" text-anchor="middle" fill="#222" stroke="#222" stroke-width="0.17">SNP</text>
<text x="277.4" y="402.2" font-size="5.9" text-anchor="middle" fill="#222" stroke="#222" stroke-width="0.17">3</text>
<line x1="263" y1="396.8" x2="263" y2="398" stroke="#444" stroke-width="0.4"/>
<text x="263" y="408" font-size="5.6" text-anchor="middle" fill="#222" stroke="#222" stroke-width="0.17" textLength="28.5" lengthAdjust="spacingAndGlyphs">Distance(kb)</text>
<rect x="248.3" y="411.4" width="29.4" height="3" fill="url(#cg21)"/>
<text x="248.8" y="418.4" font-size="5.2" text-anchor="middle" fill="#222" stroke="#222" stroke-width="0.17">0</text>
<text x="263" y="418.4" font-size="5.2" text-anchor="middle" fill="#222" stroke="#222" stroke-width="0.17">8</text>
<text x="276.9" y="418.4" font-size="5.2" text-anchor="middle" fill="#222" stroke="#222" stroke-width="0.17">16</text>
<text x="298.3" y="298.7" text-anchor="middle" fill="#222" stroke="#222" stroke-width="0.17">TLE3</text>
<line x1="283.6" y1="301.4" x2="313" y2="301.4" stroke="#c4c4c4" stroke-width="0.8"/>
<line x1="313" y1="301.1" x2="313" y2="313.3" stroke="#333" stroke-width="0.6"/>
<line x1="283.8" y1="301.1" x2="283.8" y2="313.3" stroke="#555" stroke-width="0.5"/>
<line x1="312" y1="301.1" x2="313" y2="301.1" stroke="#333" stroke-width="0.5"/>
<line x1="312" y1="303.54" x2="313" y2="303.54" stroke="#333" stroke-width="0.5"/>
<line x1="312" y1="305.98" x2="313" y2="305.98" stroke="#333" stroke-width="0.5"/>
<line x1="312" y1="308.42" x2="313" y2="308.42" stroke="#333" stroke-width="0.5"/>
<line x1="312" y1="310.86" x2="313" y2="310.86" stroke="#333" stroke-width="0.5"/>
<line x1="312" y1="313.3" x2="313" y2="313.3" stroke="#333" stroke-width="0.5"/>
<polyline points="283.6,312.6 284.11,312.6 284.61,312.6 285.12,312.6 285.63,312.59 286.13,312.59 286.64,312.58 287.15,312.58 287.66,312.56 288.16,312.54 288.67,312.52 289.18,312.48 289.68,312.43 290.19,312.37 290.7,312.28 291.2,312.17 291.71,312.04 292.22,311.89 292.72,311.7 293.23,311.49 293.74,311.25 294.24,310.94 294.75,310.53 295.26,309.92 295.77,308.97 296.27,307.6 296.78,305.84 297.29,303.99 297.79,302.55 298.3,302 298.81,302.55 299.31,303.99 299.82,305.84 300.33,307.6 300.83,308.97 301.34,309.92 301.85,310.53 302.36,310.94 302.86,311.25 303.37,311.49 303.88,311.7 304.38,311.89 304.89,312.04 305.4,312.17 305.9,312.28 306.41,312.37 306.92,312.43 307.42,312.48 307.93,312.52 308.44,312.54 308.94,312.56 309.45,312.58 309.96,312.58 310.47,312.59 310.97,312.59 311.48,312.6 311.99,312.6 312.49,312.6 313,312.6" fill="none" stroke="#33337a" stroke-width="0.9"/>
<text x="282.9" y="303.7" font-size="4.2" text-anchor="end" fill="#444" stroke="#444" stroke-width="0.17">6</text>
<text x="282.9" y="313.5" font-size="4.2" text-anchor="end" fill="#444" stroke="#444" stroke-width="0.17">0</text>
<rect x="283.6" y="313.9" width="29.4" height="82.9" fill="#efefef"/>
<use href="#nz1" transform="translate(283.6 313.9) scale(1 0.999)" style="color:#333333" opacity="1"/>
<text x="283.9" y="402.2" font-size="5.9" text-anchor="middle" fill="#222" stroke="#222" stroke-width="0.17">-3</text>
<text x="298.3" y="402.2" font-size="5.9" text-anchor="middle" fill="#222" stroke="#222" stroke-width="0.17">SNP</text>
<text x="312.7" y="402.2" font-size="5.9" text-anchor="middle" fill="#222" stroke="#222" stroke-width="0.17">3</text>
<line x1="298.3" y1="396.8" x2="298.3" y2="398" stroke="#444" stroke-width="0.4"/>
<text x="298.3" y="408" font-size="5.6" text-anchor="middle" fill="#222" stroke="#222" stroke-width="0.17" textLength="28.5" lengthAdjust="spacingAndGlyphs">Distance(kb)</text>
<rect x="283.6" y="411.4" width="29.4" height="3" fill="url(#cg22)"/>
<text x="284.1" y="418.4" font-size="5.2" text-anchor="middle" fill="#222" stroke="#222" stroke-width="0.17">0</text>
<text x="298.3" y="418.4" font-size="5.2" text-anchor="middle" fill="#222" stroke="#222" stroke-width="0.17">8</text>
<text x="312.2" y="418.4" font-size="5.2" text-anchor="middle" fill="#222" stroke="#222" stroke-width="0.17">16</text>
<text x="227.3" y="443.8" text-anchor="middle" fill="#222" stroke="#222" stroke-width="0.17">FOXA1</text>
<line x1="212.6" y1="446.5" x2="242" y2="446.5" stroke="#c4c4c4" stroke-width="0.8"/>
<line x1="242" y1="446.2" x2="242" y2="458.4" stroke="#333" stroke-width="0.6"/>
<line x1="212.8" y1="446.2" x2="212.8" y2="458.4" stroke="#555" stroke-width="0.5"/>
<line x1="241" y1="446.2" x2="242" y2="446.2" stroke="#333" stroke-width="0.5"/>
<line x1="241" y1="448.64" x2="242" y2="448.64" stroke="#333" stroke-width="0.5"/>
<line x1="241" y1="451.08" x2="242" y2="451.08" stroke="#333" stroke-width="0.5"/>
<line x1="241" y1="453.52" x2="242" y2="453.52" stroke="#333" stroke-width="0.5"/>
<line x1="241" y1="455.96" x2="242" y2="455.96" stroke="#333" stroke-width="0.5"/>
<line x1="241" y1="458.4" x2="242" y2="458.4" stroke="#333" stroke-width="0.5"/>
<polyline points="212.6,457.7 213.11,457.7 213.61,457.7 214.12,457.7 214.63,457.69 215.13,457.69 215.64,457.68 216.15,457.68 216.66,457.66 217.16,457.64 217.67,457.62 218.18,457.58 218.68,457.53 219.19,457.47 219.7,457.38 220.2,457.27 220.71,457.14 221.22,456.99 221.72,456.8 222.23,456.59 222.74,456.35 223.24,456.04 223.75,455.63 224.26,455.02 224.77,454.07 225.27,452.7 225.78,450.94 226.29,449.09 226.79,447.65 227.3,447.1 227.81,447.65 228.31,449.09 228.82,450.94 229.33,452.7 229.83,454.07 230.34,455.02 230.85,455.63 231.36,456.04 231.86,456.35 232.37,456.59 232.88,456.8 233.38,456.99 233.89,457.14 234.4,457.27 234.9,457.38 235.41,457.47 235.92,457.53 236.42,457.58 236.93,457.62 237.44,457.64 237.94,457.66 238.45,457.68 238.96,457.68 239.47,457.69 239.97,457.69 240.48,457.7 240.99,457.7 241.49,457.7 242,457.7" fill="none" stroke="#33337a" stroke-width="0.9"/>
<text x="211.9" y="448.8" font-size="4.2" text-anchor="end" fill="#444" stroke="#444" stroke-width="0.17">30</text>
<text x="211.9" y="453.7" font-size="4.2" text-anchor="end" fill="#444" stroke="#444" stroke-width="0.17">15</text>
<text x="211.9" y="458.6" font-size="4.2" text-anchor="end" fill="#444" stroke="#444" stroke-width="0.17">0</text>
<rect x="212.6" y="458.9" width="29.4" height="83" fill="#fdebe3"/>
<use href="#nz0" transform="translate(212.6 458.9) scale(1 1.000)" style="color:#c83a26" opacity="0.95"/>
<text x="212.9" y="547.3" font-size="5.9" text-anchor="middle" fill="#222" stroke="#222" stroke-width="0.17">-3</text>
<text x="227.3" y="547.3" font-size="5.9" text-anchor="middle" fill="#222" stroke="#222" stroke-width="0.17">SNP</text>
<text x="241.7" y="547.3" font-size="5.9" text-anchor="middle" fill="#222" stroke="#222" stroke-width="0.17">3</text>
<line x1="227.3" y1="541.9" x2="227.3" y2="543.1" stroke="#444" stroke-width="0.4"/>
<text x="227.3" y="553.1" font-size="5.6" text-anchor="middle" fill="#222" stroke="#222" stroke-width="0.17" textLength="28.5" lengthAdjust="spacingAndGlyphs">Distance(kb)</text>
<rect x="212.6" y="556.5" width="29.4" height="3" fill="url(#cg30)"/>
<text x="213.1" y="563.5" font-size="5.2" text-anchor="middle" fill="#222" stroke="#222" stroke-width="0.17">0</text>
<text x="227.3" y="563.5" font-size="5.2" text-anchor="middle" fill="#222" stroke="#222" stroke-width="0.17">32</text>
<text x="241.2" y="563.5" font-size="5.2" text-anchor="middle" fill="#222" stroke="#222" stroke-width="0.17">64</text>
<text x="262.5" y="443.8" text-anchor="middle" fill="#222" stroke="#222" stroke-width="0.17">SIN3</text>
<line x1="247.8" y1="446.5" x2="277.2" y2="446.5" stroke="#c4c4c4" stroke-width="0.8"/>
<line x1="277.2" y1="446.2" x2="277.2" y2="458.4" stroke="#333" stroke-width="0.6"/>
<line x1="248" y1="446.2" x2="248" y2="458.4" stroke="#555" stroke-width="0.5"/>
<line x1="276.2" y1="446.2" x2="277.2" y2="446.2" stroke="#333" stroke-width="0.5"/>
<line x1="276.2" y1="448.64" x2="277.2" y2="448.64" stroke="#333" stroke-width="0.5"/>
<line x1="276.2" y1="451.08" x2="277.2" y2="451.08" stroke="#333" stroke-width="0.5"/>
<line x1="276.2" y1="453.52" x2="277.2" y2="453.52" stroke="#333" stroke-width="0.5"/>
<line x1="276.2" y1="455.96" x2="277.2" y2="455.96" stroke="#333" stroke-width="0.5"/>
<line x1="276.2" y1="458.4" x2="277.2" y2="458.4" stroke="#333" stroke-width="0.5"/>
<polyline points="247.8,457.7 248.31,457.7 248.81,457.7 249.32,457.7 249.83,457.69 250.33,457.69 250.84,457.68 251.35,457.68 251.86,457.66 252.36,457.64 252.87,457.62 253.38,457.58 253.88,457.53 254.39,457.47 254.9,457.38 255.4,457.27 255.91,457.14 256.42,456.99 256.92,456.8 257.43,456.59 257.94,456.35 258.44,456.04 258.95,455.63 259.46,455.02 259.97,454.07 260.47,452.7 260.98,450.94 261.49,449.09 261.99,447.65 262.5,447.1 263.01,447.65 263.51,449.09 264.02,450.94 264.53,452.7 265.03,454.07 265.54,455.02 266.05,455.63 266.56,456.04 267.06,456.35 267.57,456.59 268.08,456.8 268.58,456.99 269.09,457.14 269.6,457.27 270.1,457.38 270.61,457.47 271.12,457.53 271.62,457.58 272.13,457.62 272.64,457.64 273.14,457.66 273.65,457.68 274.16,457.68 274.67,457.69 275.17,457.69 275.68,457.7 276.19,457.7 276.69,457.7 277.2,457.7" fill="none" stroke="#33337a" stroke-width="0.9"/>
<text x="247.1" y="448.8" font-size="4.2" text-anchor="end" fill="#444" stroke="#444" stroke-width="0.17">20</text>
<text x="247.1" y="453.7" font-size="4.2" text-anchor="end" fill="#444" stroke="#444" stroke-width="0.17">10</text>
<text x="247.1" y="458.6" font-size="4.2" text-anchor="end" fill="#444" stroke="#444" stroke-width="0.17">0</text>
<rect x="247.8" y="458.9" width="29.4" height="83" fill="#fde4cf"/>
<use href="#nz1" transform="translate(247.8 458.9) scale(1 1.000)" style="color:#c8560e" opacity="1"/>
<text x="248.1" y="547.3" font-size="5.9" text-anchor="middle" fill="#222" stroke="#222" stroke-width="0.17">-3</text>
<text x="262.5" y="547.3" font-size="5.9" text-anchor="middle" fill="#222" stroke="#222" stroke-width="0.17">SNP</text>
<text x="276.9" y="547.3" font-size="5.9" text-anchor="middle" fill="#222" stroke="#222" stroke-width="0.17">3</text>
<line x1="262.5" y1="541.9" x2="262.5" y2="543.1" stroke="#444" stroke-width="0.4"/>
<text x="262.5" y="553.1" font-size="5.6" text-anchor="middle" fill="#222" stroke="#222" stroke-width="0.17" textLength="28.5" lengthAdjust="spacingAndGlyphs">Distance(kb)</text>
<rect x="247.8" y="556.5" width="29.4" height="3" fill="url(#cg31)"/>
<text x="248.3" y="563.5" font-size="5.2" text-anchor="middle" fill="#222" stroke="#222" stroke-width="0.17">0</text>
<text x="262.5" y="563.5" font-size="5.2" text-anchor="middle" fill="#222" stroke="#222" stroke-width="0.17">20</text>
<text x="276.4" y="563.5" font-size="5.2" text-anchor="middle" fill="#222" stroke="#222" stroke-width="0.17">40</text>
<text x="297.7" y="443.8" text-anchor="middle" fill="#222" stroke="#222" stroke-width="0.17">TLE3</text>
<line x1="283" y1="446.5" x2="312.4" y2="446.5" stroke="#c4c4c4" stroke-width="0.8"/>
<line x1="312.4" y1="446.2" x2="312.4" y2="458.4" stroke="#333" stroke-width="0.6"/>
<line x1="283.2" y1="446.2" x2="283.2" y2="458.4" stroke="#555" stroke-width="0.5"/>
<line x1="311.4" y1="446.2" x2="312.4" y2="446.2" stroke="#333" stroke-width="0.5"/>
<line x1="311.4" y1="448.64" x2="312.4" y2="448.64" stroke="#333" stroke-width="0.5"/>
<line x1="311.4" y1="451.08" x2="312.4" y2="451.08" stroke="#333" stroke-width="0.5"/>
<line x1="311.4" y1="453.52" x2="312.4" y2="453.52" stroke="#333" stroke-width="0.5"/>
<line x1="311.4" y1="455.96" x2="312.4" y2="455.96" stroke="#333" stroke-width="0.5"/>
<line x1="311.4" y1="458.4" x2="312.4" y2="458.4" stroke="#333" stroke-width="0.5"/>
<polyline points="283,457.7 283.51,457.7 284.01,457.7 284.52,457.7 285.03,457.69 285.53,457.69 286.04,457.68 286.55,457.68 287.06,457.66 287.56,457.64 288.07,457.62 288.58,457.58 289.08,457.53 289.59,457.47 290.1,457.38 290.6,457.27 291.11,457.14 291.62,456.99 292.12,456.8 292.63,456.59 293.14,456.35 293.64,456.04 294.15,455.63 294.66,455.02 295.17,454.07 295.67,452.7 296.18,450.94 296.69,449.09 297.19,447.65 297.7,447.1 298.21,447.65 298.71,449.09 299.22,450.94 299.73,452.7 300.23,454.07 300.74,455.02 301.25,455.63 301.76,456.04 302.26,456.35 302.77,456.59 303.28,456.8 303.78,456.99 304.29,457.14 304.8,457.27 305.3,457.38 305.81,457.47 306.32,457.53 306.82,457.58 307.33,457.62 307.84,457.64 308.34,457.66 308.85,457.68 309.36,457.68 309.87,457.69 310.37,457.69 310.88,457.7 311.39,457.7 311.89,457.7 312.4,457.7" fill="none" stroke="#33337a" stroke-width="0.9"/>
<text x="282.3" y="448.8" font-size="4.2" text-anchor="end" fill="#444" stroke="#444" stroke-width="0.17">8</text>
<text x="282.3" y="453.7" font-size="4.2" text-anchor="end" fill="#444" stroke="#444" stroke-width="0.17">4</text>
<text x="282.3" y="458.6" font-size="4.2" text-anchor="end" fill="#444" stroke="#444" stroke-width="0.17">0</text>
<rect x="283" y="458.9" width="29.4" height="83" fill="#efefef"/>
<use href="#nz2" transform="translate(283 458.9) scale(1 1.000)" style="color:#333333" opacity="1"/>
<text x="283.3" y="547.3" font-size="5.9" text-anchor="middle" fill="#222" stroke="#222" stroke-width="0.17">-3</text>
<text x="297.7" y="547.3" font-size="5.9" text-anchor="middle" fill="#222" stroke="#222" stroke-width="0.17">SNP</text>
<text x="312.1" y="547.3" font-size="5.9" text-anchor="middle" fill="#222" stroke="#222" stroke-width="0.17">3</text>
<line x1="297.7" y1="541.9" x2="297.7" y2="543.1" stroke="#444" stroke-width="0.4"/>
<text x="297.7" y="553.1" font-size="5.6" text-anchor="middle" fill="#222" stroke="#222" stroke-width="0.17" textLength="28.5" lengthAdjust="spacingAndGlyphs">Distance(kb)</text>
<rect x="283" y="556.5" width="29.4" height="3" fill="url(#cg32)"/>
<text x="283.5" y="563.5" font-size="5.2" text-anchor="middle" fill="#222" stroke="#222" stroke-width="0.17">0</text>
<text x="297.7" y="563.5" font-size="5.2" text-anchor="middle" fill="#222" stroke="#222" stroke-width="0.17">6</text>
<text x="311.6" y="563.5" font-size="5.2" text-anchor="middle" fill="#222" stroke="#222" stroke-width="0.17">12</text>
<polygon points="326.8,4.3 327.86,6.44 330.22,6.79 328.51,8.46 328.92,10.81 326.8,9.7 324.68,10.81 325.09,8.46 323.38,6.79 325.74,6.44" fill="#1b7a3c"/>
<text x="334.5" y="9.9" fill="#222" stroke="#222" stroke-width="0.17" textLength="67.5" lengthAdjust="spacingAndGlyphs">Putative functional SNP</text>
<line x1="349.4" y1="91.4" x2="349.4" y2="37.5" stroke="#444" stroke-width="0.7"/>
<line x1="348" y1="91.1" x2="349.4" y2="91.1" stroke="#444" stroke-width="0.6"/>
<text x="347" y="91.1" font-size="5.8" text-anchor="middle" fill="#333" stroke="#333" stroke-width="0.17" transform="rotate(-90 347 91.1)">0</text>
<line x1="348" y1="77.7" x2="349.4" y2="77.7" stroke="#444" stroke-width="0.6"/>
<text x="347" y="77.7" font-size="5.8" text-anchor="middle" fill="#333" stroke="#333" stroke-width="0.17" transform="rotate(-90 347 77.7)">5</text>
<line x1="348" y1="64.3" x2="349.4" y2="64.3" stroke="#444" stroke-width="0.6"/>
<text x="347" y="64.3" font-size="5.8" text-anchor="middle" fill="#333" stroke="#333" stroke-width="0.17" transform="rotate(-90 347 64.3)">10</text>
<line x1="348" y1="50.9" x2="349.4" y2="50.9" stroke="#444" stroke-width="0.6"/>
<text x="347" y="50.9" font-size="5.8" text-anchor="middle" fill="#333" stroke="#333" stroke-width="0.17" transform="rotate(-90 347 50.9)">15</text>
<line x1="348" y1="37.5" x2="349.4" y2="37.5" stroke="#444" stroke-width="0.6"/>
<text x="347" y="37.5" font-size="5.8" text-anchor="middle" fill="#333" stroke="#333" stroke-width="0.17" transform="rotate(-90 347 37.5)">20</text>
<text x="339" y="67.3" text-anchor="middle" fill="#333" stroke="#333" stroke-width="0.17" textLength="80" lengthAdjust="spacingAndGlyphs" transform="rotate(-90 339 67.3)">% of enriched FOXA1 motif</text>
<rect x="352" y="76.36" width="10.5" height="15.84" fill="#c8c8c8"/>
<rect x="365" y="58.94" width="10.5" height="33.26" fill="#c8c8c8"/>
<rect x="377.7" y="28.12" width="10.5" height="64.08" fill="#c8c8c8"/>
<line x1="351.5" y1="76.36" x2="449" y2="76.36" stroke="#e06060" stroke-width="0.6" stroke-dasharray="1.2,1.2"/>
<text x="374" y="22.9" font-size="6.3" text-anchor="middle" fill="#222"><tspan font-style="italic">P</tspan> &lt; 1 x 10<tspan font-size="3.8" dy="-2.6">-30</tspan><tspan dy="2.6"> for all</tspan></text>
<path d="M391.4 29.2Q392.4 29.2 392.4 30.7L392.4 51.7Q392.4 53.2 393.8 53.2Q392.4 53.2 392.4 54.7L392.4 75.1Q392.4 76.6 391.4 76.6" fill="none" stroke="#111" stroke-width="1.05"/>
<path d="M391.4 76.6Q392.4 76.6 392.4 78.1L392.4 83.5Q392.4 85 393.8 85Q392.4 85 392.4 86.5L392.4 92Q392.4 93.5 391.4 93.5" fill="none" stroke="#111" stroke-width="1.05"/>
<line x1="356.9" y1="97.5" x2="356.9" y2="114.8" stroke="#c8232c" stroke-width="0.8"/>
<polygon points="356.9,94.5 354.8,99.1 359,99.1" fill="#c8232c"/>
<polygon points="356.9,117.8 354.8,113.2 359,113.2" fill="#c8232c"/>
<polygon points="356.9,102.8 357.9,104.82 360.13,105.15 358.52,106.73 358.9,108.95 356.9,107.9 354.9,108.95 355.28,106.73 353.67,105.15 355.9,104.82" fill="#1b7a3c"/>
<text x="351.5" y="106.2" font-size="6.3" text-anchor="middle" fill="#222" stroke="#222" stroke-width="0.17" transform="rotate(-90 351.5 106.2)">50bp</text>
<line x1="370.6" y1="97.5" x2="370.6" y2="123.3" stroke="#c8232c" stroke-width="0.8"/>
<polygon points="370.6,94.5 368.5,99.1 372.7,99.1" fill="#c8232c"/>
<polygon points="370.6,126.3 368.5,121.7 372.7,121.7" fill="#c8232c"/>
<polygon points="370.6,106.7 371.6,108.72 373.83,109.05 372.22,110.63 372.6,112.85 370.6,111.8 368.6,112.85 368.98,110.63 367.37,109.05 369.6,108.72" fill="#1b7a3c"/>
<text x="366.3" y="108.5" font-size="6.3" text-anchor="middle" fill="#222" stroke="#222" stroke-width="0.17" transform="rotate(-90 366.3 108.5)">100bp</text>
<line x1="385.4" y1="97.5" x2="385.4" y2="126.5" stroke="#c8232c" stroke-width="0.8"/>
<polygon points="385.4,94.5 383.3,99.1 387.5,99.1" fill="#c8232c"/>
<polygon points="385.4,129.5 383.3,124.9 387.5,124.9" fill="#c8232c"/>
<polygon points="385.4,109 386.4,111.02 388.63,111.35 387.02,112.93 387.4,115.15 385.4,114.1 383.4,115.15 383.78,112.93 382.17,111.35 384.4,111.02" fill="#1b7a3c"/>
<text x="381.2" y="108.1" font-size="6.3" text-anchor="middle" fill="#222" stroke="#222" stroke-width="0.17" transform="rotate(-90 381.2 108.1)">200bp</text>
<text x="404" y="40" font-size="6.9" fill="#222" stroke="#222" stroke-width="0.17" textLength="16.2" lengthAdjust="spacingAndGlyphs">ESR1</text>
<text x="425" y="42" font-size="6.9" fill="#222" stroke="#222" stroke-width="0.17" textLength="14.82" lengthAdjust="spacingAndGlyphs">E2F1</text>
<circle cx="417.7" cy="56.8" r="5.5" fill="#f39200"/>
<circle cx="415" cy="46.9" r="5.6" fill="#17a33a"/>
<circle cx="424.9" cy="49.9" r="5.7" fill="#c0232a"/>
<text x="407.8" y="59.6" font-size="6.9" fill="#222" stroke="#222" stroke-width="0.17" textLength="20.33" lengthAdjust="spacingAndGlyphs">FOXA1</text>
<line x1="402" y1="64.5" x2="411.5" y2="64.5" stroke="#777" stroke-width="0.8"/>
<line x1="429.2" y1="64.5" x2="446" y2="64.5" stroke="#777" stroke-width="0.8"/>
<polygon points="438.6,61.7 439.63,63.78 441.93,64.12 440.26,65.74 440.66,68.03 438.6,66.95 436.54,68.03 436.94,65.74 435.27,64.12 437.57,63.78" fill="#1b7a3c"/>
<text x="410" y="85.9" font-size="6.9" fill="#222" stroke="#222" stroke-width="0.17" textLength="16.2" lengthAdjust="spacingAndGlyphs">ESR1</text>
<text x="431" y="88" font-size="6.9" fill="#222" stroke="#222" stroke-width="0.17" textLength="14.82" lengthAdjust="spacingAndGlyphs">E2F1</text>
<circle cx="421.7" cy="102.6" r="5.5" fill="#f39200"/>
<circle cx="419" cy="92.7" r="5.6" fill="#17a33a"/>
<circle cx="428.9" cy="95.7" r="5.7" fill="#c0232a"/>
<text x="411.8" y="105.4" font-size="6.9" fill="#222" stroke="#222" stroke-width="0.17" textLength="20.33" lengthAdjust="spacingAndGlyphs">FOXA1</text>
<line x1="402" y1="111.1" x2="411.2" y2="111.1" stroke="#777" stroke-width="0.8"/>
<line x1="432.6" y1="111.1" x2="442.3" y2="111.1" stroke="#777" stroke-width="0.8"/>
<polygon points="420.2,110.7 421.23,112.78 423.53,113.12 421.86,114.74 422.26,117.03 420.2,115.95 418.14,117.03 418.54,114.74 416.87,113.12 419.17,112.78" fill="#1b7a3c"/>
<line x1="349.4" y1="236" x2="349.4" y2="173.3" stroke="#444" stroke-width="0.7"/>
<line x1="348" y1="235.7" x2="349.4" y2="235.7" stroke="#444" stroke-width="0.6"/>
<text x="347" y="235.7" font-size="5.8" text-anchor="middle" fill="#333" stroke="#333" stroke-width="0.17" transform="rotate(-90 347 235.7)">0</text>
<line x1="348" y1="214.9" x2="349.4" y2="214.9" stroke="#444" stroke-width="0.6"/>
<text x="347" y="214.9" font-size="5.8" text-anchor="middle" fill="#333" stroke="#333" stroke-width="0.17" transform="rotate(-90 347 214.9)">10</text>
<line x1="348" y1="194.1" x2="349.4" y2="194.1" stroke="#444" stroke-width="0.6"/>
<text x="347" y="194.1" font-size="5.8" text-anchor="middle" fill="#333" stroke="#333" stroke-width="0.17" transform="rotate(-90 347 194.1)">20</text>
<line x1="348" y1="173.3" x2="349.4" y2="173.3" stroke="#444" stroke-width="0.6"/>
<text x="347" y="173.3" font-size="5.8" text-anchor="middle" fill="#333" stroke="#333" stroke-width="0.17" transform="rotate(-90 347 173.3)">30</text>
<text x="339" y="207.7" text-anchor="middle" fill="#333" stroke="#333" stroke-width="0.17" textLength="80" lengthAdjust="spacingAndGlyphs" transform="rotate(-90 339 207.7)">% of enriched FOXA1 motif</text>
<rect x="352" y="219.48" width="10.5" height="17.32" fill="#c8c8c8"/>
<rect x="365" y="201.38" width="10.5" height="35.42" fill="#c8c8c8"/>
<rect x="377.7" y="172.05" width="10.5" height="64.75" fill="#c8c8c8"/>
<line x1="351.5" y1="219.48" x2="449" y2="219.48" stroke="#e06060" stroke-width="0.6" stroke-dasharray="1.2,1.2"/>
<text x="374" y="166.3" font-size="6.3" text-anchor="middle" fill="#222"><tspan font-style="italic">P</tspan> &lt; 1 x 10<tspan font-size="3.8" dy="-2.6">-30</tspan><tspan dy="2.6"> for all</tspan></text>
<path d="M391.4 172Q392.4 172 392.4 173.5L392.4 193.5Q392.4 195 393.8 195Q392.4 195 392.4 196.5L392.4 218.1Q392.4 219.6 391.4 219.6" fill="none" stroke="#111" stroke-width="1.05"/>
<path d="M391.4 219.6Q392.4 219.6 392.4 221.1L392.4 226.2Q392.4 227.7 393.8 227.7Q392.4 227.7 392.4 229.2L392.4 234.2Q392.4 235.7 391.4 235.7" fill="none" stroke="#111" stroke-width="1.05"/>
<line x1="356.9" y1="242.1" x2="356.9" y2="259.4" stroke="#c8232c" stroke-width="0.8"/>
<polygon points="356.9,239.1 354.8,243.7 359,243.7" fill="#c8232c"/>
<polygon points="356.9,262.4 354.8,257.8 359,257.8" fill="#c8232c"/>
<polygon points="356.9,247.4 357.9,249.42 360.13,249.75 358.52,251.33 358.9,253.55 356.9,252.5 354.9,253.55 355.28,251.33 353.67,249.75 355.9,249.42" fill="#1b7a3c"/>
<text x="351.5" y="250.8" font-size="6.3" text-anchor="middle" fill="#222" stroke="#222" stroke-width="0.17" transform="rotate(-90 351.5 250.8)">50bp</text>
<line x1="370.6" y1="242.1" x2="370.6" y2="267.9" stroke="#c8232c" stroke-width="0.8"/>
<polygon points="370.6,239.1 368.5,243.7 372.7,243.7" fill="#c8232c"/>
<polygon points="370.6,270.9 368.5,266.3 372.7,266.3" fill="#c8232c"/>
<polygon points="370.6,251.3 371.6,253.32 373.83,253.65 372.22,255.23 372.6,257.45 370.6,256.4 368.6,257.45 368.98,255.23 367.37,253.65 369.6,253.32" fill="#1b7a3c"/>
<text x="366.3" y="253.1" font-size="6.3" text-anchor="middle" fill="#222" stroke="#222" stroke-width="0.17" transform="rotate(-90 366.3 253.1)">100bp</text>
<line x1="385.4" y1="242.1" x2="385.4" y2="271.1" stroke="#c8232c" stroke-width="0.8"/>
<polygon points="385.4,239.1 383.3,243.7 387.5,243.7" fill="#c8232c"/>
<polygon points="385.4,274.1 383.3,269.5 387.5,269.5" fill="#c8232c"/>
<polygon points="385.4,253.6 386.4,255.62 388.63,255.95 387.02,257.53 387.4,259.75 385.4,258.7 383.4,259.75 383.78,257.53 382.17,255.95 384.4,255.62" fill="#1b7a3c"/>
<text x="381.2" y="252.7" font-size="6.3" text-anchor="middle" fill="#222" stroke="#222" stroke-width="0.17" transform="rotate(-90 381.2 252.7)">200bp</text>
<text x="404" y="183.6" font-size="6.9" fill="#222" stroke="#222" stroke-width="0.17" textLength="16.2" lengthAdjust="spacingAndGlyphs">ESR1</text>
<text x="425" y="185.6" font-size="6.9" fill="#222" stroke="#222" stroke-width="0.17" textLength="18.95" lengthAdjust="spacingAndGlyphs">TCF12</text>
<circle cx="417.7" cy="200.4" r="5.5" fill="#f39200"/>
<circle cx="415" cy="190.5" r="5.6" fill="#17a33a"/>
<circle cx="424.9" cy="193.5" r="5.7" fill="#c0232a"/>
<text x="407.8" y="203.2" font-size="6.9" fill="#222" stroke="#222" stroke-width="0.17" textLength="20.33" lengthAdjust="spacingAndGlyphs">FOXA1</text>
<line x1="402" y1="208.1" x2="411.5" y2="208.1" stroke="#777" stroke-width="0.8"/>
<line x1="429.2" y1="208.1" x2="446" y2="208.1" stroke="#777" stroke-width="0.8"/>
<polygon points="438.6,205.3 439.63,207.38 441.93,207.72 440.26,209.34 440.66,211.63 438.6,210.55 436.54,211.63 436.94,209.34 435.27,207.72 437.57,207.38" fill="#1b7a3c"/>
<text x="410" y="229.5" font-size="6.9" fill="#222" stroke="#222" stroke-width="0.17" textLength="16.2" lengthAdjust="spacingAndGlyphs">ESR1</text>
<text x="431" y="231.6" font-size="6.9" fill="#222" stroke="#222" stroke-width="0.17" textLength="18.95" lengthAdjust="spacingAndGlyphs">TCF12</text>
<circle cx="421.7" cy="246.2" r="5.5" fill="#f39200"/>
<circle cx="419" cy="236.3" r="5.6" fill="#17a33a"/>
<circle cx="428.9" cy="239.3" r="5.7" fill="#c0232a"/>
<text x="411.8" y="249" font-size="6.9" fill="#222" stroke="#222" stroke-width="0.17" textLength="20.33" lengthAdjust="spacingAndGlyphs">FOXA1</text>
<line x1="402" y1="254.7" x2="411.2" y2="254.7" stroke="#777" stroke-width="0.8"/>
<line x1="432.6" y1="254.7" x2="442.3" y2="254.7" stroke="#777" stroke-width="0.8"/>
<polygon points="420.2,254.3 421.23,256.38 423.53,256.72 421.86,258.34 422.26,260.63 420.2,259.55 418.14,260.63 418.54,258.34 416.87,256.72 419.17,256.38" fill="#1b7a3c"/>
<line x1="349.4" y1="379" x2="349.4" y2="317.95" stroke="#444" stroke-width="0.7"/>
<line x1="348" y1="378.7" x2="349.4" y2="378.7" stroke="#444" stroke-width="0.6"/>
<text x="347" y="378.7" font-size="5.8" text-anchor="middle" fill="#333" stroke="#333" stroke-width="0.17" transform="rotate(-90 347 378.7)">0</text>
<line x1="348" y1="366.55" x2="349.4" y2="366.55" stroke="#444" stroke-width="0.6"/>
<text x="347" y="366.55" font-size="5.8" text-anchor="middle" fill="#333" stroke="#333" stroke-width="0.17" transform="rotate(-90 347 366.55)">5</text>
<line x1="348" y1="354.4" x2="349.4" y2="354.4" stroke="#444" stroke-width="0.6"/>
<text x="347" y="354.4" font-size="5.8" text-anchor="middle" fill="#333" stroke="#333" stroke-width="0.17" transform="rotate(-90 347 354.4)">10</text>
<line x1="348" y1="342.25" x2="349.4" y2="342.25" stroke="#444" stroke-width="0.6"/>
<text x="347" y="342.25" font-size="5.8" text-anchor="middle" fill="#333" stroke="#333" stroke-width="0.17" transform="rotate(-90 347 342.25)">15</text>
<line x1="348" y1="330.1" x2="349.4" y2="330.1" stroke="#444" stroke-width="0.6"/>
<text x="347" y="330.1" font-size="5.8" text-anchor="middle" fill="#333" stroke="#333" stroke-width="0.17" transform="rotate(-90 347 330.1)">20</text>
<line x1="348" y1="317.95" x2="349.4" y2="317.95" stroke="#444" stroke-width="0.6"/>
<text x="347" y="317.95" font-size="5.8" text-anchor="middle" fill="#333" stroke="#333" stroke-width="0.17" transform="rotate(-90 347 317.95)">25</text>
<text x="339" y="348.9" text-anchor="middle" fill="#333" stroke="#333" stroke-width="0.17" textLength="80" lengthAdjust="spacingAndGlyphs" transform="rotate(-90 339 348.9)">% of enriched FOXA1 motif</text>
<rect x="352" y="361.69" width="10.5" height="18.11" fill="#c8c8c8"/>
<rect x="365" y="341.03" width="10.5" height="38.77" fill="#c8c8c8"/>
<rect x="377.7" y="314.79" width="10.5" height="65.01" fill="#c8c8c8"/>
<line x1="351.5" y1="361.69" x2="449" y2="361.69" stroke="#e06060" stroke-width="0.6" stroke-dasharray="1.2,1.2"/>
<text x="374" y="311.6" font-size="6.3" text-anchor="middle" fill="#222"><tspan font-style="italic">P</tspan> &lt; 1 x 10<tspan font-size="3.8" dy="-2.6">-30</tspan><tspan dy="2.6"> for all</tspan></text>
<path d="M391.4 315.6Q392.4 315.6 392.4 317.1L392.4 337.7Q392.4 339.2 393.8 339.2Q392.4 339.2 392.4 340.7L392.4 360.4Q392.4 361.9 391.4 361.9" fill="none" stroke="#111" stroke-width="1.05"/>
<path d="M391.4 361.9Q392.4 361.9 392.4 363.4L392.4 369.5Q392.4 371 393.8 371Q392.4 371 392.4 372.5L392.4 377.2Q392.4 378.7 391.4 378.7" fill="none" stroke="#111" stroke-width="1.05"/>
<line x1="356.9" y1="387.2" x2="356.9" y2="404.5" stroke="#c8232c" stroke-width="0.8"/>
<polygon points="356.9,384.2 354.8,388.8 359,388.8" fill="#c8232c"/>
<polygon points="356.9,407.5 354.8,402.9 359,402.9" fill="#c8232c"/>
<polygon points="356.9,392.5 357.9,394.52 360.13,394.85 358.52,396.43 358.9,398.65 356.9,397.6 354.9,398.65 355.28,396.43 353.67,394.85 355.9,394.52" fill="#1b7a3c"/>
<text x="351.5" y="395.9" font-size="6.3" text-anchor="middle" fill="#222" stroke="#222" stroke-width="0.17" transform="rotate(-90 351.5 395.9)">50bp</text>
<line x1="370.6" y1="387.2" x2="370.6" y2="413" stroke="#c8232c" stroke-width="0.8"/>
<polygon points="370.6,384.2 368.5,388.8 372.7,388.8" fill="#c8232c"/>
<polygon points="370.6,416 368.5,411.4 372.7,411.4" fill="#c8232c"/>
<polygon points="370.6,396.4 371.6,398.42 373.83,398.75 372.22,400.33 372.6,402.55 370.6,401.5 368.6,402.55 368.98,400.33 367.37,398.75 369.6,398.42" fill="#1b7a3c"/>
<text x="366.3" y="398.2" font-size="6.3" text-anchor="middle" fill="#222" stroke="#222" stroke-width="0.17" transform="rotate(-90 366.3 398.2)">100bp</text>
<line x1="385.4" y1="387.2" x2="385.4" y2="416.2" stroke="#c8232c" stroke-width="0.8"/>
<polygon points="385.4,384.2 383.3,388.8 387.5,388.8" fill="#c8232c"/>
<polygon points="385.4,419.2 383.3,414.6 387.5,414.6" fill="#c8232c"/>
<polygon points="385.4,398.7 386.4,400.72 388.63,401.05 387.02,402.63 387.4,404.85 385.4,403.8 383.4,404.85 383.78,402.63 382.17,401.05 384.4,400.72" fill="#1b7a3c"/>
<text x="381.2" y="397.8" font-size="6.3" text-anchor="middle" fill="#222" stroke="#222" stroke-width="0.17" transform="rotate(-90 381.2 397.8)">200bp</text>
<text x="404" y="327.4" font-size="6.9" fill="#222" stroke="#222" stroke-width="0.17" textLength="18.95" lengthAdjust="spacingAndGlyphs">TCF12</text>
<text x="425" y="329.4" font-size="6.9" fill="#222" stroke="#222" stroke-width="0.17" textLength="12.4" lengthAdjust="spacingAndGlyphs">TIL3</text>
<circle cx="417.7" cy="344.2" r="5.5" fill="#f39200"/>
<circle cx="415" cy="334.3" r="5.6" fill="#17a33a"/>
<circle cx="424.9" cy="337.3" r="5.7" fill="#c0232a"/>
<text x="407.8" y="347" font-size="6.9" fill="#222" stroke="#222" stroke-width="0.17" textLength="20.33" lengthAdjust="spacingAndGlyphs">FOXA1</text>
<line x1="402" y1="351.9" x2="411.5" y2="351.9" stroke="#777" stroke-width="0.8"/>
<line x1="429.2" y1="351.9" x2="446" y2="351.9" stroke="#777" stroke-width="0.8"/>
<polygon points="438.6,349.1 439.63,351.18 441.93,351.52 440.26,353.14 440.66,355.43 438.6,354.35 436.54,355.43 436.94,353.14 435.27,351.52 437.57,351.18" fill="#1b7a3c"/>
<text x="410" y="373.3" font-size="6.9" fill="#222" stroke="#222" stroke-width="0.17" textLength="18.95" lengthAdjust="spacingAndGlyphs">TCF12</text>
<text x="431" y="375.4" font-size="6.9" fill="#222" stroke="#222" stroke-width="0.17" textLength="12.4" lengthAdjust="spacingAndGlyphs">TIL3</text>
<circle cx="421.7" cy="390" r="5.5" fill="#f39200"/>
<circle cx="419" cy="380.1" r="5.6" fill="#17a33a"/>
<circle cx="428.9" cy="383.1" r="5.7" fill="#c0232a"/>
<text x="411.8" y="392.8" font-size="6.9" fill="#222" stroke="#222" stroke-width="0.17" textLength="20.33" lengthAdjust="spacingAndGlyphs">FOXA1</text>
<line x1="402" y1="398.5" x2="411.2" y2="398.5" stroke="#777" stroke-width="0.8"/>
<line x1="432.6" y1="398.5" x2="442.3" y2="398.5" stroke="#777" stroke-width="0.8"/>
<polygon points="420.2,398.1 421.23,400.18 423.53,400.52 421.86,402.14 422.26,404.43 420.2,403.35 418.14,404.43 418.54,402.14 416.87,400.52 419.17,400.18" fill="#1b7a3c"/>
<line x1="349.4" y1="525.1" x2="349.4" y2="461.8" stroke="#444" stroke-width="0.7"/>
<line x1="348" y1="524.8" x2="349.4" y2="524.8" stroke="#444" stroke-width="0.6"/>
<text x="347" y="524.8" font-size="5.8" text-anchor="middle" fill="#333" stroke="#333" stroke-width="0.17" transform="rotate(-90 347 524.8)">0</text>
<line x1="348" y1="503.8" x2="349.4" y2="503.8" stroke="#444" stroke-width="0.6"/>
<text x="347" y="503.8" font-size="5.8" text-anchor="middle" fill="#333" stroke="#333" stroke-width="0.17" transform="rotate(-90 347 503.8)">10</text>
<line x1="348" y1="482.8" x2="349.4" y2="482.8" stroke="#444" stroke-width="0.6"/>
<text x="347" y="482.8" font-size="5.8" text-anchor="middle" fill="#333" stroke="#333" stroke-width="0.17" transform="rotate(-90 347 482.8)">20</text>
<line x1="348" y1="461.8" x2="349.4" y2="461.8" stroke="#444" stroke-width="0.6"/>
<text x="347" y="461.8" font-size="5.8" text-anchor="middle" fill="#333" stroke="#333" stroke-width="0.17" transform="rotate(-90 347 461.8)">30</text>
<text x="339" y="492" text-anchor="middle" fill="#333" stroke="#333" stroke-width="0.17" textLength="80" lengthAdjust="spacingAndGlyphs" transform="rotate(-90 339 492)">% of enriched FOXA1 motif</text>
<rect x="352" y="510.31" width="10.5" height="15.59" fill="#c8c8c8"/>
<rect x="365" y="490.36" width="10.5" height="35.54" fill="#c8c8c8"/>
<rect x="377.7" y="460.12" width="10.5" height="65.78" fill="#c8c8c8"/>
<line x1="351.5" y1="510.31" x2="449" y2="510.31" stroke="#e06060" stroke-width="0.6" stroke-dasharray="1.2,1.2"/>
<text x="374" y="451.3" font-size="6.3" text-anchor="middle" fill="#222"><tspan font-style="italic">P</tspan> &lt; 1 x 10<tspan font-size="3.8" dy="-2.6">-30</tspan><tspan dy="2.6"> for all</tspan></text>
<path d="M391.4 461.7Q392.4 461.7 392.4 463.2L392.4 485.5Q392.4 487 393.8 487Q392.4 487 392.4 488.5L392.4 508.9Q392.4 510.4 391.4 510.4" fill="none" stroke="#111" stroke-width="1.05"/>
<path d="M391.4 510.4Q392.4 510.4 392.4 511.9L392.4 517.5Q392.4 519 393.8 519Q392.4 519 392.4 520.5L392.4 523.3Q392.4 524.8 391.4 524.8" fill="none" stroke="#111" stroke-width="1.05"/>
<line x1="356.9" y1="533.5" x2="356.9" y2="550.8" stroke="#c8232c" stroke-width="0.8"/>
<polygon points="356.9,530.5 354.8,535.1 359,535.1" fill="#c8232c"/>
<polygon points="356.9,553.8 354.8,549.2 359,549.2" fill="#c8232c"/>
<polygon points="356.9,538.8 357.9,540.82 360.13,541.15 358.52,542.73 358.9,544.95 356.9,543.9 354.9,544.95 355.28,542.73 353.67,541.15 355.9,540.82" fill="#1b7a3c"/>
<text x="351.5" y="542.2" font-size="6.3" text-anchor="middle" fill="#222" stroke="#222" stroke-width="0.17" transform="rotate(-90 351.5 542.2)">50bp</text>
<line x1="370.6" y1="533.5" x2="370.6" y2="559.3" stroke="#c8232c" stroke-width="0.8"/>
<polygon points="370.6,530.5 368.5,535.1 372.7,535.1" fill="#c8232c"/>
<polygon points="370.6,562.3 368.5,557.7 372.7,557.7" fill="#c8232c"/>
<polygon points="370.6,542.7 371.6,544.72 373.83,545.05 372.22,546.63 372.6,548.85 370.6,547.8 368.6,548.85 368.98,546.63 367.37,545.05 369.6,544.72" fill="#1b7a3c"/>
<text x="366.3" y="544.5" font-size="6.3" text-anchor="middle" fill="#222" stroke="#222" stroke-width="0.17" transform="rotate(-90 366.3 544.5)">100bp</text>
<line x1="385.4" y1="533.5" x2="385.4" y2="562.5" stroke="#c8232c" stroke-width="0.8"/>
<polygon points="385.4,530.5 383.3,535.1 387.5,535.1" fill="#c8232c"/>
<polygon points="385.4,565.5 383.3,560.9 387.5,560.9" fill="#c8232c"/>
<polygon points="385.4,545 386.4,547.02 388.63,547.35 387.02,548.93 387.4,551.15 385.4,550.1 383.4,551.15 383.78,548.93 382.17,547.35 384.4,547.02" fill="#1b7a3c"/>
<text x="381.2" y="544.1" font-size="6.3" text-anchor="middle" fill="#222" stroke="#222" stroke-width="0.17" transform="rotate(-90 381.2 544.1)">200bp</text>
<text x="404" y="474.3" font-size="6.9" fill="#222" stroke="#222" stroke-width="0.17" textLength="13.78" lengthAdjust="spacingAndGlyphs">SIN3</text>
<text x="425" y="476.3" font-size="6.9" fill="#222" stroke="#222" stroke-width="0.17" textLength="14.82" lengthAdjust="spacingAndGlyphs">TLE3</text>
<circle cx="417.7" cy="491.1" r="5.5" fill="#f39200"/>
<circle cx="415" cy="481.2" r="5.6" fill="#17a33a"/>
<circle cx="424.9" cy="484.2" r="5.7" fill="#c0232a"/>
<text x="407.8" y="493.9" font-size="6.9" fill="#222" stroke="#222" stroke-width="0.17" textLength="20.33" lengthAdjust="spacingAndGlyphs">FOXA1</text>
<line x1="402" y1="498.8" x2="411.5" y2="498.8" stroke="#777" stroke-width="0.8"/>
<line x1="429.2" y1="498.8" x2="446" y2="498.8" stroke="#777" stroke-width="0.8"/>
<polygon points="438.6,496 439.63,498.08 441.93,498.42 440.26,500.04 440.66,502.33 438.6,501.25 436.54,502.33 436.94,500.04 435.27,498.42 437.57,498.08" fill="#1b7a3c"/>
<text x="410" y="520.2" font-size="6.9" fill="#222" stroke="#222" stroke-width="0.17" textLength="13.78" lengthAdjust="spacingAndGlyphs">SIN3</text>
<text x="431" y="522.3" font-size="6.9" fill="#222" stroke="#222" stroke-width="0.17" textLength="14.82" lengthAdjust="spacingAndGlyphs">TLE3</text>
<circle cx="421.7" cy="536.9" r="5.5" fill="#f39200"/>
<circle cx="419" cy="527" r="5.6" fill="#17a33a"/>
<circle cx="428.9" cy="530" r="5.7" fill="#c0232a"/>
<text x="411.8" y="539.7" font-size="6.9" fill="#222" stroke="#222" stroke-width="0.17" textLength="20.33" lengthAdjust="spacingAndGlyphs">FOXA1</text>
<line x1="402" y1="545.4" x2="411.2" y2="545.4" stroke="#777" stroke-width="0.8"/>
<line x1="432.6" y1="545.4" x2="442.3" y2="545.4" stroke="#777" stroke-width="0.8"/>
<polygon points="420.2,545 421.23,547.08 423.53,547.42 421.86,549.04 422.26,551.33 420.2,550.25 418.14,551.33 418.54,549.04 416.87,547.42 419.17,547.08" fill="#1b7a3c"/>
<text x="404.5" y="29.1" fill="#222" stroke="#222" stroke-width="0.17" textLength="65.8" lengthAdjust="spacingAndGlyphs">Disruptive motif models</text>
<rect x="508.1" y="22.3" width="160.86" height="148.68" fill="#a0a0a0"/>
<rect x="508.65" y="22.85" width="6.56" height="5.98" fill="#d62f27"/>
<rect x="516.31" y="22.85" width="6.56" height="5.98" fill="#fed283"/>
<rect x="523.97" y="22.85" width="6.56" height="5.98" fill="#fff5c8"/>
<rect x="531.63" y="22.85" width="6.56" height="5.98" fill="#fee8a2"/>
<rect x="539.29" y="22.85" width="6.56" height="5.98" fill="#6e99cd"/>
<rect x="546.95" y="22.85" width="6.56" height="5.98" fill="#4f7cbf"/>
<rect x="554.61" y="22.85" width="6.56" height="5.98" fill="#e7f3f7"/>
<rect x="562.27" y="22.85" width="6.56" height="5.98" fill="#a7c8e4"/>
<rect x="569.93" y="22.85" width="6.56" height="5.98" fill="#8db3dc"/>
<rect x="577.59" y="22.85" width="6.56" height="5.98" fill="#99bde0"/>
<rect x="585.25" y="22.85" width="6.56" height="5.98" fill="#c6ddef"/>
<rect x="592.91" y="22.85" width="6.56" height="5.98" fill="#d3e6f3"/>
<rect x="600.57" y="22.85" width="6.56" height="5.98" fill="#fff0b3"/>
<rect x="608.23" y="22.85" width="6.56" height="5.98" fill="#f2f8e8"/>
<rect x="615.89" y="22.85" width="6.56" height="5.98" fill="#f2f8e8"/>
<rect x="623.55" y="22.85" width="6.56" height="5.98" fill="#d3e6f3"/>
<rect x="631.21" y="22.85" width="6.56" height="5.98" fill="#d3e6f3"/>
<rect x="638.87" y="22.85" width="6.56" height="5.98" fill="#e7f3f7"/>
<rect x="646.53" y="22.85" width="6.56" height="5.98" fill="#fee090"/>
<rect x="654.19" y="22.85" width="6.56" height="5.98" fill="#fff5c8"/>
<rect x="661.85" y="22.85" width="6.56" height="5.98" fill="#fff0b3"/>
<rect x="508.65" y="29.93" width="6.56" height="5.98" fill="#fed283"/>
<rect x="516.31" y="29.93" width="6.56" height="5.98" fill="#d62f27"/>
<rect x="523.97" y="29.93" width="6.56" height="5.98" fill="#edf6ef"/>
<rect x="531.63" y="29.93" width="6.56" height="5.98" fill="#f9f8da"/>
<rect x="539.29" y="29.93" width="6.56" height="5.98" fill="#a7c8e4"/>
<rect x="546.95" y="29.93" width="6.56" height="5.98" fill="#a7c8e4"/>
<rect x="554.61" y="29.93" width="6.56" height="5.98" fill="#a7c8e4"/>
<rect x="562.27" y="29.93" width="6.56" height="5.98" fill="#4f7cbf"/>
<rect x="569.93" y="29.93" width="6.56" height="5.98" fill="#d3e6f3"/>
<rect x="577.59" y="29.93" width="6.56" height="5.98" fill="#a7c8e4"/>
<rect x="585.25" y="29.93" width="6.56" height="5.98" fill="#d3e6f3"/>
<rect x="592.91" y="29.93" width="6.56" height="5.98" fill="#a7c8e4"/>
<rect x="600.57" y="29.93" width="6.56" height="5.98" fill="#fff5c8"/>
<rect x="608.23" y="29.93" width="6.56" height="5.98" fill="#edf6ef"/>
<rect x="615.89" y="29.93" width="6.56" height="5.98" fill="#dfeef7"/>
<rect x="623.55" y="29.93" width="6.56" height="5.98" fill="#c6ddef"/>
<rect x="631.21" y="29.93" width="6.56" height="5.98" fill="#99bde0"/>
<rect x="638.87" y="29.93" width="6.56" height="5.98" fill="#dfeef7"/>
<rect x="646.53" y="29.93" width="6.56" height="5.98" fill="#fed283"/>
<rect x="654.19" y="29.93" width="6.56" height="5.98" fill="#f9f8da"/>
<rect x="661.85" y="29.93" width="6.56" height="5.98" fill="#fee8a2"/>
<rect x="508.65" y="37.01" width="6.56" height="5.98" fill="#fff5c8"/>
<rect x="516.31" y="37.01" width="6.56" height="5.98" fill="#edf6ef"/>
<rect x="523.97" y="37.01" width="6.56" height="5.98" fill="#d62f27"/>
<rect x="531.63" y="37.01" width="6.56" height="5.98" fill="#fee8a2"/>
<rect x="539.29" y="37.01" width="6.56" height="5.98" fill="#a7c8e4"/>
<rect x="546.95" y="37.01" width="6.56" height="5.98" fill="#a7c8e4"/>
<rect x="554.61" y="37.01" width="6.56" height="5.98" fill="#f9f8da"/>
<rect x="562.27" y="37.01" width="6.56" height="5.98" fill="#dfeef7"/>
<rect x="569.93" y="37.01" width="6.56" height="5.98" fill="#6e99cd"/>
<rect x="577.59" y="37.01" width="6.56" height="5.98" fill="#7aa3d4"/>
<rect x="585.25" y="37.01" width="6.56" height="5.98" fill="#8db3dc"/>
<rect x="592.91" y="37.01" width="6.56" height="5.98" fill="#a7c8e4"/>
<rect x="600.57" y="37.01" width="6.56" height="5.98" fill="#dfeef7"/>
<rect x="608.23" y="37.01" width="6.56" height="5.98" fill="#7aa3d4"/>
<rect x="615.89" y="37.01" width="6.56" height="5.98" fill="#f9f8da"/>
<rect x="623.55" y="37.01" width="6.56" height="5.98" fill="#d3e6f3"/>
<rect x="631.21" y="37.01" width="6.56" height="5.98" fill="#edf6ef"/>
<rect x="638.87" y="37.01" width="6.56" height="5.98" fill="#edf6ef"/>
<rect x="646.53" y="37.01" width="6.56" height="5.98" fill="#fff5c8"/>
<rect x="654.19" y="37.01" width="6.56" height="5.98" fill="#c6ddef"/>
<rect x="661.85" y="37.01" width="6.56" height="5.98" fill="#a7c8e4"/>
<rect x="508.65" y="44.09" width="6.56" height="5.98" fill="#fee8a2"/>
<rect x="516.31" y="44.09" width="6.56" height="5.98" fill="#f9f8da"/>
<rect x="523.97" y="44.09" width="6.56" height="5.98" fill="#fee8a2"/>
<rect x="531.63" y="44.09" width="6.56" height="5.98" fill="#d62f27"/>
<rect x="539.29" y="44.09" width="6.56" height="5.98" fill="#dfeef7"/>
<rect x="546.95" y="44.09" width="6.56" height="5.98" fill="#a7c8e4"/>
<rect x="554.61" y="44.09" width="6.56" height="5.98" fill="#c6ddef"/>
<rect x="562.27" y="44.09" width="6.56" height="5.98" fill="#a7c8e4"/>
<rect x="569.93" y="44.09" width="6.56" height="5.98" fill="#7aa3d4"/>
<rect x="577.59" y="44.09" width="6.56" height="5.98" fill="#4f7cbf"/>
<rect x="585.25" y="44.09" width="6.56" height="5.98" fill="#4f7cbf"/>
<rect x="592.91" y="44.09" width="6.56" height="5.98" fill="#5d89c5"/>
<rect x="600.57" y="44.09" width="6.56" height="5.98" fill="#b7d3eb"/>
<rect x="608.23" y="44.09" width="6.56" height="5.98" fill="#6e99cd"/>
<rect x="615.89" y="44.09" width="6.56" height="5.98" fill="#99bde0"/>
<rect x="623.55" y="44.09" width="6.56" height="5.98" fill="#7aa3d4"/>
<rect x="631.21" y="44.09" width="6.56" height="5.98" fill="#dfeef7"/>
<rect x="638.87" y="44.09" width="6.56" height="5.98" fill="#d3e6f3"/>
<rect x="646.53" y="44.09" width="6.56" height="5.98" fill="#e7f3f7"/>
<rect x="654.19" y="44.09" width="6.56" height="5.98" fill="#dfeef7"/>
<rect x="661.85" y="44.09" width="6.56" height="5.98" fill="#c6ddef"/>
<rect x="508.65" y="51.17" width="6.56" height="5.98" fill="#6e99cd"/>
<rect x="516.31" y="51.17" width="6.56" height="5.98" fill="#a7c8e4"/>
<rect x="523.97" y="51.17" width="6.56" height="5.98" fill="#a7c8e4"/>
<rect x="531.63" y="51.17" width="6.56" height="5.98" fill="#dfeef7"/>
<rect x="539.29" y="51.17" width="6.56" height="5.98" fill="#d62f27"/>
<rect x="546.95" y="51.17" width="6.56" height="5.98" fill="#fed283"/>
<rect x="554.61" y="51.17" width="6.56" height="5.98" fill="#f2f8e8"/>
<rect x="562.27" y="51.17" width="6.56" height="5.98" fill="#fff5c8"/>
<rect x="569.93" y="51.17" width="6.56" height="5.98" fill="#fff0b3"/>
<rect x="577.59" y="51.17" width="6.56" height="5.98" fill="#fff0b3"/>
<rect x="585.25" y="51.17" width="6.56" height="5.98" fill="#f9f8da"/>
<rect x="592.91" y="51.17" width="6.56" height="5.98" fill="#fff5c8"/>
<rect x="600.57" y="51.17" width="6.56" height="5.98" fill="#b7d3eb"/>
<rect x="608.23" y="51.17" width="6.56" height="5.98" fill="#d3e6f3"/>
<rect x="615.89" y="51.17" width="6.56" height="5.98" fill="#c6ddef"/>
<rect x="623.55" y="51.17" width="6.56" height="5.98" fill="#edf6ef"/>
<rect x="631.21" y="51.17" width="6.56" height="5.98" fill="#f9f8da"/>
<rect x="638.87" y="51.17" width="6.56" height="5.98" fill="#fff5c8"/>
<rect x="646.53" y="51.17" width="6.56" height="5.98" fill="#b7d3eb"/>
<rect x="654.19" y="51.17" width="6.56" height="5.98" fill="#edf6ef"/>
<rect x="661.85" y="51.17" width="6.56" height="5.98" fill="#c6ddef"/>
<rect x="508.65" y="58.25" width="6.56" height="5.98" fill="#4f7cbf"/>
<rect x="516.31" y="58.25" width="6.56" height="5.98" fill="#a7c8e4"/>
<rect x="523.97" y="58.25" width="6.56" height="5.98" fill="#a7c8e4"/>
<rect x="531.63" y="58.25" width="6.56" height="5.98" fill="#a7c8e4"/>
<rect x="539.29" y="58.25" width="6.56" height="5.98" fill="#fed283"/>
<rect x="546.95" y="58.25" width="6.56" height="5.98" fill="#d62f27"/>
<rect x="554.61" y="58.25" width="6.56" height="5.98" fill="#edf6ef"/>
<rect x="562.27" y="58.25" width="6.56" height="5.98" fill="#f9f8da"/>
<rect x="569.93" y="58.25" width="6.56" height="5.98" fill="#fdbf6f"/>
<rect x="577.59" y="58.25" width="6.56" height="5.98" fill="#fee8a2"/>
<rect x="585.25" y="58.25" width="6.56" height="5.98" fill="#fff0b3"/>
<rect x="592.91" y="58.25" width="6.56" height="5.98" fill="#fff5c8"/>
<rect x="600.57" y="58.25" width="6.56" height="5.98" fill="#c6ddef"/>
<rect x="608.23" y="58.25" width="6.56" height="5.98" fill="#e7f3f7"/>
<rect x="615.89" y="58.25" width="6.56" height="5.98" fill="#edf6ef"/>
<rect x="623.55" y="58.25" width="6.56" height="5.98" fill="#f9f8da"/>
<rect x="631.21" y="58.25" width="6.56" height="5.98" fill="#f2f8e8"/>
<rect x="638.87" y="58.25" width="6.56" height="5.98" fill="#f2f8e8"/>
<rect x="646.53" y="58.25" width="6.56" height="5.98" fill="#c6ddef"/>
<rect x="654.19" y="58.25" width="6.56" height="5.98" fill="#edf6ef"/>
<rect x="661.85" y="58.25" width="6.56" height="5.98" fill="#f9f8da"/>
<rect x="508.65" y="65.33" width="6.56" height="5.98" fill="#e7f3f7"/>
<rect x="516.31" y="65.33" width="6.56" height="5.98" fill="#a7c8e4"/>
<rect x="523.97" y="65.33" width="6.56" height="5.98" fill="#f9f8da"/>
<rect x="531.63" y="65.33" width="6.56" height="5.98" fill="#c6ddef"/>
<rect x="539.29" y="65.33" width="6.56" height="5.98" fill="#f2f8e8"/>
<rect x="546.95" y="65.33" width="6.56" height="5.98" fill="#edf6ef"/>
<rect x="554.61" y="65.33" width="6.56" height="5.98" fill="#d62f27"/>
<rect x="562.27" y="65.33" width="6.56" height="5.98" fill="#fff0b3"/>
<rect x="569.93" y="65.33" width="6.56" height="5.98" fill="#dfeef7"/>
<rect x="577.59" y="65.33" width="6.56" height="5.98" fill="#fff5c8"/>
<rect x="585.25" y="65.33" width="6.56" height="5.98" fill="#fee090"/>
<rect x="592.91" y="65.33" width="6.56" height="5.98" fill="#fed283"/>
<rect x="600.57" y="65.33" width="6.56" height="5.98" fill="#fff5c8"/>
<rect x="608.23" y="65.33" width="6.56" height="5.98" fill="#fff5c8"/>
<rect x="615.89" y="65.33" width="6.56" height="5.98" fill="#fee8a2"/>
<rect x="623.55" y="65.33" width="6.56" height="5.98" fill="#fee8a2"/>
<rect x="631.21" y="65.33" width="6.56" height="5.98" fill="#f9f8da"/>
<rect x="638.87" y="65.33" width="6.56" height="5.98" fill="#fee8a2"/>
<rect x="646.53" y="65.33" width="6.56" height="5.98" fill="#f2f8e8"/>
<rect x="654.19" y="65.33" width="6.56" height="5.98" fill="#fff0b3"/>
<rect x="661.85" y="65.33" width="6.56" height="5.98" fill="#f9f8da"/>
<rect x="508.65" y="72.41" width="6.56" height="5.98" fill="#b7d3eb"/>
<rect x="516.31" y="72.41" width="6.56" height="5.98" fill="#4f7cbf"/>
<rect x="523.97" y="72.41" width="6.56" height="5.98" fill="#e7f3f7"/>
<rect x="531.63" y="72.41" width="6.56" height="5.98" fill="#a7c8e4"/>
<rect x="539.29" y="72.41" width="6.56" height="5.98" fill="#fff5c8"/>
<rect x="546.95" y="72.41" width="6.56" height="5.98" fill="#f9f8da"/>
<rect x="554.61" y="72.41" width="6.56" height="5.98" fill="#fee8a2"/>
<rect x="562.27" y="72.41" width="6.56" height="5.98" fill="#d62f27"/>
<rect x="569.93" y="72.41" width="6.56" height="5.98" fill="#d3e6f3"/>
<rect x="577.59" y="72.41" width="6.56" height="5.98" fill="#f2f8e8"/>
<rect x="585.25" y="72.41" width="6.56" height="5.98" fill="#f9f8da"/>
<rect x="592.91" y="72.41" width="6.56" height="5.98" fill="#fff0b3"/>
<rect x="600.57" y="72.41" width="6.56" height="5.98" fill="#c6ddef"/>
<rect x="608.23" y="72.41" width="6.56" height="5.98" fill="#edf6ef"/>
<rect x="615.89" y="72.41" width="6.56" height="5.98" fill="#e7f3f7"/>
<rect x="623.55" y="72.41" width="6.56" height="5.98" fill="#f2f8e8"/>
<rect x="631.21" y="72.41" width="6.56" height="5.98" fill="#edf6ef"/>
<rect x="638.87" y="72.41" width="6.56" height="5.98" fill="#e7f3f7"/>
<rect x="646.53" y="72.41" width="6.56" height="5.98" fill="#a7c8e4"/>
<rect x="654.19" y="72.41" width="6.56" height="5.98" fill="#99bde0"/>
<rect x="661.85" y="72.41" width="6.56" height="5.98" fill="#a7c8e4"/>
<rect x="508.65" y="79.49" width="6.56" height="5.98" fill="#8db3dc"/>
<rect x="516.31" y="79.49" width="6.56" height="5.98" fill="#d3e6f3"/>
<rect x="523.97" y="79.49" width="6.56" height="5.98" fill="#6e99cd"/>
<rect x="531.63" y="79.49" width="6.56" height="5.98" fill="#7aa3d4"/>
<rect x="539.29" y="79.49" width="6.56" height="5.98" fill="#fff0b3"/>
<rect x="546.95" y="79.49" width="6.56" height="5.98" fill="#fdbf6f"/>
<rect x="554.61" y="79.49" width="6.56" height="5.98" fill="#dfeef7"/>
<rect x="562.27" y="79.49" width="6.56" height="5.98" fill="#d3e6f3"/>
<rect x="569.93" y="79.49" width="6.56" height="5.98" fill="#d62f27"/>
<rect x="577.59" y="79.49" width="6.56" height="5.98" fill="#fca55d"/>
<rect x="585.25" y="79.49" width="6.56" height="5.98" fill="#fee090"/>
<rect x="592.91" y="79.49" width="6.56" height="5.98" fill="#fee090"/>
<rect x="600.57" y="79.49" width="6.56" height="5.98" fill="#fee8a2"/>
<rect x="608.23" y="79.49" width="6.56" height="5.98" fill="#fee8a2"/>
<rect x="615.89" y="79.49" width="6.56" height="5.98" fill="#f2f8e8"/>
<rect x="623.55" y="79.49" width="6.56" height="5.98" fill="#fee8a2"/>
<rect x="631.21" y="79.49" width="6.56" height="5.98" fill="#fff0b3"/>
<rect x="638.87" y="79.49" width="6.56" height="5.98" fill="#fff5c8"/>
<rect x="646.53" y="79.49" width="6.56" height="5.98" fill="#edf6ef"/>
<rect x="654.19" y="79.49" width="6.56" height="5.98" fill="#fee8a2"/>
<rect x="661.85" y="79.49" width="6.56" height="5.98" fill="#fee090"/>
<rect x="508.65" y="86.57" width="6.56" height="5.98" fill="#99bde0"/>
<rect x="516.31" y="86.57" width="6.56" height="5.98" fill="#a7c8e4"/>
<rect x="523.97" y="86.57" width="6.56" height="5.98" fill="#7aa3d4"/>
<rect x="531.63" y="86.57" width="6.56" height="5.98" fill="#4f7cbf"/>
<rect x="539.29" y="86.57" width="6.56" height="5.98" fill="#fff0b3"/>
<rect x="546.95" y="86.57" width="6.56" height="5.98" fill="#fee090"/>
<rect x="554.61" y="86.57" width="6.56" height="5.98" fill="#fff5c8"/>
<rect x="562.27" y="86.57" width="6.56" height="5.98" fill="#f2f8e8"/>
<rect x="569.93" y="86.57" width="6.56" height="5.98" fill="#fca55d"/>
<rect x="577.59" y="86.57" width="6.56" height="5.98" fill="#d62f27"/>
<rect x="585.25" y="86.57" width="6.56" height="5.98" fill="#fca55d"/>
<rect x="592.91" y="86.57" width="6.56" height="5.98" fill="#fb8c58"/>
<rect x="600.57" y="86.57" width="6.56" height="5.98" fill="#fed283"/>
<rect x="608.23" y="86.57" width="6.56" height="5.98" fill="#fdbf6f"/>
<rect x="615.89" y="86.57" width="6.56" height="5.98" fill="#fed283"/>
<rect x="623.55" y="86.57" width="6.56" height="5.98" fill="#fdbf6f"/>
<rect x="631.21" y="86.57" width="6.56" height="5.98" fill="#fee090"/>
<rect x="638.87" y="86.57" width="6.56" height="5.98" fill="#fdbf6f"/>
<rect x="646.53" y="86.57" width="6.56" height="5.98" fill="#edf6ef"/>
<rect x="654.19" y="86.57" width="6.56" height="5.98" fill="#fed283"/>
<rect x="661.85" y="86.57" width="6.56" height="5.98" fill="#fee090"/>
<rect x="508.65" y="93.65" width="6.56" height="5.98" fill="#c6ddef"/>
<rect x="516.31" y="93.65" width="6.56" height="5.98" fill="#d3e6f3"/>
<rect x="523.97" y="93.65" width="6.56" height="5.98" fill="#99bde0"/>
<rect x="531.63" y="93.65" width="6.56" height="5.98" fill="#4f7cbf"/>
<rect x="539.29" y="93.65" width="6.56" height="5.98" fill="#f2f8e8"/>
<rect x="546.95" y="93.65" width="6.56" height="5.98" fill="#fff0b3"/>
<rect x="554.61" y="93.65" width="6.56" height="5.98" fill="#fee090"/>
<rect x="562.27" y="93.65" width="6.56" height="5.98" fill="#f9f8da"/>
<rect x="569.93" y="93.65" width="6.56" height="5.98" fill="#fee8a2"/>
<rect x="577.59" y="93.65" width="6.56" height="5.98" fill="#fb8c58"/>
<rect x="585.25" y="93.65" width="6.56" height="5.98" fill="#d62f27"/>
<rect x="592.91" y="93.65" width="6.56" height="5.98" fill="#fb8c58"/>
<rect x="600.57" y="93.65" width="6.56" height="5.98" fill="#fee090"/>
<rect x="608.23" y="93.65" width="6.56" height="5.98" fill="#fed283"/>
<rect x="615.89" y="93.65" width="6.56" height="5.98" fill="#fff0b3"/>
<rect x="623.55" y="93.65" width="6.56" height="5.98" fill="#fee8a2"/>
<rect x="631.21" y="93.65" width="6.56" height="5.98" fill="#fff0b3"/>
<rect x="638.87" y="93.65" width="6.56" height="5.98" fill="#fee090"/>
<rect x="646.53" y="93.65" width="6.56" height="5.98" fill="#fff5c8"/>
<rect x="654.19" y="93.65" width="6.56" height="5.98" fill="#fee090"/>
<rect x="661.85" y="93.65" width="6.56" height="5.98" fill="#fed283"/>
<rect x="508.65" y="100.73" width="6.56" height="5.98" fill="#d3e6f3"/>
<rect x="516.31" y="100.73" width="6.56" height="5.98" fill="#a7c8e4"/>
<rect x="523.97" y="100.73" width="6.56" height="5.98" fill="#a7c8e4"/>
<rect x="531.63" y="100.73" width="6.56" height="5.98" fill="#4f7cbf"/>
<rect x="539.29" y="100.73" width="6.56" height="5.98" fill="#fff5c8"/>
<rect x="546.95" y="100.73" width="6.56" height="5.98" fill="#fff5c8"/>
<rect x="554.61" y="100.73" width="6.56" height="5.98" fill="#fdbf6f"/>
<rect x="562.27" y="100.73" width="6.56" height="5.98" fill="#fee8a2"/>
<rect x="569.93" y="100.73" width="6.56" height="5.98" fill="#fee090"/>
<rect x="577.59" y="100.73" width="6.56" height="5.98" fill="#fb8c58"/>
<rect x="585.25" y="100.73" width="6.56" height="5.98" fill="#fb8c58"/>
<rect x="592.91" y="100.73" width="6.56" height="5.98" fill="#d62f27"/>
<rect x="600.57" y="100.73" width="6.56" height="5.98" fill="#fee8a2"/>
<rect x="608.23" y="100.73" width="6.56" height="5.98" fill="#fee090"/>
<rect x="615.89" y="100.73" width="6.56" height="5.98" fill="#fed283"/>
<rect x="623.55" y="100.73" width="6.56" height="5.98" fill="#fee090"/>
<rect x="631.21" y="100.73" width="6.56" height="5.98" fill="#fee8a2"/>
<rect x="638.87" y="100.73" width="6.56" height="5.98" fill="#fdbf6f"/>
<rect x="646.53" y="100.73" width="6.56" height="5.98" fill="#fff5c8"/>
<rect x="654.19" y="100.73" width="6.56" height="5.98" fill="#fee090"/>
<rect x="661.85" y="100.73" width="6.56" height="5.98" fill="#fee8a2"/>
<rect x="508.65" y="107.81" width="6.56" height="5.98" fill="#fee8a2"/>
<rect x="516.31" y="107.81" width="6.56" height="5.98" fill="#f9f8da"/>
<rect x="523.97" y="107.81" width="6.56" height="5.98" fill="#dfeef7"/>
<rect x="531.63" y="107.81" width="6.56" height="5.98" fill="#b7d3eb"/>
<rect x="539.29" y="107.81" width="6.56" height="5.98" fill="#b7d3eb"/>
<rect x="546.95" y="107.81" width="6.56" height="5.98" fill="#d3e6f3"/>
<rect x="554.61" y="107.81" width="6.56" height="5.98" fill="#fff5c8"/>
<rect x="562.27" y="107.81" width="6.56" height="5.98" fill="#d3e6f3"/>
<rect x="569.93" y="107.81" width="6.56" height="5.98" fill="#fee8a2"/>
<rect x="577.59" y="107.81" width="6.56" height="5.98" fill="#fed283"/>
<rect x="585.25" y="107.81" width="6.56" height="5.98" fill="#fee090"/>
<rect x="592.91" y="107.81" width="6.56" height="5.98" fill="#fee8a2"/>
<rect x="600.57" y="107.81" width="6.56" height="5.98" fill="#d62f27"/>
<rect x="608.23" y="107.81" width="6.56" height="5.98" fill="#fca55d"/>
<rect x="615.89" y="107.81" width="6.56" height="5.98" fill="#fed283"/>
<rect x="623.55" y="107.81" width="6.56" height="5.98" fill="#fed283"/>
<rect x="631.21" y="107.81" width="6.56" height="5.98" fill="#fed283"/>
<rect x="638.87" y="107.81" width="6.56" height="5.98" fill="#fee090"/>
<rect x="646.53" y="107.81" width="6.56" height="5.98" fill="#fed283"/>
<rect x="654.19" y="107.81" width="6.56" height="5.98" fill="#fdbf6f"/>
<rect x="661.85" y="107.81" width="6.56" height="5.98" fill="#fee090"/>
<rect x="508.65" y="114.89" width="6.56" height="5.98" fill="#f2f8e8"/>
<rect x="516.31" y="114.89" width="6.56" height="5.98" fill="#e7f3f7"/>
<rect x="523.97" y="114.89" width="6.56" height="5.98" fill="#7aa3d4"/>
<rect x="531.63" y="114.89" width="6.56" height="5.98" fill="#6e99cd"/>
<rect x="539.29" y="114.89" width="6.56" height="5.98" fill="#d3e6f3"/>
<rect x="546.95" y="114.89" width="6.56" height="5.98" fill="#e7f3f7"/>
<rect x="554.61" y="114.89" width="6.56" height="5.98" fill="#fff5c8"/>
<rect x="562.27" y="114.89" width="6.56" height="5.98" fill="#edf6ef"/>
<rect x="569.93" y="114.89" width="6.56" height="5.98" fill="#fee8a2"/>
<rect x="577.59" y="114.89" width="6.56" height="5.98" fill="#fdbf6f"/>
<rect x="585.25" y="114.89" width="6.56" height="5.98" fill="#fed283"/>
<rect x="592.91" y="114.89" width="6.56" height="5.98" fill="#fee090"/>
<rect x="600.57" y="114.89" width="6.56" height="5.98" fill="#fca55d"/>
<rect x="608.23" y="114.89" width="6.56" height="5.98" fill="#d62f27"/>
<rect x="615.89" y="114.89" width="6.56" height="5.98" fill="#fee090"/>
<rect x="623.55" y="114.89" width="6.56" height="5.98" fill="#fed283"/>
<rect x="631.21" y="114.89" width="6.56" height="5.98" fill="#fee8a2"/>
<rect x="638.87" y="114.89" width="6.56" height="5.98" fill="#fee090"/>
<rect x="646.53" y="114.89" width="6.56" height="5.98" fill="#fff5c8"/>
<rect x="654.19" y="114.89" width="6.56" height="5.98" fill="#fee090"/>
<rect x="661.85" y="114.89" width="6.56" height="5.98" fill="#fee8a2"/>
<rect x="508.65" y="121.97" width="6.56" height="5.98" fill="#f2f8e8"/>
<rect x="516.31" y="121.97" width="6.56" height="5.98" fill="#dfeef7"/>
<rect x="523.97" y="121.97" width="6.56" height="5.98" fill="#f9f8da"/>
<rect x="531.63" y="121.97" width="6.56" height="5.98" fill="#99bde0"/>
<rect x="539.29" y="121.97" width="6.56" height="5.98" fill="#c6ddef"/>
<rect x="546.95" y="121.97" width="6.56" height="5.98" fill="#e7f3f7"/>
<rect x="554.61" y="121.97" width="6.56" height="5.98" fill="#fee8a2"/>
<rect x="562.27" y="121.97" width="6.56" height="5.98" fill="#e7f3f7"/>
<rect x="569.93" y="121.97" width="6.56" height="5.98" fill="#f2f8e8"/>
<rect x="577.59" y="121.97" width="6.56" height="5.98" fill="#fed283"/>
<rect x="585.25" y="121.97" width="6.56" height="5.98" fill="#fff0b3"/>
<rect x="592.91" y="121.97" width="6.56" height="5.98" fill="#fed283"/>
<rect x="600.57" y="121.97" width="6.56" height="5.98" fill="#fed283"/>
<rect x="608.23" y="121.97" width="6.56" height="5.98" fill="#fee090"/>
<rect x="615.89" y="121.97" width="6.56" height="5.98" fill="#d62f27"/>
<rect x="623.55" y="121.97" width="6.56" height="5.98" fill="#f46d43"/>
<rect x="631.21" y="121.97" width="6.56" height="5.98" fill="#fee090"/>
<rect x="638.87" y="121.97" width="6.56" height="5.98" fill="#fdbf6f"/>
<rect x="646.53" y="121.97" width="6.56" height="5.98" fill="#fee8a2"/>
<rect x="654.19" y="121.97" width="6.56" height="5.98" fill="#fee090"/>
<rect x="661.85" y="121.97" width="6.56" height="5.98" fill="#fff0b3"/>
<rect x="508.65" y="129.05" width="6.56" height="5.98" fill="#dfeef7"/>
<rect x="516.31" y="129.05" width="6.56" height="5.98" fill="#c6ddef"/>
<rect x="523.97" y="129.05" width="6.56" height="5.98" fill="#dfeef7"/>
<rect x="531.63" y="129.05" width="6.56" height="5.98" fill="#7aa3d4"/>
<rect x="539.29" y="129.05" width="6.56" height="5.98" fill="#f2f8e8"/>
<rect x="546.95" y="129.05" width="6.56" height="5.98" fill="#f9f8da"/>
<rect x="554.61" y="129.05" width="6.56" height="5.98" fill="#fee8a2"/>
<rect x="562.27" y="129.05" width="6.56" height="5.98" fill="#f9f8da"/>
<rect x="569.93" y="129.05" width="6.56" height="5.98" fill="#fee8a2"/>
<rect x="577.59" y="129.05" width="6.56" height="5.98" fill="#fdbf6f"/>
<rect x="585.25" y="129.05" width="6.56" height="5.98" fill="#fee090"/>
<rect x="592.91" y="129.05" width="6.56" height="5.98" fill="#fee090"/>
<rect x="600.57" y="129.05" width="6.56" height="5.98" fill="#fed283"/>
<rect x="608.23" y="129.05" width="6.56" height="5.98" fill="#fed283"/>
<rect x="615.89" y="129.05" width="6.56" height="5.98" fill="#f46d43"/>
<rect x="623.55" y="129.05" width="6.56" height="5.98" fill="#d62f27"/>
<rect x="631.21" y="129.05" width="6.56" height="5.98" fill="#fff0b3"/>
<rect x="638.87" y="129.05" width="6.56" height="5.98" fill="#fee090"/>
<rect x="646.53" y="129.05" width="6.56" height="5.98" fill="#fff5c8"/>
<rect x="654.19" y="129.05" width="6.56" height="5.98" fill="#fff0b3"/>
<rect x="661.85" y="129.05" width="6.56" height="5.98" fill="#fee8a2"/>
<rect x="508.65" y="136.13" width="6.56" height="5.98" fill="#d3e6f3"/>
<rect x="516.31" y="136.13" width="6.56" height="5.98" fill="#99bde0"/>
<rect x="523.97" y="136.13" width="6.56" height="5.98" fill="#edf6ef"/>
<rect x="531.63" y="136.13" width="6.56" height="5.98" fill="#dfeef7"/>
<rect x="539.29" y="136.13" width="6.56" height="5.98" fill="#f9f8da"/>
<rect x="546.95" y="136.13" width="6.56" height="5.98" fill="#f2f8e8"/>
<rect x="554.61" y="136.13" width="6.56" height="5.98" fill="#f9f8da"/>
<rect x="562.27" y="136.13" width="6.56" height="5.98" fill="#edf6ef"/>
<rect x="569.93" y="136.13" width="6.56" height="5.98" fill="#fff0b3"/>
<rect x="577.59" y="136.13" width="6.56" height="5.98" fill="#fee090"/>
<rect x="585.25" y="136.13" width="6.56" height="5.98" fill="#fff0b3"/>
<rect x="592.91" y="136.13" width="6.56" height="5.98" fill="#fee090"/>
<rect x="600.57" y="136.13" width="6.56" height="5.98" fill="#fed283"/>
<rect x="608.23" y="136.13" width="6.56" height="5.98" fill="#fee8a2"/>
<rect x="615.89" y="136.13" width="6.56" height="5.98" fill="#fee090"/>
<rect x="623.55" y="136.13" width="6.56" height="5.98" fill="#fff0b3"/>
<rect x="631.21" y="136.13" width="6.56" height="5.98" fill="#d62f27"/>
<rect x="638.87" y="136.13" width="6.56" height="5.98" fill="#fee090"/>
<rect x="646.53" y="136.13" width="6.56" height="5.98" fill="#fff5c8"/>
<rect x="654.19" y="136.13" width="6.56" height="5.98" fill="#fee090"/>
<rect x="661.85" y="136.13" width="6.56" height="5.98" fill="#fff5c8"/>
<rect x="508.65" y="143.21" width="6.56" height="5.98" fill="#e7f3f7"/>
<rect x="516.31" y="143.21" width="6.56" height="5.98" fill="#dfeef7"/>
<rect x="523.97" y="143.21" width="6.56" height="5.98" fill="#edf6ef"/>
<rect x="531.63" y="143.21" width="6.56" height="5.98" fill="#d3e6f3"/>
<rect x="539.29" y="143.21" width="6.56" height="5.98" fill="#fff5c8"/>
<rect x="546.95" y="143.21" width="6.56" height="5.98" fill="#f2f8e8"/>
<rect x="554.61" y="143.21" width="6.56" height="5.98" fill="#fee090"/>
<rect x="562.27" y="143.21" width="6.56" height="5.98" fill="#e7f3f7"/>
<rect x="569.93" y="143.21" width="6.56" height="5.98" fill="#fff5c8"/>
<rect x="577.59" y="143.21" width="6.56" height="5.98" fill="#fdbf6f"/>
<rect x="585.25" y="143.21" width="6.56" height="5.98" fill="#fee090"/>
<rect x="592.91" y="143.21" width="6.56" height="5.98" fill="#fdbf6f"/>
<rect x="600.57" y="143.21" width="6.56" height="5.98" fill="#fee090"/>
<rect x="608.23" y="143.21" width="6.56" height="5.98" fill="#fee090"/>
<rect x="615.89" y="143.21" width="6.56" height="5.98" fill="#fdbf6f"/>
<rect x="623.55" y="143.21" width="6.56" height="5.98" fill="#fee090"/>
<rect x="631.21" y="143.21" width="6.56" height="5.98" fill="#fee090"/>
<rect x="638.87" y="143.21" width="6.56" height="5.98" fill="#d62f27"/>
<rect x="646.53" y="143.21" width="6.56" height="5.98" fill="#fee8a2"/>
<rect x="654.19" y="143.21" width="6.56" height="5.98" fill="#fdbf6f"/>
<rect x="661.85" y="143.21" width="6.56" height="5.98" fill="#fee8a2"/>
<rect x="508.65" y="150.29" width="6.56" height="5.98" fill="#fee090"/>
<rect x="516.31" y="150.29" width="6.56" height="5.98" fill="#fed283"/>
<rect x="523.97" y="150.29" width="6.56" height="5.98" fill="#fff5c8"/>
<rect x="531.63" y="150.29" width="6.56" height="5.98" fill="#e7f3f7"/>
<rect x="539.29" y="150.29" width="6.56" height="5.98" fill="#b7d3eb"/>
<rect x="546.95" y="150.29" width="6.56" height="5.98" fill="#c6ddef"/>
<rect x="554.61" y="150.29" width="6.56" height="5.98" fill="#f2f8e8"/>
<rect x="562.27" y="150.29" width="6.56" height="5.98" fill="#b7d3eb"/>
<rect x="569.93" y="150.29" width="6.56" height="5.98" fill="#edf6ef"/>
<rect x="577.59" y="150.29" width="6.56" height="5.98" fill="#edf6ef"/>
<rect x="585.25" y="150.29" width="6.56" height="5.98" fill="#fff5c8"/>
<rect x="592.91" y="150.29" width="6.56" height="5.98" fill="#fff5c8"/>
<rect x="600.57" y="150.29" width="6.56" height="5.98" fill="#fed283"/>
<rect x="608.23" y="150.29" width="6.56" height="5.98" fill="#fff5c8"/>
<rect x="615.89" y="150.29" width="6.56" height="5.98" fill="#fee8a2"/>
<rect x="623.55" y="150.29" width="6.56" height="5.98" fill="#fff5c8"/>
<rect x="631.21" y="150.29" width="6.56" height="5.98" fill="#fff5c8"/>
<rect x="638.87" y="150.29" width="6.56" height="5.98" fill="#fee090"/>
<rect x="646.53" y="150.29" width="6.56" height="5.98" fill="#d62f27"/>
<rect x="654.19" y="150.29" width="6.56" height="5.98" fill="#fee8a2"/>
<rect x="661.85" y="150.29" width="6.56" height="5.98" fill="#fee090"/>
<rect x="508.65" y="157.37" width="6.56" height="5.98" fill="#fff5c8"/>
<rect x="516.31" y="157.37" width="6.56" height="5.98" fill="#f9f8da"/>
<rect x="523.97" y="157.37" width="6.56" height="5.98" fill="#c6ddef"/>
<rect x="531.63" y="157.37" width="6.56" height="5.98" fill="#e7f3f7"/>
<rect x="539.29" y="157.37" width="6.56" height="5.98" fill="#edf6ef"/>
<rect x="546.95" y="157.37" width="6.56" height="5.98" fill="#e7f3f7"/>
<rect x="554.61" y="157.37" width="6.56" height="5.98" fill="#fff5c8"/>
<rect x="562.27" y="157.37" width="6.56" height="5.98" fill="#a7c8e4"/>
<rect x="569.93" y="157.37" width="6.56" height="5.98" fill="#fee8a2"/>
<rect x="577.59" y="157.37" width="6.56" height="5.98" fill="#fed283"/>
<rect x="585.25" y="157.37" width="6.56" height="5.98" fill="#fee090"/>
<rect x="592.91" y="157.37" width="6.56" height="5.98" fill="#fee090"/>
<rect x="600.57" y="157.37" width="6.56" height="5.98" fill="#fdbf6f"/>
<rect x="608.23" y="157.37" width="6.56" height="5.98" fill="#fee090"/>
<rect x="615.89" y="157.37" width="6.56" height="5.98" fill="#fee8a2"/>
<rect x="623.55" y="157.37" width="6.56" height="5.98" fill="#fff0b3"/>
<rect x="631.21" y="157.37" width="6.56" height="5.98" fill="#fee8a2"/>
<rect x="638.87" y="157.37" width="6.56" height="5.98" fill="#fdbf6f"/>
<rect x="646.53" y="157.37" width="6.56" height="5.98" fill="#fee8a2"/>
<rect x="654.19" y="157.37" width="6.56" height="5.98" fill="#d62f27"/>
<rect x="661.85" y="157.37" width="6.56" height="5.98" fill="#fca55d"/>
<rect x="508.65" y="164.45" width="6.56" height="5.98" fill="#fff0b3"/>
<rect x="516.31" y="164.45" width="6.56" height="5.98" fill="#fee8a2"/>
<rect x="523.97" y="164.45" width="6.56" height="5.98" fill="#a7c8e4"/>
<rect x="531.63" y="164.45" width="6.56" height="5.98" fill="#c6ddef"/>
<rect x="539.29" y="164.45" width="6.56" height="5.98" fill="#d3e6f3"/>
<rect x="546.95" y="164.45" width="6.56" height="5.98" fill="#f9f8da"/>
<rect x="554.61" y="164.45" width="6.56" height="5.98" fill="#f9f8da"/>
<rect x="562.27" y="164.45" width="6.56" height="5.98" fill="#a7c8e4"/>
<rect x="569.93" y="164.45" width="6.56" height="5.98" fill="#fee090"/>
<rect x="577.59" y="164.45" width="6.56" height="5.98" fill="#fed283"/>
<rect x="585.25" y="164.45" width="6.56" height="5.98" fill="#fed283"/>
<rect x="592.91" y="164.45" width="6.56" height="5.98" fill="#fee8a2"/>
<rect x="600.57" y="164.45" width="6.56" height="5.98" fill="#fee090"/>
<rect x="608.23" y="164.45" width="6.56" height="5.98" fill="#fee8a2"/>
<rect x="615.89" y="164.45" width="6.56" height="5.98" fill="#fff0b3"/>
<rect x="623.55" y="164.45" width="6.56" height="5.98" fill="#fff5c8"/>
<rect x="631.21" y="164.45" width="6.56" height="5.98" fill="#fee090"/>
<rect x="638.87" y="164.45" width="6.56" height="5.98" fill="#fee090"/>
<rect x="646.53" y="164.45" width="6.56" height="5.98" fill="#fee090"/>
<rect x="654.19" y="164.45" width="6.56" height="5.98" fill="#fca55d"/>
<rect x="661.85" y="164.45" width="6.56" height="5.98" fill="#d62f27"/>
<text x="505.8" y="28.04" font-size="6.3" text-anchor="end" fill="#222" stroke="#222" stroke-width="0.17">FOSL2</text>
<text x="509.73" y="174" font-size="6.3" fill="#222" stroke="#222" stroke-width="0.17" transform="rotate(90 509.73 174)">FOSL2</text>
<text x="505.8" y="35.12" font-size="6.3" text-anchor="end" fill="#222" stroke="#222" stroke-width="0.17">PML</text>
<text x="517.39" y="174" font-size="6.3" fill="#222" stroke="#222" stroke-width="0.17" transform="rotate(90 517.39 174)">PML</text>
<text x="505.8" y="42.2" font-size="6.3" text-anchor="end" fill="#222" stroke="#222" stroke-width="0.17">SERPING1</text>
<text x="525.05" y="174" font-size="6.3" fill="#222" stroke="#222" stroke-width="0.17" transform="rotate(90 525.05 174)">SERPING1</text>
<text x="505.8" y="49.28" font-size="6.3" text-anchor="end" fill="#222" stroke="#222" stroke-width="0.17">CEBPB</text>
<text x="532.71" y="174" font-size="6.3" fill="#222" stroke="#222" stroke-width="0.17" transform="rotate(90 532.71 174)">CEBPB</text>
<text x="505.8" y="56.36" font-size="6.3" text-anchor="end" fill="#222" stroke="#222" stroke-width="0.17">CTBP1</text>
<text x="540.37" y="174" font-size="6.3" fill="#222" stroke="#222" stroke-width="0.17" transform="rotate(90 540.37 174)">CTBP1</text>
<text x="505.8" y="63.44" font-size="6.3" text-anchor="end" fill="#222" stroke="#222" stroke-width="0.17">E2F1</text>
<text x="548.03" y="174" font-size="6.3" fill="#222" stroke="#222" stroke-width="0.17" transform="rotate(90 548.03 174)">E2F1</text>
<text x="505.8" y="70.52" font-size="6.3" text-anchor="end" fill="#222" stroke="#222" stroke-width="0.17">GREB1</text>
<text x="555.69" y="174" font-size="6.3" fill="#222" stroke="#222" stroke-width="0.17" transform="rotate(90 555.69 174)">GREB1</text>
<text x="505.8" y="77.6" font-size="6.3" text-anchor="end" fill="#222" stroke="#222" stroke-width="0.17">AR</text>
<text x="563.35" y="174" font-size="6.3" fill="#222" stroke="#222" stroke-width="0.17" transform="rotate(90 563.35 174)">AR</text>
<text x="505.8" y="84.68" font-size="6.3" text-anchor="end" fill="#222" stroke="#222" stroke-width="0.17">FOXM1</text>
<text x="571.01" y="174" font-size="6.3" fill="#222" stroke="#222" stroke-width="0.17" transform="rotate(90 571.01 174)">FOXM1</text>
<text x="505.8" y="91.76" font-size="6.3" text-anchor="end" fill="#222" stroke="#222" stroke-width="0.17">GATA3</text>
<text x="578.67" y="174" font-size="6.3" fill="#222" stroke="#222" stroke-width="0.17" transform="rotate(90 578.67 174)">GATA3</text>
<text x="505.8" y="98.84" font-size="6.3" text-anchor="end" fill="#222" stroke="#222" stroke-width="0.17">ESR1</text>
<text x="586.33" y="174" font-size="6.3" fill="#222" stroke="#222" stroke-width="0.17" transform="rotate(90 586.33 174)">ESR1</text>
<text x="505.8" y="105.92" font-size="6.3" text-anchor="end" fill="#222" stroke="#222" stroke-width="0.17">FOXA1</text>
<text x="593.99" y="174" font-size="6.3" fill="#222" stroke="#222" stroke-width="0.17" transform="rotate(90 593.99 174)">FOXA1</text>
<text x="505.8" y="113" font-size="6.3" text-anchor="end" fill="#222" stroke="#222" stroke-width="0.17">TCF12</text>
<text x="601.65" y="174" font-size="6.3" fill="#222" stroke="#222" stroke-width="0.17" transform="rotate(90 601.65 174)">TCF12</text>
<text x="505.8" y="120.08" font-size="6.3" text-anchor="end" fill="#222" stroke="#222" stroke-width="0.17">ZNF217</text>
<text x="609.31" y="174" font-size="6.3" fill="#222" stroke="#222" stroke-width="0.17" transform="rotate(90 609.31 174)">ZNF217</text>
<text x="505.8" y="127.16" font-size="6.3" text-anchor="end" fill="#222" stroke="#222" stroke-width="0.17">SIN3A</text>
<text x="616.97" y="174" font-size="6.3" fill="#222" stroke="#222" stroke-width="0.17" transform="rotate(90 616.97 174)">SIN3A</text>
<text x="505.8" y="134.24" font-size="6.3" text-anchor="end" fill="#222" stroke="#222" stroke-width="0.17">EP300</text>
<text x="624.63" y="174" font-size="6.3" fill="#222" stroke="#222" stroke-width="0.17" transform="rotate(90 624.63 174)">EP300</text>
<text x="505.8" y="141.32" font-size="6.3" text-anchor="end" fill="#222" stroke="#222" stroke-width="0.17">HDAC2</text>
<text x="632.29" y="174" font-size="6.3" fill="#222" stroke="#222" stroke-width="0.17" transform="rotate(90 632.29 174)">HDAC2</text>
<text x="505.8" y="148.4" font-size="6.3" text-anchor="end" fill="#222" stroke="#222" stroke-width="0.17">TLE3</text>
<text x="639.95" y="174" font-size="6.3" fill="#222" stroke="#222" stroke-width="0.17" transform="rotate(90 639.95 174)">TLE3</text>
<text x="505.8" y="155.48" font-size="6.3" text-anchor="end" fill="#222" stroke="#222" stroke-width="0.17">NR2F2</text>
<text x="647.61" y="174" font-size="6.3" fill="#222" stroke="#222" stroke-width="0.17" transform="rotate(90 647.61 174)">NR2F2</text>
<text x="505.8" y="162.56" font-size="6.3" text-anchor="end" fill="#222" stroke="#222" stroke-width="0.17">SRF</text>
<text x="655.27" y="174" font-size="6.3" fill="#222" stroke="#222" stroke-width="0.17" transform="rotate(90 655.27 174)">SRF</text>
<text x="505.8" y="169.64" font-size="6.3" text-anchor="end" fill="#222" stroke="#222" stroke-width="0.17">JUND</text>
<text x="662.93" y="174" font-size="6.3" fill="#222" stroke="#222" stroke-width="0.17" transform="rotate(90 662.93 174)">JUND</text>
<path d="M511.93 22V17.4H519.59V22M527.25 22V17.4H534.91V22M515.76 17.4V12.8H531.08V17.4M542.57 22V18.4H550.23V22M557.89 22V14.3H565.55V22M546.4 18.4V13.1H561.72V14.3M588.53 22V19.5H596.19V22M580.87 22V19.1H592.36V19.5M573.21 22V15.3H586.62V19.1M603.85 22V18.8H611.51V22M619.17 22V19.7H626.83V22M634.49 22V17.3H642.15V22M623 19.7V16.9H638.32V17.3M607.68 18.8V16.4H630.66V16.9M657.47 22V19.7H665.13V22M649.81 22V15.3H661.3V19.7M619.17 16.4V13.7H655.56V15.3M579.91 15.3V10.4H637.36V13.7M554.06 13.1V8.4H608.64V10.4M523.42 12.8V2H581.35V8.4" fill="none" stroke="#111" stroke-width="0.9"/>
<rect x="674.1" y="22.9" width="3.6" height="56.9" fill="url(#eleg)"/>
<text x="679" y="24.2" font-size="3.8" fill="#333" stroke="#333" stroke-width="0.17">1</text>
<text x="679" y="31.5" font-size="3.8" fill="#333" stroke="#333" stroke-width="0.17">0.8</text>
<text x="679" y="38.8" font-size="3.8" fill="#333" stroke="#333" stroke-width="0.17">0.6</text>
<text x="679" y="46.1" font-size="3.8" fill="#333" stroke="#333" stroke-width="0.17">0.4</text>
<text x="679" y="53.4" font-size="3.8" fill="#333" stroke="#333" stroke-width="0.17">0.2</text>
<text x="679" y="60.7" font-size="3.8" fill="#333" stroke="#333" stroke-width="0.17">0</text>
<text x="679" y="68" font-size="3.8" fill="#333" stroke="#333" stroke-width="0.17">-0.2</text>
<text x="679" y="75.3" font-size="3.8" fill="#333" stroke="#333" stroke-width="0.17">-0.4</text>
<rect x="520.8" y="234.5" width="124.3" height="121.5" fill="#f1f1f1"/>
<line x1="520.8" y1="351" x2="645.1" y2="351" stroke="#f7f7f7" stroke-width="0.35"/>
<line x1="520.8" y1="326.4" x2="645.1" y2="326.4" stroke="#f7f7f7" stroke-width="0.35"/>
<line x1="520.8" y1="301.8" x2="645.1" y2="301.8" stroke="#f7f7f7" stroke-width="0.35"/>
<line x1="520.8" y1="277.2" x2="645.1" y2="277.2" stroke="#f7f7f7" stroke-width="0.35"/>
<line x1="520.8" y1="252.6" x2="645.1" y2="252.6" stroke="#f7f7f7" stroke-width="0.35"/>
<line x1="520.8" y1="338.7" x2="645.1" y2="338.7" stroke="#ffffff" stroke-width="0.7"/>
<line x1="519.2" y1="338.7" x2="520.8" y2="338.7" stroke="#333" stroke-width="0.5"/>
<text x="518.4" y="341.1" font-size="6.9" text-anchor="end" fill="#4d4d4d" stroke="#4d4d4d" stroke-width="0.17">0.0</text>
<line x1="520.8" y1="314.1" x2="645.1" y2="314.1" stroke="#ffffff" stroke-width="0.7"/>
<line x1="519.2" y1="314.1" x2="520.8" y2="314.1" stroke="#333" stroke-width="0.5"/>
<text x="518.4" y="316.5" font-size="6.9" text-anchor="end" fill="#4d4d4d" stroke="#4d4d4d" stroke-width="0.17">0.1</text>
<line x1="520.8" y1="289.5" x2="645.1" y2="289.5" stroke="#ffffff" stroke-width="0.7"/>
<line x1="519.2" y1="289.5" x2="520.8" y2="289.5" stroke="#333" stroke-width="0.5"/>
<text x="518.4" y="291.9" font-size="6.9" text-anchor="end" fill="#4d4d4d" stroke="#4d4d4d" stroke-width="0.17">0.2</text>
<line x1="520.8" y1="264.9" x2="645.1" y2="264.9" stroke="#ffffff" stroke-width="0.7"/>
<line x1="519.2" y1="264.9" x2="520.8" y2="264.9" stroke="#333" stroke-width="0.5"/>
<text x="518.4" y="267.3" font-size="6.9" text-anchor="end" fill="#4d4d4d" stroke="#4d4d4d" stroke-width="0.17">0.3</text>
<line x1="520.8" y1="240.3" x2="645.1" y2="240.3" stroke="#ffffff" stroke-width="0.7"/>
<line x1="519.2" y1="240.3" x2="520.8" y2="240.3" stroke="#333" stroke-width="0.5"/>
<text x="518.4" y="242.7" font-size="6.9" text-anchor="end" fill="#4d4d4d" stroke="#4d4d4d" stroke-width="0.17">0.4</text>
<line x1="538.56" y1="234.5" x2="538.56" y2="356" stroke="#ffffff" stroke-width="0.7"/>
<line x1="538.56" y1="356" x2="538.56" y2="357.6" stroke="#333" stroke-width="0.5"/>
<line x1="568.15" y1="234.5" x2="568.15" y2="356" stroke="#ffffff" stroke-width="0.7"/>
<line x1="568.15" y1="356" x2="568.15" y2="357.6" stroke="#333" stroke-width="0.5"/>
<line x1="597.75" y1="234.5" x2="597.75" y2="356" stroke="#ffffff" stroke-width="0.7"/>
<line x1="597.75" y1="356" x2="597.75" y2="357.6" stroke="#333" stroke-width="0.5"/>
<line x1="627.34" y1="234.5" x2="627.34" y2="356" stroke="#ffffff" stroke-width="0.7"/>
<line x1="627.34" y1="356" x2="627.34" y2="357.6" stroke="#333" stroke-width="0.5"/>
<rect x="525.24" y="335.5" width="26.64" height="3.2" fill="#c6dcef"/>
<rect x="554.83" y="327.14" width="26.64" height="11.56" fill="#a9d1ee"/>
<rect x="584.43" y="310.9" width="26.64" height="27.8" fill="#7aaad2"/>
<rect x="614.02" y="303.77" width="26.64" height="34.93" fill="#4a6f90"/>
<path d="M534.86 333.41H542.26M538.56 333.41V337.22M534.86 337.22H542.26" fill="none" stroke="#e0706a" stroke-width="0.65"/>
<path d="M564.45 322.46H571.85M568.15 322.46V331.81M564.45 331.81H571.85" fill="none" stroke="#e0706a" stroke-width="0.65"/>
<path d="M594.05 304.26H601.45M597.75 304.26V317.4M594.05 317.4H601.45" fill="none" stroke="#e0706a" stroke-width="0.65"/>
<path d="M623.64 293.44H631.04M627.34 293.44V313.61M623.64 313.61H631.04" fill="none" stroke="#e0706a" stroke-width="0.65"/>
<text x="538.56" y="364.2" font-size="6.4" text-anchor="middle" fill="#4d4d4d" stroke="#4d4d4d" stroke-width="0.17">1−2</text>
<text x="568.15" y="364.2" font-size="6.4" text-anchor="middle" fill="#4d4d4d" stroke="#4d4d4d" stroke-width="0.17">3−5</text>
<text x="597.75" y="364.2" font-size="6.4" text-anchor="middle" fill="#4d4d4d" stroke="#4d4d4d" stroke-width="0.17">6−10</text>
<text x="627.34" y="364.2" font-size="6.4" text-anchor="middle" fill="#4d4d4d" stroke="#4d4d4d" stroke-width="0.17">11+</text>
<text x="590" y="373.6" font-size="6.6" text-anchor="middle" fill="#222" stroke="#222" stroke-width="0.17">No.of TFs</text>
<text x="520.8" y="232.5" font-size="6.3" fill="#222" stroke="#222" stroke-width="0.17">Sum of 22 TFs</text>
<text transform="translate(502.2 290.5) rotate(-90)" font-size="7.8" text-anchor="middle" fill="#333">Δ<tspan font-style="italic">χ</tspan><tspan font-size="6" dy="-3.8">2</tspan></text>
<rect x="489.5" y="421.2" width="72.3" height="122.2" fill="#f1f1f1"/>
<line x1="489.5" y1="537.59" x2="561.8" y2="537.59" stroke="#f7f7f7" stroke-width="0.35"/>
<line x1="489.5" y1="513.01" x2="561.8" y2="513.01" stroke="#f7f7f7" stroke-width="0.35"/>
<line x1="489.5" y1="488.44" x2="561.8" y2="488.44" stroke="#f7f7f7" stroke-width="0.35"/>
<line x1="489.5" y1="463.86" x2="561.8" y2="463.86" stroke="#f7f7f7" stroke-width="0.35"/>
<line x1="489.5" y1="439.29" x2="561.8" y2="439.29" stroke="#f7f7f7" stroke-width="0.35"/>
<line x1="489.5" y1="525.3" x2="561.8" y2="525.3" stroke="#ffffff" stroke-width="0.7"/>
<line x1="487.9" y1="525.3" x2="489.5" y2="525.3" stroke="#333" stroke-width="0.5"/>
<text x="487.1" y="527.7" font-size="6.9" text-anchor="end" fill="#4d4d4d" stroke="#4d4d4d" stroke-width="0.17">0.0</text>
<line x1="489.5" y1="500.72" x2="561.8" y2="500.72" stroke="#ffffff" stroke-width="0.7"/>
<line x1="487.9" y1="500.72" x2="489.5" y2="500.72" stroke="#333" stroke-width="0.5"/>
<text x="487.1" y="503.12" font-size="6.9" text-anchor="end" fill="#4d4d4d" stroke="#4d4d4d" stroke-width="0.17">0.1</text>
<line x1="489.5" y1="476.15" x2="561.8" y2="476.15" stroke="#ffffff" stroke-width="0.7"/>
<line x1="487.9" y1="476.15" x2="489.5" y2="476.15" stroke="#333" stroke-width="0.5"/>
<text x="487.1" y="478.55" font-size="6.9" text-anchor="end" fill="#4d4d4d" stroke="#4d4d4d" stroke-width="0.17">0.2</text>
<line x1="489.5" y1="451.57" x2="561.8" y2="451.57" stroke="#ffffff" stroke-width="0.7"/>
<line x1="487.9" y1="451.57" x2="489.5" y2="451.57" stroke="#333" stroke-width="0.5"/>
<text x="487.1" y="453.97" font-size="6.9" text-anchor="end" fill="#4d4d4d" stroke="#4d4d4d" stroke-width="0.17">0.3</text>
<line x1="489.5" y1="427" x2="561.8" y2="427" stroke="#ffffff" stroke-width="0.7"/>
<line x1="487.9" y1="427" x2="489.5" y2="427" stroke="#333" stroke-width="0.5"/>
<text x="487.1" y="429.4" font-size="6.9" text-anchor="end" fill="#4d4d4d" stroke="#4d4d4d" stroke-width="0.17">0.4</text>
<line x1="499.83" y1="421.2" x2="499.83" y2="543.4" stroke="#ffffff" stroke-width="0.7"/>
<line x1="499.83" y1="543.4" x2="499.83" y2="545" stroke="#333" stroke-width="0.5"/>
<line x1="517.04" y1="421.2" x2="517.04" y2="543.4" stroke="#ffffff" stroke-width="0.7"/>
<line x1="517.04" y1="543.4" x2="517.04" y2="545" stroke="#333" stroke-width="0.5"/>
<line x1="534.26" y1="421.2" x2="534.26" y2="543.4" stroke="#ffffff" stroke-width="0.7"/>
<line x1="534.26" y1="543.4" x2="534.26" y2="545" stroke="#333" stroke-width="0.5"/>
<line x1="551.47" y1="421.2" x2="551.47" y2="543.4" stroke="#ffffff" stroke-width="0.7"/>
<line x1="551.47" y1="543.4" x2="551.47" y2="545" stroke="#333" stroke-width="0.5"/>
<rect x="492.08" y="518.66" width="15.49" height="6.64" fill="#c6dcef"/>
<rect x="509.3" y="514.73" width="15.49" height="10.57" fill="#a9d1ee"/>
<rect x="526.51" y="525.3" width="15.49" height="1.23" fill="#7aaad2"/>
<rect x="543.73" y="522.35" width="15.49" height="2.95" fill="#4a6f90"/>
<path d="M497.68 513.11H501.98M499.83 513.11V524.07M497.68 524.07H501.98" fill="none" stroke="#e0706a" stroke-width="0.65"/>
<path d="M514.89 507.21H519.19M517.04 507.21V522.35M514.89 522.35H519.19" fill="none" stroke="#e0706a" stroke-width="0.65"/>
<path d="M532.11 511.54H536.41M534.26 511.54V537.1M532.11 537.1H536.41" fill="none" stroke="#e0706a" stroke-width="0.65"/>
<path d="M549.32 512.52H553.62M551.47 512.52V532.18M549.32 532.18H553.62" fill="none" stroke="#e0706a" stroke-width="0.65"/>
<text x="499.83" y="551.6" font-size="6.4" text-anchor="middle" fill="#4d4d4d" stroke="#4d4d4d" stroke-width="0.17">1−2</text>
<text x="517.04" y="551.6" font-size="6.4" text-anchor="middle" fill="#4d4d4d" stroke="#4d4d4d" stroke-width="0.17">3−5</text>
<text x="534.26" y="551.6" font-size="6.4" text-anchor="middle" fill="#4d4d4d" stroke="#4d4d4d" stroke-width="0.17">6−10</text>
<text x="551.47" y="551.6" font-size="6.4" text-anchor="middle" fill="#4d4d4d" stroke="#4d4d4d" stroke-width="0.17">11+</text>
<text x="525.65" y="562.4" font-size="6.6" text-anchor="middle" fill="#222" stroke="#222" stroke-width="0.17">No.of TFs</text>
<text x="489.5" y="415.2" font-size="6.3" fill="#222" stroke="#222" stroke-width="0.17">Sum of 21 TFs, FOXA1=0</text>
<text transform="translate(469.8 474.5) rotate(-90)" font-size="7.8" text-anchor="middle" fill="#333">Δ<tspan font-style="italic">χ</tspan><tspan font-size="6" dy="-3.8">2</tspan></text>
<rect x="593.9" y="421.7" width="66.4" height="121.7" fill="#f1f1f1"/>
<line x1="593.9" y1="537.59" x2="660.3" y2="537.59" stroke="#f7f7f7" stroke-width="0.35"/>
<line x1="593.9" y1="513.01" x2="660.3" y2="513.01" stroke="#f7f7f7" stroke-width="0.35"/>
<line x1="593.9" y1="488.44" x2="660.3" y2="488.44" stroke="#f7f7f7" stroke-width="0.35"/>
<line x1="593.9" y1="463.86" x2="660.3" y2="463.86" stroke="#f7f7f7" stroke-width="0.35"/>
<line x1="593.9" y1="439.29" x2="660.3" y2="439.29" stroke="#f7f7f7" stroke-width="0.35"/>
<line x1="593.9" y1="525.3" x2="660.3" y2="525.3" stroke="#ffffff" stroke-width="0.7"/>
<line x1="592.3" y1="525.3" x2="593.9" y2="525.3" stroke="#333" stroke-width="0.5"/>
<text x="591.5" y="527.7" font-size="6.9" text-anchor="end" fill="#4d4d4d" stroke="#4d4d4d" stroke-width="0.17">0.0</text>
<line x1="593.9" y1="500.72" x2="660.3" y2="500.72" stroke="#ffffff" stroke-width="0.7"/>
<line x1="592.3" y1="500.72" x2="593.9" y2="500.72" stroke="#333" stroke-width="0.5"/>
<text x="591.5" y="503.12" font-size="6.9" text-anchor="end" fill="#4d4d4d" stroke="#4d4d4d" stroke-width="0.17">0.1</text>
<line x1="593.9" y1="476.15" x2="660.3" y2="476.15" stroke="#ffffff" stroke-width="0.7"/>
<line x1="592.3" y1="476.15" x2="593.9" y2="476.15" stroke="#333" stroke-width="0.5"/>
<text x="591.5" y="478.55" font-size="6.9" text-anchor="end" fill="#4d4d4d" stroke="#4d4d4d" stroke-width="0.17">0.2</text>
<line x1="593.9" y1="451.57" x2="660.3" y2="451.57" stroke="#ffffff" stroke-width="0.7"/>
<line x1="592.3" y1="451.57" x2="593.9" y2="451.57" stroke="#333" stroke-width="0.5"/>
<text x="591.5" y="453.97" font-size="6.9" text-anchor="end" fill="#4d4d4d" stroke="#4d4d4d" stroke-width="0.17">0.3</text>
<line x1="593.9" y1="427" x2="660.3" y2="427" stroke="#ffffff" stroke-width="0.7"/>
<line x1="592.3" y1="427" x2="593.9" y2="427" stroke="#333" stroke-width="0.5"/>
<text x="591.5" y="429.4" font-size="6.9" text-anchor="end" fill="#4d4d4d" stroke="#4d4d4d" stroke-width="0.17">0.4</text>
<line x1="603.39" y1="421.7" x2="603.39" y2="543.4" stroke="#ffffff" stroke-width="0.7"/>
<line x1="603.39" y1="543.4" x2="603.39" y2="545" stroke="#333" stroke-width="0.5"/>
<line x1="619.2" y1="421.7" x2="619.2" y2="543.4" stroke="#ffffff" stroke-width="0.7"/>
<line x1="619.2" y1="543.4" x2="619.2" y2="545" stroke="#333" stroke-width="0.5"/>
<line x1="635" y1="421.7" x2="635" y2="543.4" stroke="#ffffff" stroke-width="0.7"/>
<line x1="635" y1="543.4" x2="635" y2="545" stroke="#333" stroke-width="0.5"/>
<line x1="650.81" y1="421.7" x2="650.81" y2="543.4" stroke="#ffffff" stroke-width="0.7"/>
<line x1="650.81" y1="543.4" x2="650.81" y2="545" stroke="#333" stroke-width="0.5"/>
<rect x="596.27" y="521.37" width="14.23" height="3.93" fill="#c6dcef"/>
<rect x="612.08" y="469.51" width="14.23" height="55.79" fill="#a9d1ee"/>
<rect x="627.89" y="471.97" width="14.23" height="53.33" fill="#7aaad2"/>
<rect x="643.7" y="443.47" width="14.23" height="81.83" fill="#4a6f90"/>
<path d="M601.41 506.62H605.36M603.39 506.62V535.13M601.41 535.13H605.36" fill="none" stroke="#e0706a" stroke-width="0.65"/>
<path d="M617.22 453.05H621.17M619.2 453.05V485.98M617.22 485.98H621.17" fill="none" stroke="#e0706a" stroke-width="0.65"/>
<path d="M633.03 455.61H636.98M635 455.61V489.17M633.03 489.17H636.98" fill="none" stroke="#e0706a" stroke-width="0.65"/>
<path d="M648.84 425.03H652.79M650.81 425.03V462.14M648.84 462.14H652.79" fill="none" stroke="#e0706a" stroke-width="0.65"/>
<text x="603.39" y="551.6" font-size="6.4" text-anchor="middle" fill="#4d4d4d" stroke="#4d4d4d" stroke-width="0.17">1−2</text>
<text x="619.2" y="551.6" font-size="6.4" text-anchor="middle" fill="#4d4d4d" stroke="#4d4d4d" stroke-width="0.17">3−5</text>
<text x="635" y="551.6" font-size="6.4" text-anchor="middle" fill="#4d4d4d" stroke="#4d4d4d" stroke-width="0.17">6−10</text>
<text x="650.81" y="551.6" font-size="6.4" text-anchor="middle" fill="#4d4d4d" stroke="#4d4d4d" stroke-width="0.17">11+</text>
<text x="633" y="562.4" font-size="6.6" text-anchor="middle" fill="#222" stroke="#222" stroke-width="0.17">No.of TFs</text>
<text x="591.3" y="415.2" font-size="6.3" fill="#222" stroke="#222" stroke-width="0.17">Sum of 21 TFs, FOXA1=1</text>
<text transform="translate(577.6 474.5) rotate(-90)" font-size="7.8" text-anchor="middle" fill="#333">Δ<tspan font-style="italic">χ</tspan><tspan font-size="6" dy="-3.8">2</tspan></text></svg></body></html>
